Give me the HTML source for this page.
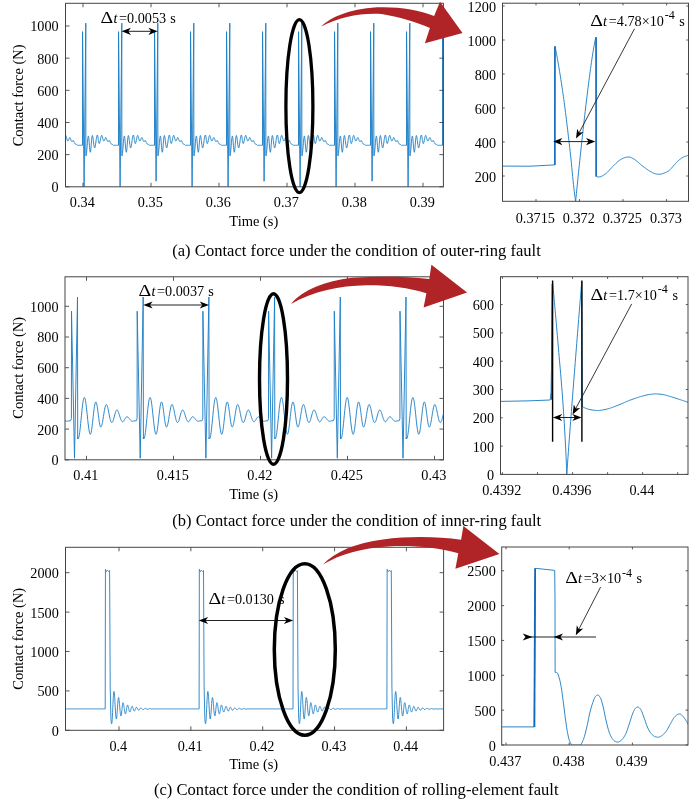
<!DOCTYPE html>
<html><head><meta charset="utf-8"><title>Contact force figures</title>
<style>html,body{margin:0;padding:0;background:#fff}svg{display:block}</style></head><body>
<svg width="700" height="800" viewBox="0 0 700 800" font-family="'Liberation Serif', serif" fill="#000">
<rect width="700" height="800" fill="#fff"/>
<defs>
<clipPath id="ca"><rect x="65.5" y="3.3" width="377.9" height="183.5"/></clipPath>
<clipPath id="ca2"><rect x="502.5" y="3.2" width="186" height="198.1"/></clipPath>
<clipPath id="cb"><rect x="65" y="276.8" width="378.5" height="183"/></clipPath>
<clipPath id="cb2"><rect x="500.5" y="276.7" width="187.5" height="197.7"/></clipPath>
<clipPath id="cc"><rect x="65.5" y="547.3" width="378.1" height="183"/></clipPath>
<clipPath id="cc2"><rect x="501.7" y="547" width="186.3" height="198"/></clipPath>
</defs>
<polyline clip-path="url(#ca)" points="46.5,145.31 46.55,31.63 48.1,181.17 49.8,23.11 49.85,155.44 50,155.86 50.15,155.45 50.3,154.69 50.45,153.62 50.6,152.27 50.75,150.69 50.9,148.95 51.05,147.1 51.2,145.21 51.35,143.35 51.5,141.58 51.65,139.97 51.8,138.58 51.95,137.45 52.1,136.62 52.25,136.13 52.4,136.01 52.55,136.4 52.7,137.25 52.85,138.5 53,140.08 53.15,141.88 53.3,143.82 53.45,145.76 53.6,147.6 53.75,149.25 53.9,150.59 54.05,151.57 54.2,152.12 54.35,152.23 54.5,151.85 54.65,151.05 54.8,149.86 54.95,148.35 55.1,146.6 55.25,144.72 55.4,142.79 55.55,140.94 55.7,139.24 55.85,137.79 56,136.66 56.15,135.89 56.3,135.53 56.45,135.56 56.6,135.87 56.75,136.43 56.9,137.22 57.05,138.2 57.2,139.32 57.35,140.54 57.5,141.81 57.65,143.06 57.8,144.26 57.95,145.34 58.1,146.28 58.25,147.03 58.4,147.57 58.55,147.87 58.7,147.92 58.85,147.75 59,147.37 59.15,146.81 59.3,146.07 59.45,145.2 59.6,144.21 59.75,143.15 59.9,142.03 60.05,140.9 60.2,139.8 60.35,138.75 60.5,137.79 60.65,136.94 60.8,136.23 60.95,135.68 61.1,135.29 61.25,135.07 61.4,135.04 61.55,135.29 61.7,135.79 61.85,136.51 62,137.4 62.15,138.4 62.3,139.44 62.45,140.48 62.6,141.43 62.75,142.26 62.9,142.91 63.05,143.35 63.2,143.57 63.35,143.54 63.5,143.38 63.65,143.07 63.8,142.61 63.95,142.04 64.1,141.37 64.25,140.63 64.4,139.85 64.55,139.06 64.7,138.29 64.85,137.57 65,136.92 65.15,136.36 65.3,135.91 65.45,135.59 65.6,135.4 65.75,135.34 65.9,135.5 66.05,135.8 66.2,136.22 66.35,136.74 66.5,137.32 66.65,137.94 66.8,138.56 66.95,139.15 67.1,139.7 67.25,140.17 67.4,140.54 67.55,140.81 67.7,140.96 67.85,141 68,140.97 68.15,140.9 68.3,140.71 68.45,140.43 68.6,140.07 68.75,139.67 68.9,139.24 69.05,138.82 69.2,138.42 69.35,138.08 69.5,137.82 69.65,137.64 69.8,137.57 69.95,137.6 70.1,137.77 70.25,138.04 70.4,138.38 70.55,138.78 70.7,139.22 70.85,139.66 71,140.09 71.15,140.5 71.3,140.85 71.45,141.14 71.6,141.37 71.75,141.52 71.9,141.6 72.05,141.66 72.2,141.62 72.35,141.48 72.5,141.27 72.65,141.01 72.8,140.76 72.95,140.56 73.1,140.44 73.25,140.43 73.4,140.56 73.55,140.8 73.7,141.08 73.85,141.41 74,141.76 74.15,142.11 74.3,142.47 74.45,142.8 74.6,143.1 74.75,143.36 74.9,143.59 75.05,143.77 75.2,143.92 75.35,144.03 75.5,144.11 75.65,144.18 75.8,144.23 75.95,144.27 76.1,144.32 76.25,144.38 76.4,144.46 76.55,144.55 76.7,144.66 76.85,144.79 77,144.93 77.15,145.09 77.3,145.26 77.45,145.31 77.6,145.31 77.75,145.31 77.9,145.31 78.05,145.31 78.2,145.31 78.35,145.31 78.5,145.31 78.65,145.31 78.8,145.31 78.95,145.31 79.1,145.31 79.25,145.31 79.4,145.31 79.55,145.31 79.7,145.31 79.85,145.31 80,145.31 80.15,145.31 80.3,145.31 80.45,145.31 80.6,145.31 80.75,145.31 80.9,145.31 81.05,145.31 81.2,145.31 81.35,145.31 81.5,145.31 81.65,145.31 81.8,145.31 81.95,145.31 82.1,145.31 82.25,145.31 82.4,145.31 82.5,145.31 82.55,31.63 84.1,186.8 85.8,23.11 85.85,155.44 86,155.86 86.15,155.45 86.3,154.69 86.45,153.62 86.6,152.27 86.75,150.69 86.9,148.95 87.05,147.1 87.2,145.21 87.35,143.35 87.5,141.58 87.65,139.97 87.8,138.58 87.95,137.45 88.1,136.62 88.25,136.13 88.4,136.01 88.55,136.4 88.7,137.25 88.85,138.5 89,140.08 89.15,141.88 89.3,143.82 89.45,145.76 89.6,147.6 89.75,149.25 89.9,150.59 90.05,151.57 90.2,152.12 90.35,152.23 90.5,151.85 90.65,151.05 90.8,149.86 90.95,148.35 91.1,146.6 91.25,144.72 91.4,142.79 91.55,140.94 91.7,139.24 91.85,137.79 92,136.66 92.15,135.89 92.3,135.53 92.45,135.56 92.6,135.87 92.75,136.43 92.9,137.22 93.05,138.2 93.2,139.32 93.35,140.54 93.5,141.81 93.65,143.06 93.8,144.26 93.95,145.34 94.1,146.28 94.25,147.03 94.4,147.57 94.55,147.87 94.7,147.92 94.85,147.75 95,147.37 95.15,146.81 95.3,146.07 95.45,145.2 95.6,144.21 95.75,143.15 95.9,142.03 96.05,140.9 96.2,139.8 96.35,138.75 96.5,137.79 96.65,136.94 96.8,136.23 96.95,135.68 97.1,135.29 97.25,135.07 97.4,135.04 97.55,135.29 97.7,135.79 97.85,136.51 98,137.4 98.15,138.4 98.3,139.44 98.45,140.48 98.6,141.43 98.75,142.26 98.9,142.91 99.05,143.35 99.2,143.57 99.35,143.54 99.5,143.38 99.65,143.07 99.8,142.61 99.95,142.04 100.1,141.37 100.25,140.63 100.4,139.85 100.55,139.06 100.7,138.29 100.85,137.57 101,136.92 101.15,136.36 101.3,135.91 101.45,135.59 101.6,135.4 101.75,135.34 101.9,135.5 102.05,135.8 102.2,136.22 102.35,136.74 102.5,137.32 102.65,137.94 102.8,138.56 102.95,139.15 103.1,139.7 103.25,140.17 103.4,140.54 103.55,140.81 103.7,140.96 103.85,141 104,140.97 104.15,140.9 104.3,140.71 104.45,140.43 104.6,140.07 104.75,139.67 104.9,139.24 105.05,138.82 105.2,138.42 105.35,138.08 105.5,137.82 105.65,137.64 105.8,137.57 105.95,137.6 106.1,137.77 106.25,138.04 106.4,138.38 106.55,138.78 106.7,139.22 106.85,139.66 107,140.09 107.15,140.5 107.3,140.85 107.45,141.14 107.6,141.37 107.75,141.52 107.9,141.6 108.05,141.66 108.2,141.62 108.35,141.48 108.5,141.27 108.65,141.01 108.8,140.76 108.95,140.56 109.1,140.44 109.25,140.43 109.4,140.56 109.55,140.8 109.7,141.08 109.85,141.41 110,141.76 110.15,142.11 110.3,142.47 110.45,142.8 110.6,143.1 110.75,143.36 110.9,143.59 111.05,143.77 111.2,143.92 111.35,144.03 111.5,144.11 111.65,144.18 111.8,144.23 111.95,144.27 112.1,144.32 112.25,144.38 112.4,144.46 112.55,144.55 112.7,144.66 112.85,144.79 113,144.93 113.15,145.09 113.3,145.26 113.45,145.31 113.6,145.31 113.75,145.31 113.9,145.31 114.05,145.31 114.2,145.31 114.35,145.31 114.5,145.31 114.65,145.31 114.8,145.31 114.95,145.31 115.1,145.31 115.25,145.31 115.4,145.31 115.55,145.31 115.7,145.31 115.85,145.31 116,145.31 116.15,145.31 116.3,145.31 116.45,145.31 116.6,145.31 116.75,145.31 116.9,145.31 117.05,145.31 117.2,145.31 117.35,145.31 117.5,145.31 117.65,145.31 117.8,145.31 117.95,145.31 118.1,145.31 118.25,145.31 118.4,145.31 118.5,145.31 118.55,31.63 120.1,186.8 121.8,23.11 121.85,155.44 122,155.86 122.15,155.45 122.3,154.69 122.45,153.62 122.6,152.27 122.75,150.69 122.9,148.95 123.05,147.1 123.2,145.21 123.35,143.35 123.5,141.58 123.65,139.97 123.8,138.58 123.95,137.45 124.1,136.62 124.25,136.13 124.4,136.01 124.55,136.4 124.7,137.25 124.85,138.5 125,140.08 125.15,141.88 125.3,143.82 125.45,145.76 125.6,147.6 125.75,149.25 125.9,150.59 126.05,151.57 126.2,152.12 126.35,152.23 126.5,151.85 126.65,151.05 126.8,149.86 126.95,148.35 127.1,146.6 127.25,144.72 127.4,142.79 127.55,140.94 127.7,139.24 127.85,137.79 128,136.66 128.15,135.89 128.3,135.53 128.45,135.56 128.6,135.87 128.75,136.43 128.9,137.22 129.05,138.2 129.2,139.32 129.35,140.54 129.5,141.81 129.65,143.06 129.8,144.26 129.95,145.34 130.1,146.28 130.25,147.03 130.4,147.57 130.55,147.87 130.7,147.92 130.85,147.75 131,147.37 131.15,146.81 131.3,146.07 131.45,145.2 131.6,144.21 131.75,143.15 131.9,142.03 132.05,140.9 132.2,139.8 132.35,138.75 132.5,137.79 132.65,136.94 132.8,136.23 132.95,135.68 133.1,135.29 133.25,135.07 133.4,135.04 133.55,135.29 133.7,135.79 133.85,136.51 134,137.4 134.15,138.4 134.3,139.44 134.45,140.48 134.6,141.43 134.75,142.26 134.9,142.91 135.05,143.35 135.2,143.57 135.35,143.54 135.5,143.38 135.65,143.07 135.8,142.61 135.95,142.04 136.1,141.37 136.25,140.63 136.4,139.85 136.55,139.06 136.7,138.29 136.85,137.57 137,136.92 137.15,136.36 137.3,135.91 137.45,135.59 137.6,135.4 137.75,135.34 137.9,135.5 138.05,135.8 138.2,136.22 138.35,136.74 138.5,137.32 138.65,137.94 138.8,138.56 138.95,139.15 139.1,139.7 139.25,140.17 139.4,140.54 139.55,140.81 139.7,140.96 139.85,141 140,140.97 140.15,140.9 140.3,140.71 140.45,140.43 140.6,140.07 140.75,139.67 140.9,139.24 141.05,138.82 141.2,138.42 141.35,138.08 141.5,137.82 141.65,137.64 141.8,137.57 141.95,137.6 142.1,137.77 142.25,138.04 142.4,138.38 142.55,138.78 142.7,139.22 142.85,139.66 143,140.09 143.15,140.5 143.3,140.85 143.45,141.14 143.6,141.37 143.75,141.52 143.9,141.6 144.05,141.66 144.2,141.62 144.35,141.48 144.5,141.27 144.65,141.01 144.8,140.76 144.95,140.56 145.1,140.44 145.25,140.43 145.4,140.56 145.55,140.8 145.7,141.08 145.85,141.41 146,141.76 146.15,142.11 146.3,142.47 146.45,142.8 146.6,143.1 146.75,143.36 146.9,143.59 147.05,143.77 147.2,143.92 147.35,144.03 147.5,144.11 147.65,144.18 147.8,144.23 147.95,144.27 148.1,144.32 148.25,144.38 148.4,144.46 148.55,144.55 148.7,144.66 148.85,144.79 149,144.93 149.15,145.09 149.3,145.26 149.45,145.31 149.6,145.31 149.75,145.31 149.9,145.31 150.05,145.31 150.2,145.31 150.35,145.31 150.5,145.31 150.65,145.31 150.8,145.31 150.95,145.31 151.1,145.31 151.25,145.31 151.4,145.31 151.55,145.31 151.7,145.31 151.85,145.31 152,145.31 152.15,145.31 152.3,145.31 152.45,145.31 152.6,145.31 152.75,145.31 152.9,145.31 153.05,145.31 153.2,145.31 153.35,145.31 153.5,145.31 153.65,145.31 153.8,145.31 153.95,145.31 154.1,145.31 154.25,145.31 154.4,145.31 154.5,145.31 154.55,31.63 156.1,181.17 157.8,23.11 157.85,155.44 158,155.86 158.15,155.45 158.3,154.69 158.45,153.62 158.6,152.27 158.75,150.69 158.9,148.95 159.05,147.1 159.2,145.21 159.35,143.35 159.5,141.58 159.65,139.97 159.8,138.58 159.95,137.45 160.1,136.62 160.25,136.13 160.4,136.01 160.55,136.4 160.7,137.25 160.85,138.5 161,140.08 161.15,141.88 161.3,143.82 161.45,145.76 161.6,147.6 161.75,149.25 161.9,150.59 162.05,151.57 162.2,152.12 162.35,152.23 162.5,151.85 162.65,151.05 162.8,149.86 162.95,148.35 163.1,146.6 163.25,144.72 163.4,142.79 163.55,140.94 163.7,139.24 163.85,137.79 164,136.66 164.15,135.89 164.3,135.53 164.45,135.56 164.6,135.87 164.75,136.43 164.9,137.22 165.05,138.2 165.2,139.32 165.35,140.54 165.5,141.81 165.65,143.06 165.8,144.26 165.95,145.34 166.1,146.28 166.25,147.03 166.4,147.57 166.55,147.87 166.7,147.92 166.85,147.75 167,147.37 167.15,146.81 167.3,146.07 167.45,145.2 167.6,144.21 167.75,143.15 167.9,142.03 168.05,140.9 168.2,139.8 168.35,138.75 168.5,137.79 168.65,136.94 168.8,136.23 168.95,135.68 169.1,135.29 169.25,135.07 169.4,135.04 169.55,135.29 169.7,135.79 169.85,136.51 170,137.4 170.15,138.4 170.3,139.44 170.45,140.48 170.6,141.43 170.75,142.26 170.9,142.91 171.05,143.35 171.2,143.57 171.35,143.54 171.5,143.38 171.65,143.07 171.8,142.61 171.95,142.04 172.1,141.37 172.25,140.63 172.4,139.85 172.55,139.06 172.7,138.29 172.85,137.57 173,136.92 173.15,136.36 173.3,135.91 173.45,135.59 173.6,135.4 173.75,135.34 173.9,135.5 174.05,135.8 174.2,136.22 174.35,136.74 174.5,137.32 174.65,137.94 174.8,138.56 174.95,139.15 175.1,139.7 175.25,140.17 175.4,140.54 175.55,140.81 175.7,140.96 175.85,141 176,140.97 176.15,140.9 176.3,140.71 176.45,140.43 176.6,140.07 176.75,139.67 176.9,139.24 177.05,138.82 177.2,138.42 177.35,138.08 177.5,137.82 177.65,137.64 177.8,137.57 177.95,137.6 178.1,137.77 178.25,138.04 178.4,138.38 178.55,138.78 178.7,139.22 178.85,139.66 179,140.09 179.15,140.5 179.3,140.85 179.45,141.14 179.6,141.37 179.75,141.52 179.9,141.6 180.05,141.66 180.2,141.62 180.35,141.48 180.5,141.27 180.65,141.01 180.8,140.76 180.95,140.56 181.1,140.44 181.25,140.43 181.4,140.56 181.55,140.8 181.7,141.08 181.85,141.41 182,141.76 182.15,142.11 182.3,142.47 182.45,142.8 182.6,143.1 182.75,143.36 182.9,143.59 183.05,143.77 183.2,143.92 183.35,144.03 183.5,144.11 183.65,144.18 183.8,144.23 183.95,144.27 184.1,144.32 184.25,144.38 184.4,144.46 184.55,144.55 184.7,144.66 184.85,144.79 185,144.93 185.15,145.09 185.3,145.26 185.45,145.31 185.6,145.31 185.75,145.31 185.9,145.31 186.05,145.31 186.2,145.31 186.35,145.31 186.5,145.31 186.65,145.31 186.8,145.31 186.95,145.31 187.1,145.31 187.25,145.31 187.4,145.31 187.55,145.31 187.7,145.31 187.85,145.31 188,145.31 188.15,145.31 188.3,145.31 188.45,145.31 188.6,145.31 188.75,145.31 188.9,145.31 189.05,145.31 189.2,145.31 189.35,145.31 189.5,145.31 189.65,145.31 189.8,145.31 189.95,145.31 190.1,145.31 190.25,145.31 190.4,145.31 190.5,145.31 190.55,31.63 192.1,186.8 193.8,23.11 193.85,155.44 194,155.86 194.15,155.45 194.3,154.69 194.45,153.62 194.6,152.27 194.75,150.69 194.9,148.95 195.05,147.1 195.2,145.21 195.35,143.35 195.5,141.58 195.65,139.97 195.8,138.58 195.95,137.45 196.1,136.62 196.25,136.13 196.4,136.01 196.55,136.4 196.7,137.25 196.85,138.5 197,140.08 197.15,141.88 197.3,143.82 197.45,145.76 197.6,147.6 197.75,149.25 197.9,150.59 198.05,151.57 198.2,152.12 198.35,152.23 198.5,151.85 198.65,151.05 198.8,149.86 198.95,148.35 199.1,146.6 199.25,144.72 199.4,142.79 199.55,140.94 199.7,139.24 199.85,137.79 200,136.66 200.15,135.89 200.3,135.53 200.45,135.56 200.6,135.87 200.75,136.43 200.9,137.22 201.05,138.2 201.2,139.32 201.35,140.54 201.5,141.81 201.65,143.06 201.8,144.26 201.95,145.34 202.1,146.28 202.25,147.03 202.4,147.57 202.55,147.87 202.7,147.92 202.85,147.75 203,147.37 203.15,146.81 203.3,146.07 203.45,145.2 203.6,144.21 203.75,143.15 203.9,142.03 204.05,140.9 204.2,139.8 204.35,138.75 204.5,137.79 204.65,136.94 204.8,136.23 204.95,135.68 205.1,135.29 205.25,135.07 205.4,135.04 205.55,135.29 205.7,135.79 205.85,136.51 206,137.4 206.15,138.4 206.3,139.44 206.45,140.48 206.6,141.43 206.75,142.26 206.9,142.91 207.05,143.35 207.2,143.57 207.35,143.54 207.5,143.38 207.65,143.07 207.8,142.61 207.95,142.04 208.1,141.37 208.25,140.63 208.4,139.85 208.55,139.06 208.7,138.29 208.85,137.57 209,136.92 209.15,136.36 209.3,135.91 209.45,135.59 209.6,135.4 209.75,135.34 209.9,135.5 210.05,135.8 210.2,136.22 210.35,136.74 210.5,137.32 210.65,137.94 210.8,138.56 210.95,139.15 211.1,139.7 211.25,140.17 211.4,140.54 211.55,140.81 211.7,140.96 211.85,141 212,140.97 212.15,140.9 212.3,140.71 212.45,140.43 212.6,140.07 212.75,139.67 212.9,139.24 213.05,138.82 213.2,138.42 213.35,138.08 213.5,137.82 213.65,137.64 213.8,137.57 213.95,137.6 214.1,137.77 214.25,138.04 214.4,138.38 214.55,138.78 214.7,139.22 214.85,139.66 215,140.09 215.15,140.5 215.3,140.85 215.45,141.14 215.6,141.37 215.75,141.52 215.9,141.6 216.05,141.66 216.2,141.62 216.35,141.48 216.5,141.27 216.65,141.01 216.8,140.76 216.95,140.56 217.1,140.44 217.25,140.43 217.4,140.56 217.55,140.8 217.7,141.08 217.85,141.41 218,141.76 218.15,142.11 218.3,142.47 218.45,142.8 218.6,143.1 218.75,143.36 218.9,143.59 219.05,143.77 219.2,143.92 219.35,144.03 219.5,144.11 219.65,144.18 219.8,144.23 219.95,144.27 220.1,144.32 220.25,144.38 220.4,144.46 220.55,144.55 220.7,144.66 220.85,144.79 221,144.93 221.15,145.09 221.3,145.26 221.45,145.31 221.6,145.31 221.75,145.31 221.9,145.31 222.05,145.31 222.2,145.31 222.35,145.31 222.5,145.31 222.65,145.31 222.8,145.31 222.95,145.31 223.1,145.31 223.25,145.31 223.4,145.31 223.55,145.31 223.7,145.31 223.85,145.31 224,145.31 224.15,145.31 224.3,145.31 224.45,145.31 224.6,145.31 224.75,145.31 224.9,145.31 225.05,145.31 225.2,145.31 225.35,145.31 225.5,145.31 225.65,145.31 225.8,145.31 225.95,145.31 226.1,145.31 226.25,145.31 226.4,145.31 226.5,145.31 226.55,31.63 228.1,186.8 229.8,23.11 229.85,155.44 230,155.86 230.15,155.45 230.3,154.69 230.45,153.62 230.6,152.27 230.75,150.69 230.9,148.95 231.05,147.1 231.2,145.21 231.35,143.35 231.5,141.58 231.65,139.97 231.8,138.58 231.95,137.45 232.1,136.62 232.25,136.13 232.4,136.01 232.55,136.4 232.7,137.25 232.85,138.5 233,140.08 233.15,141.88 233.3,143.82 233.45,145.76 233.6,147.6 233.75,149.25 233.9,150.59 234.05,151.57 234.2,152.12 234.35,152.23 234.5,151.85 234.65,151.05 234.8,149.86 234.95,148.35 235.1,146.6 235.25,144.72 235.4,142.79 235.55,140.94 235.7,139.24 235.85,137.79 236,136.66 236.15,135.89 236.3,135.53 236.45,135.56 236.6,135.87 236.75,136.43 236.9,137.22 237.05,138.2 237.2,139.32 237.35,140.54 237.5,141.81 237.65,143.06 237.8,144.26 237.95,145.34 238.1,146.28 238.25,147.03 238.4,147.57 238.55,147.87 238.7,147.92 238.85,147.75 239,147.37 239.15,146.81 239.3,146.07 239.45,145.2 239.6,144.21 239.75,143.15 239.9,142.03 240.05,140.9 240.2,139.8 240.35,138.75 240.5,137.79 240.65,136.94 240.8,136.23 240.95,135.68 241.1,135.29 241.25,135.07 241.4,135.04 241.55,135.29 241.7,135.79 241.85,136.51 242,137.4 242.15,138.4 242.3,139.44 242.45,140.48 242.6,141.43 242.75,142.26 242.9,142.91 243.05,143.35 243.2,143.57 243.35,143.54 243.5,143.38 243.65,143.07 243.8,142.61 243.95,142.04 244.1,141.37 244.25,140.63 244.4,139.85 244.55,139.06 244.7,138.29 244.85,137.57 245,136.92 245.15,136.36 245.3,135.91 245.45,135.59 245.6,135.4 245.75,135.34 245.9,135.5 246.05,135.8 246.2,136.22 246.35,136.74 246.5,137.32 246.65,137.94 246.8,138.56 246.95,139.15 247.1,139.7 247.25,140.17 247.4,140.54 247.55,140.81 247.7,140.96 247.85,141 248,140.97 248.15,140.9 248.3,140.71 248.45,140.43 248.6,140.07 248.75,139.67 248.9,139.24 249.05,138.82 249.2,138.42 249.35,138.08 249.5,137.82 249.65,137.64 249.8,137.57 249.95,137.6 250.1,137.77 250.25,138.04 250.4,138.38 250.55,138.78 250.7,139.22 250.85,139.66 251,140.09 251.15,140.5 251.3,140.85 251.45,141.14 251.6,141.37 251.75,141.52 251.9,141.6 252.05,141.66 252.2,141.62 252.35,141.48 252.5,141.27 252.65,141.01 252.8,140.76 252.95,140.56 253.1,140.44 253.25,140.43 253.4,140.56 253.55,140.8 253.7,141.08 253.85,141.41 254,141.76 254.15,142.11 254.3,142.47 254.45,142.8 254.6,143.1 254.75,143.36 254.9,143.59 255.05,143.77 255.2,143.92 255.35,144.03 255.5,144.11 255.65,144.18 255.8,144.23 255.95,144.27 256.1,144.32 256.25,144.38 256.4,144.46 256.55,144.55 256.7,144.66 256.85,144.79 257,144.93 257.15,145.09 257.3,145.26 257.45,145.31 257.6,145.31 257.75,145.31 257.9,145.31 258.05,145.31 258.2,145.31 258.35,145.31 258.5,145.31 258.65,145.31 258.8,145.31 258.95,145.31 259.1,145.31 259.25,145.31 259.4,145.31 259.55,145.31 259.7,145.31 259.85,145.31 260,145.31 260.15,145.31 260.3,145.31 260.45,145.31 260.6,145.31 260.75,145.31 260.9,145.31 261.05,145.31 261.2,145.31 261.35,145.31 261.5,145.31 261.65,145.31 261.8,145.31 261.95,145.31 262.1,145.31 262.25,145.31 262.4,145.31 262.5,145.31 262.55,31.63 264.1,181.17 265.8,23.11 265.85,155.44 266,155.86 266.15,155.45 266.3,154.69 266.45,153.62 266.6,152.27 266.75,150.69 266.9,148.95 267.05,147.1 267.2,145.21 267.35,143.35 267.5,141.58 267.65,139.97 267.8,138.58 267.95,137.45 268.1,136.62 268.25,136.13 268.4,136.01 268.55,136.4 268.7,137.25 268.85,138.5 269,140.08 269.15,141.88 269.3,143.82 269.45,145.76 269.6,147.6 269.75,149.25 269.9,150.59 270.05,151.57 270.2,152.12 270.35,152.23 270.5,151.85 270.65,151.05 270.8,149.86 270.95,148.35 271.1,146.6 271.25,144.72 271.4,142.79 271.55,140.94 271.7,139.24 271.85,137.79 272,136.66 272.15,135.89 272.3,135.53 272.45,135.56 272.6,135.87 272.75,136.43 272.9,137.22 273.05,138.2 273.2,139.32 273.35,140.54 273.5,141.81 273.65,143.06 273.8,144.26 273.95,145.34 274.1,146.28 274.25,147.03 274.4,147.57 274.55,147.87 274.7,147.92 274.85,147.75 275,147.37 275.15,146.81 275.3,146.07 275.45,145.2 275.6,144.21 275.75,143.15 275.9,142.03 276.05,140.9 276.2,139.8 276.35,138.75 276.5,137.79 276.65,136.94 276.8,136.23 276.95,135.68 277.1,135.29 277.25,135.07 277.4,135.04 277.55,135.29 277.7,135.79 277.85,136.51 278,137.4 278.15,138.4 278.3,139.44 278.45,140.48 278.6,141.43 278.75,142.26 278.9,142.91 279.05,143.35 279.2,143.57 279.35,143.54 279.5,143.38 279.65,143.07 279.8,142.61 279.95,142.04 280.1,141.37 280.25,140.63 280.4,139.85 280.55,139.06 280.7,138.29 280.85,137.57 281,136.92 281.15,136.36 281.3,135.91 281.45,135.59 281.6,135.4 281.75,135.34 281.9,135.5 282.05,135.8 282.2,136.22 282.35,136.74 282.5,137.32 282.65,137.94 282.8,138.56 282.95,139.15 283.1,139.7 283.25,140.17 283.4,140.54 283.55,140.81 283.7,140.96 283.85,141 284,140.97 284.15,140.9 284.3,140.71 284.45,140.43 284.6,140.07 284.75,139.67 284.9,139.24 285.05,138.82 285.2,138.42 285.35,138.08 285.5,137.82 285.65,137.64 285.8,137.57 285.95,137.6 286.1,137.77 286.25,138.04 286.4,138.38 286.55,138.78 286.7,139.22 286.85,139.66 287,140.09 287.15,140.5 287.3,140.85 287.45,141.14 287.6,141.37 287.75,141.52 287.9,141.6 288.05,141.66 288.2,141.62 288.35,141.48 288.5,141.27 288.65,141.01 288.8,140.76 288.95,140.56 289.1,140.44 289.25,140.43 289.4,140.56 289.55,140.8 289.7,141.08 289.85,141.41 290,141.76 290.15,142.11 290.3,142.47 290.45,142.8 290.6,143.1 290.75,143.36 290.9,143.59 291.05,143.77 291.2,143.92 291.35,144.03 291.5,144.11 291.65,144.18 291.8,144.23 291.95,144.27 292.1,144.32 292.25,144.38 292.4,144.46 292.55,144.55 292.7,144.66 292.85,144.79 293,144.93 293.15,145.09 293.3,145.26 293.45,145.31 293.6,145.31 293.75,145.31 293.9,145.31 294.05,145.31 294.2,145.31 294.35,145.31 294.5,145.31 294.65,145.31 294.8,145.31 294.95,145.31 295.1,145.31 295.25,145.31 295.4,145.31 295.55,145.31 295.7,145.31 295.85,145.31 296,145.31 296.15,145.31 296.3,145.31 296.45,145.31 296.6,145.31 296.75,145.31 296.9,145.31 297.05,145.31 297.2,145.31 297.35,145.31 297.5,145.31 297.65,145.31 297.8,145.31 297.95,145.31 298.1,145.31 298.25,145.31 298.4,145.31 298.5,145.31 298.55,31.63 300.1,186.8 301.8,23.11 301.85,155.44 302,155.86 302.15,155.45 302.3,154.69 302.45,153.62 302.6,152.27 302.75,150.69 302.9,148.95 303.05,147.1 303.2,145.21 303.35,143.35 303.5,141.58 303.65,139.97 303.8,138.58 303.95,137.45 304.1,136.62 304.25,136.13 304.4,136.01 304.55,136.4 304.7,137.25 304.85,138.5 305,140.08 305.15,141.88 305.3,143.82 305.45,145.76 305.6,147.6 305.75,149.25 305.9,150.59 306.05,151.57 306.2,152.12 306.35,152.23 306.5,151.85 306.65,151.05 306.8,149.86 306.95,148.35 307.1,146.6 307.25,144.72 307.4,142.79 307.55,140.94 307.7,139.24 307.85,137.79 308,136.66 308.15,135.89 308.3,135.53 308.45,135.56 308.6,135.87 308.75,136.43 308.9,137.22 309.05,138.2 309.2,139.32 309.35,140.54 309.5,141.81 309.65,143.06 309.8,144.26 309.95,145.34 310.1,146.28 310.25,147.03 310.4,147.57 310.55,147.87 310.7,147.92 310.85,147.75 311,147.37 311.15,146.81 311.3,146.07 311.45,145.2 311.6,144.21 311.75,143.15 311.9,142.03 312.05,140.9 312.2,139.8 312.35,138.75 312.5,137.79 312.65,136.94 312.8,136.23 312.95,135.68 313.1,135.29 313.25,135.07 313.4,135.04 313.55,135.29 313.7,135.79 313.85,136.51 314,137.4 314.15,138.4 314.3,139.44 314.45,140.48 314.6,141.43 314.75,142.26 314.9,142.91 315.05,143.35 315.2,143.57 315.35,143.54 315.5,143.38 315.65,143.07 315.8,142.61 315.95,142.04 316.1,141.37 316.25,140.63 316.4,139.85 316.55,139.06 316.7,138.29 316.85,137.57 317,136.92 317.15,136.36 317.3,135.91 317.45,135.59 317.6,135.4 317.75,135.34 317.9,135.5 318.05,135.8 318.2,136.22 318.35,136.74 318.5,137.32 318.65,137.94 318.8,138.56 318.95,139.15 319.1,139.7 319.25,140.17 319.4,140.54 319.55,140.81 319.7,140.96 319.85,141 320,140.97 320.15,140.9 320.3,140.71 320.45,140.43 320.6,140.07 320.75,139.67 320.9,139.24 321.05,138.82 321.2,138.42 321.35,138.08 321.5,137.82 321.65,137.64 321.8,137.57 321.95,137.6 322.1,137.77 322.25,138.04 322.4,138.38 322.55,138.78 322.7,139.22 322.85,139.66 323,140.09 323.15,140.5 323.3,140.85 323.45,141.14 323.6,141.37 323.75,141.52 323.9,141.6 324.05,141.66 324.2,141.62 324.35,141.48 324.5,141.27 324.65,141.01 324.8,140.76 324.95,140.56 325.1,140.44 325.25,140.43 325.4,140.56 325.55,140.8 325.7,141.08 325.85,141.41 326,141.76 326.15,142.11 326.3,142.47 326.45,142.8 326.6,143.1 326.75,143.36 326.9,143.59 327.05,143.77 327.2,143.92 327.35,144.03 327.5,144.11 327.65,144.18 327.8,144.23 327.95,144.27 328.1,144.32 328.25,144.38 328.4,144.46 328.55,144.55 328.7,144.66 328.85,144.79 329,144.93 329.15,145.09 329.3,145.26 329.45,145.31 329.6,145.31 329.75,145.31 329.9,145.31 330.05,145.31 330.2,145.31 330.35,145.31 330.5,145.31 330.65,145.31 330.8,145.31 330.95,145.31 331.1,145.31 331.25,145.31 331.4,145.31 331.55,145.31 331.7,145.31 331.85,145.31 332,145.31 332.15,145.31 332.3,145.31 332.45,145.31 332.6,145.31 332.75,145.31 332.9,145.31 333.05,145.31 333.2,145.31 333.35,145.31 333.5,145.31 333.65,145.31 333.8,145.31 333.95,145.31 334.1,145.31 334.25,145.31 334.4,145.31 334.5,145.31 334.55,31.63 336.1,186.8 337.8,23.11 337.85,155.44 338,155.86 338.15,155.45 338.3,154.69 338.45,153.62 338.6,152.27 338.75,150.69 338.9,148.95 339.05,147.1 339.2,145.21 339.35,143.35 339.5,141.58 339.65,139.97 339.8,138.58 339.95,137.45 340.1,136.62 340.25,136.13 340.4,136.01 340.55,136.4 340.7,137.25 340.85,138.5 341,140.08 341.15,141.88 341.3,143.82 341.45,145.76 341.6,147.6 341.75,149.25 341.9,150.59 342.05,151.57 342.2,152.12 342.35,152.23 342.5,151.85 342.65,151.05 342.8,149.86 342.95,148.35 343.1,146.6 343.25,144.72 343.4,142.79 343.55,140.94 343.7,139.24 343.85,137.79 344,136.66 344.15,135.89 344.3,135.53 344.45,135.56 344.6,135.87 344.75,136.43 344.9,137.22 345.05,138.2 345.2,139.32 345.35,140.54 345.5,141.81 345.65,143.06 345.8,144.26 345.95,145.34 346.1,146.28 346.25,147.03 346.4,147.57 346.55,147.87 346.7,147.92 346.85,147.75 347,147.37 347.15,146.81 347.3,146.07 347.45,145.2 347.6,144.21 347.75,143.15 347.9,142.03 348.05,140.9 348.2,139.8 348.35,138.75 348.5,137.79 348.65,136.94 348.8,136.23 348.95,135.68 349.1,135.29 349.25,135.07 349.4,135.04 349.55,135.29 349.7,135.79 349.85,136.51 350,137.4 350.15,138.4 350.3,139.44 350.45,140.48 350.6,141.43 350.75,142.26 350.9,142.91 351.05,143.35 351.2,143.57 351.35,143.54 351.5,143.38 351.65,143.07 351.8,142.61 351.95,142.04 352.1,141.37 352.25,140.63 352.4,139.85 352.55,139.06 352.7,138.29 352.85,137.57 353,136.92 353.15,136.36 353.3,135.91 353.45,135.59 353.6,135.4 353.75,135.34 353.9,135.5 354.05,135.8 354.2,136.22 354.35,136.74 354.5,137.32 354.65,137.94 354.8,138.56 354.95,139.15 355.1,139.7 355.25,140.17 355.4,140.54 355.55,140.81 355.7,140.96 355.85,141 356,140.97 356.15,140.9 356.3,140.71 356.45,140.43 356.6,140.07 356.75,139.67 356.9,139.24 357.05,138.82 357.2,138.42 357.35,138.08 357.5,137.82 357.65,137.64 357.8,137.57 357.95,137.6 358.1,137.77 358.25,138.04 358.4,138.38 358.55,138.78 358.7,139.22 358.85,139.66 359,140.09 359.15,140.5 359.3,140.85 359.45,141.14 359.6,141.37 359.75,141.52 359.9,141.6 360.05,141.66 360.2,141.62 360.35,141.48 360.5,141.27 360.65,141.01 360.8,140.76 360.95,140.56 361.1,140.44 361.25,140.43 361.4,140.56 361.55,140.8 361.7,141.08 361.85,141.41 362,141.76 362.15,142.11 362.3,142.47 362.45,142.8 362.6,143.1 362.75,143.36 362.9,143.59 363.05,143.77 363.2,143.92 363.35,144.03 363.5,144.11 363.65,144.18 363.8,144.23 363.95,144.27 364.1,144.32 364.25,144.38 364.4,144.46 364.55,144.55 364.7,144.66 364.85,144.79 365,144.93 365.15,145.09 365.3,145.26 365.45,145.31 365.6,145.31 365.75,145.31 365.9,145.31 366.05,145.31 366.2,145.31 366.35,145.31 366.5,145.31 366.65,145.31 366.8,145.31 366.95,145.31 367.1,145.31 367.25,145.31 367.4,145.31 367.55,145.31 367.7,145.31 367.85,145.31 368,145.31 368.15,145.31 368.3,145.31 368.45,145.31 368.6,145.31 368.75,145.31 368.9,145.31 369.05,145.31 369.2,145.31 369.35,145.31 369.5,145.31 369.65,145.31 369.8,145.31 369.95,145.31 370.1,145.31 370.25,145.31 370.4,145.31 370.5,145.31 370.55,31.63 372.1,181.17 373.8,23.11 373.85,155.44 374,155.86 374.15,155.45 374.3,154.69 374.45,153.62 374.6,152.27 374.75,150.69 374.9,148.95 375.05,147.1 375.2,145.21 375.35,143.35 375.5,141.58 375.65,139.97 375.8,138.58 375.95,137.45 376.1,136.62 376.25,136.13 376.4,136.01 376.55,136.4 376.7,137.25 376.85,138.5 377,140.08 377.15,141.88 377.3,143.82 377.45,145.76 377.6,147.6 377.75,149.25 377.9,150.59 378.05,151.57 378.2,152.12 378.35,152.23 378.5,151.85 378.65,151.05 378.8,149.86 378.95,148.35 379.1,146.6 379.25,144.72 379.4,142.79 379.55,140.94 379.7,139.24 379.85,137.79 380,136.66 380.15,135.89 380.3,135.53 380.45,135.56 380.6,135.87 380.75,136.43 380.9,137.22 381.05,138.2 381.2,139.32 381.35,140.54 381.5,141.81 381.65,143.06 381.8,144.26 381.95,145.34 382.1,146.28 382.25,147.03 382.4,147.57 382.55,147.87 382.7,147.92 382.85,147.75 383,147.37 383.15,146.81 383.3,146.07 383.45,145.2 383.6,144.21 383.75,143.15 383.9,142.03 384.05,140.9 384.2,139.8 384.35,138.75 384.5,137.79 384.65,136.94 384.8,136.23 384.95,135.68 385.1,135.29 385.25,135.07 385.4,135.04 385.55,135.29 385.7,135.79 385.85,136.51 386,137.4 386.15,138.4 386.3,139.44 386.45,140.48 386.6,141.43 386.75,142.26 386.9,142.91 387.05,143.35 387.2,143.57 387.35,143.54 387.5,143.38 387.65,143.07 387.8,142.61 387.95,142.04 388.1,141.37 388.25,140.63 388.4,139.85 388.55,139.06 388.7,138.29 388.85,137.57 389,136.92 389.15,136.36 389.3,135.91 389.45,135.59 389.6,135.4 389.75,135.34 389.9,135.5 390.05,135.8 390.2,136.22 390.35,136.74 390.5,137.32 390.65,137.94 390.8,138.56 390.95,139.15 391.1,139.7 391.25,140.17 391.4,140.54 391.55,140.81 391.7,140.96 391.85,141 392,140.97 392.15,140.9 392.3,140.71 392.45,140.43 392.6,140.07 392.75,139.67 392.9,139.24 393.05,138.82 393.2,138.42 393.35,138.08 393.5,137.82 393.65,137.64 393.8,137.57 393.95,137.6 394.1,137.77 394.25,138.04 394.4,138.38 394.55,138.78 394.7,139.22 394.85,139.66 395,140.09 395.15,140.5 395.3,140.85 395.45,141.14 395.6,141.37 395.75,141.52 395.9,141.6 396.05,141.66 396.2,141.62 396.35,141.48 396.5,141.27 396.65,141.01 396.8,140.76 396.95,140.56 397.1,140.44 397.25,140.43 397.4,140.56 397.55,140.8 397.7,141.08 397.85,141.41 398,141.76 398.15,142.11 398.3,142.47 398.45,142.8 398.6,143.1 398.75,143.36 398.9,143.59 399.05,143.77 399.2,143.92 399.35,144.03 399.5,144.11 399.65,144.18 399.8,144.23 399.95,144.27 400.1,144.32 400.25,144.38 400.4,144.46 400.55,144.55 400.7,144.66 400.85,144.79 401,144.93 401.15,145.09 401.3,145.26 401.45,145.31 401.6,145.31 401.75,145.31 401.9,145.31 402.05,145.31 402.2,145.31 402.35,145.31 402.5,145.31 402.65,145.31 402.8,145.31 402.95,145.31 403.1,145.31 403.25,145.31 403.4,145.31 403.55,145.31 403.7,145.31 403.85,145.31 404,145.31 404.15,145.31 404.3,145.31 404.45,145.31 404.6,145.31 404.75,145.31 404.9,145.31 405.05,145.31 405.2,145.31 405.35,145.31 405.5,145.31 405.65,145.31 405.8,145.31 405.95,145.31 406.1,145.31 406.25,145.31 406.4,145.31 406.5,145.31 406.55,31.63 408.1,186.8 409.8,23.11 409.85,155.44 410,155.86 410.15,155.45 410.3,154.69 410.45,153.62 410.6,152.27 410.75,150.69 410.9,148.95 411.05,147.1 411.2,145.21 411.35,143.35 411.5,141.58 411.65,139.97 411.8,138.58 411.95,137.45 412.1,136.62 412.25,136.13 412.4,136.01 412.55,136.4 412.7,137.25 412.85,138.5 413,140.08 413.15,141.88 413.3,143.82 413.45,145.76 413.6,147.6 413.75,149.25 413.9,150.59 414.05,151.57 414.2,152.12 414.35,152.23 414.5,151.85 414.65,151.05 414.8,149.86 414.95,148.35 415.1,146.6 415.25,144.72 415.4,142.79 415.55,140.94 415.7,139.24 415.85,137.79 416,136.66 416.15,135.89 416.3,135.53 416.45,135.56 416.6,135.87 416.75,136.43 416.9,137.22 417.05,138.2 417.2,139.32 417.35,140.54 417.5,141.81 417.65,143.06 417.8,144.26 417.95,145.34 418.1,146.28 418.25,147.03 418.4,147.57 418.55,147.87 418.7,147.92 418.85,147.75 419,147.37 419.15,146.81 419.3,146.07 419.45,145.2 419.6,144.21 419.75,143.15 419.9,142.03 420.05,140.9 420.2,139.8 420.35,138.75 420.5,137.79 420.65,136.94 420.8,136.23 420.95,135.68 421.1,135.29 421.25,135.07 421.4,135.04 421.55,135.29 421.7,135.79 421.85,136.51 422,137.4 422.15,138.4 422.3,139.44 422.45,140.48 422.6,141.43 422.75,142.26 422.9,142.91 423.05,143.35 423.2,143.57 423.35,143.54 423.5,143.38 423.65,143.07 423.8,142.61 423.95,142.04 424.1,141.37 424.25,140.63 424.4,139.85 424.55,139.06 424.7,138.29 424.85,137.57 425,136.92 425.15,136.36 425.3,135.91 425.45,135.59 425.6,135.4 425.75,135.34 425.9,135.5 426.05,135.8 426.2,136.22 426.35,136.74 426.5,137.32 426.65,137.94 426.8,138.56 426.95,139.15 427.1,139.7 427.25,140.17 427.4,140.54 427.55,140.81 427.7,140.96 427.85,141 428,140.97 428.15,140.9 428.3,140.71 428.45,140.43 428.6,140.07 428.75,139.67 428.9,139.24 429.05,138.82 429.2,138.42 429.35,138.08 429.5,137.82 429.65,137.64 429.8,137.57 429.95,137.6 430.1,137.77 430.25,138.04 430.4,138.38 430.55,138.78 430.7,139.22 430.85,139.66 431,140.09 431.15,140.5 431.3,140.85 431.45,141.14 431.6,141.37 431.75,141.52 431.9,141.6 432.05,141.66 432.2,141.62 432.35,141.48 432.5,141.27 432.65,141.01 432.8,140.76 432.95,140.56 433.1,140.44 433.25,140.43 433.4,140.56 433.55,140.8 433.7,141.08 433.85,141.41 434,141.76 434.15,142.11 434.3,142.47 434.45,142.8 434.6,143.1 434.75,143.36 434.9,143.59 435.05,143.77 435.2,143.92 435.35,144.03 435.5,144.11 435.65,144.18 435.8,144.23 435.95,144.27 436.1,144.32 436.25,144.38 436.4,144.46 436.55,144.55 436.7,144.66 436.85,144.79 437,144.93 437.15,145.09 437.3,145.26 437.45,145.31 437.6,145.31 437.75,145.31 437.9,145.31 438.05,145.31 438.2,145.31 438.35,145.31 438.5,145.31 438.65,145.31 438.8,145.31 438.95,145.31 439.1,145.31 439.25,145.31 439.4,145.31 439.55,145.31 439.7,145.31 439.85,145.31 440,145.31 440.15,145.31 440.3,145.31 440.45,145.31 440.6,145.31 440.75,145.31 440.9,145.31 441.05,145.31 441.2,145.31 441.35,145.31 441.5,145.31 441.65,145.31 441.8,145.31 441.95,145.31 442.1,145.31 442.25,145.31 442.4,145.31 442.5,145.31 442.55,31.63 444.1,186.8 445.8,23.11 445.85,155.44 446,155.86 446.15,155.45 446.3,154.69 446.45,153.62 446.6,152.27 446.75,150.69 446.9,148.95 447.05,147.1 447.2,145.21 447.35,143.35 447.5,141.58 447.65,139.97 447.8,138.58 447.95,137.45 448.1,136.62 448.25,136.13 448.4,136.01 448.55,136.4 448.7,137.25 448.85,138.5 449,140.08 449.15,141.88 449.3,143.82 449.45,145.76 449.6,147.6 449.75,149.25 449.9,150.59 450.05,151.57 450.2,152.12 450.35,152.23 450.5,151.85 450.65,151.05 450.8,149.86 450.95,148.35 451.1,146.6 451.25,144.72 451.4,142.79 451.55,140.94 451.7,139.24 451.85,137.79 452,136.66 452.15,135.89 452.3,135.53 452.45,135.56 452.6,135.87 452.75,136.43 452.9,137.22 453.05,138.2 453.2,139.32 453.35,140.54 453.5,141.81 453.65,143.06 453.8,144.26 453.95,145.34 454.1,146.28 454.25,147.03 454.4,147.57 454.55,147.87 454.7,147.92 454.85,147.75 455,147.37 455.15,146.81 455.3,146.07 455.45,145.2 455.6,144.21 455.75,143.15 455.9,142.03 456.05,140.9 456.2,139.8 456.35,138.75 456.5,137.79 456.65,136.94 456.8,136.23 456.95,135.68 457.1,135.29 457.25,135.07 457.4,135.04 457.55,135.29 457.7,135.79 457.85,136.51 458,137.4 458.15,138.4 458.3,139.44 458.45,140.48 458.6,141.43 458.75,142.26 458.9,142.91 459.05,143.35 459.2,143.57 459.35,143.54 459.5,143.38 459.65,143.07 459.8,142.61 459.95,142.04 460.1,141.37 460.25,140.63 460.4,139.85 460.55,139.06 460.7,138.29 460.85,137.57 461,136.92 461.15,136.36 461.3,135.91 461.45,135.59 461.6,135.4 461.75,135.34 461.9,135.5 462.05,135.8 462.2,136.22 462.35,136.74 462.5,137.32 462.65,137.94 462.8,138.56 462.95,139.15 463.1,139.7 463.25,140.17 463.4,140.54 463.55,140.81 463.7,140.96 463.85,141 464,140.97 464.15,140.9 464.3,140.71 464.45,140.43 464.6,140.07 464.75,139.67 464.9,139.24 465.05,138.82 465.2,138.42 465.35,138.08 465.5,137.82 465.65,137.64 465.8,137.57 465.95,137.6 466.1,137.77 466.25,138.04 466.4,138.38 466.55,138.78 466.7,139.22 466.85,139.66 467,140.09 467.15,140.5 467.3,140.85 467.45,141.14 467.6,141.37 467.75,141.52 467.9,141.6 468.05,141.66 468.2,141.62 468.35,141.48 468.5,141.27 468.65,141.01 468.8,140.76 468.95,140.56 469.1,140.44 469.25,140.43 469.4,140.56 469.55,140.8 469.7,141.08 469.85,141.41 470,141.76 470.15,142.11 470.3,142.47 470.45,142.8 470.6,143.1 470.75,143.36 470.9,143.59 471.05,143.77 471.2,143.92 471.35,144.03 471.5,144.11 471.65,144.18 471.8,144.23 471.95,144.27 472.1,144.32 472.25,144.38 472.4,144.46 472.55,144.55 472.7,144.66 472.85,144.79 473,144.93 473.15,145.09 473.3,145.26 473.45,145.31 473.6,145.31 473.75,145.31 473.9,145.31 474.05,145.31 474.2,145.31 474.35,145.31 474.5,145.31 474.65,145.31 474.8,145.31 474.95,145.31 475.1,145.31 475.25,145.31 475.4,145.31 475.55,145.31 475.7,145.31 475.85,145.31 476,145.31 476.15,145.31 476.3,145.31 476.45,145.31 476.6,145.31 476.75,145.31 476.9,145.31 477.05,145.31 477.2,145.31 477.35,145.31 477.5,145.31 477.65,145.31 477.8,145.31 477.95,145.31 478.1,145.31 478.25,145.31 478.4,145.31" fill="none" stroke="#1f7fc6" stroke-width="0.95" stroke-linejoin="round"/>
<rect x="65.5" y="3.3" width="377.9" height="183.5" fill="none" stroke="#454545" stroke-width="1"/>
<path d="M83,186.8v-4M83,3.3v4M151,186.8v-4M151,3.3v4M219,186.8v-4M219,3.3v4M287,186.8v-4M287,3.3v4M355,186.8v-4M355,3.3v4M423,186.8v-4M423,3.3v4M65.5,186.8h4M443.4,186.8h-4M65.5,154.64h4M443.4,154.64h-4M65.5,122.48h4M443.4,122.48h-4M65.5,90.32h4M443.4,90.32h-4M65.5,58.16h4M443.4,58.16h-4M65.5,26h4M443.4,26h-4" stroke="#454545" stroke-width="0.9" fill="none"/>
<text transform="translate(82.3,207.2) scale(0.93,1)" text-anchor="middle" font-size="15.3">0.34</text>
<text transform="translate(150.3,207.2) scale(0.93,1)" text-anchor="middle" font-size="15.3">0.35</text>
<text transform="translate(218.3,207.2) scale(0.93,1)" text-anchor="middle" font-size="15.3">0.36</text>
<text transform="translate(286.3,207.2) scale(0.93,1)" text-anchor="middle" font-size="15.3">0.37</text>
<text transform="translate(354.3,207.2) scale(0.93,1)" text-anchor="middle" font-size="15.3">0.38</text>
<text transform="translate(422.3,207.2) scale(0.93,1)" text-anchor="middle" font-size="15.3">0.39</text>
<text transform="translate(58.6,192.2) scale(0.93,1)" text-anchor="end" font-size="15.3">0</text>
<text transform="translate(58.6,160.04) scale(0.93,1)" text-anchor="end" font-size="15.3">200</text>
<text transform="translate(58.6,127.88) scale(0.93,1)" text-anchor="end" font-size="15.3">400</text>
<text transform="translate(58.6,95.72) scale(0.93,1)" text-anchor="end" font-size="15.3">600</text>
<text transform="translate(58.6,63.56) scale(0.93,1)" text-anchor="end" font-size="15.3">800</text>
<text transform="translate(58.6,31.4) scale(0.93,1)" text-anchor="end" font-size="15.3">1000</text>
<text x="253.8" y="225.8" text-anchor="middle" font-size="14.5">Time (s)</text>
<text transform="translate(22.7,95.4) rotate(-90)" text-anchor="middle" font-size="14.45">Contact force (N)</text>
<line x1="127.18" y1="31.3" x2="152.12" y2="31.3" stroke="#222" stroke-width="1.0"/>
<polygon points="121.6,31.3 130.9,34.9 128.3,31.3 130.9,27.7" fill="#000"/>
<polygon points="157.7,31.3 148.4,27.7 151,31.3 148.4,34.9" fill="#000"/>
<text x="100.6" y="23" font-size="15.9" textLength="12.7" lengthAdjust="spacingAndGlyphs">Δ</text>
<text x="113.4" y="23" font-size="14.2" font-style="italic">t</text>
<text x="119.1" y="23" font-size="14.2">=0.0053</text>
<text x="170.21" y="23" font-size="14.2">s</text>
<ellipse cx="299.4" cy="106.2" rx="13.5" ry="86.5" fill="none" stroke="#000" stroke-width="3.3"/>
<polyline clip-path="url(#ca2)" points="502.5,166.1 530,166.2 554.7,164.9 554.9,60 555,46.2 555.42,48.28 555.84,50.41 556.26,52.58 556.68,54.8 557.1,57.07 557.52,59.38 557.94,61.74 558.36,64.14 558.78,66.58 559.2,69.07 559.62,71.6 560.04,74.18 560.47,76.81 560.89,79.49 561.31,82.22 561.73,84.99 562.15,87.81 562.57,90.68 562.99,93.59 563.41,96.56 563.83,99.57 564.25,102.65 564.67,105.82 565.09,109.07 565.51,112.38 565.93,115.75 566.35,119.16 566.77,122.61 567.19,126.08 567.61,129.57 568.03,133.08 568.45,136.63 568.87,140.22 569.29,143.87 569.71,147.58 570.13,151.35 570.56,155.21 570.98,159.17 571.4,163.39 571.82,167.8 572.24,172.26 572.66,176.62 573.08,180.75 573.5,184.57 573.92,188.25 574.34,191.81 574.76,195.22 575.18,198.49 575.6,201.6 576.02,197.41 576.43,193.25 576.85,189.11 577.27,184.99 577.68,180.89 578.1,176.82 578.51,172.77 578.93,168.74 579.35,164.74 579.76,160.77 580.18,156.82 580.6,152.89 581.01,148.99 581.43,145.12 581.84,141.28 582.26,137.46 582.68,133.67 583.09,129.92 583.51,126.19 583.93,122.49 584.34,118.83 584.76,115.2 585.18,111.6 585.59,108.03 586.01,104.5 586.42,101.01 586.84,97.56 587.26,94.14 587.67,90.77 588.09,87.43 588.51,84.14 588.92,80.9 589.34,77.7 589.76,74.56 590.17,71.46 590.59,68.42 591,65.44 591.42,62.52 591.84,59.66 592.25,56.88 592.67,54.17 593.09,51.55 593.5,49.02 593.92,46.59 594.33,44.28 594.75,42.11 595.17,40.12 595.58,38.37 596,37.1 596.3,176.5 596.3,176.5 597.08,176.73 597.86,176.88 598.64,176.94 599.42,176.93 600.19,176.79 600.97,176.53 601.75,176.18 602.53,175.77 603.31,175.31 604.09,174.82 604.87,174.33 605.65,173.81 606.43,173.17 607.21,172.45 607.98,171.65 608.76,170.8 609.54,169.92 610.32,169.04 611.1,168.18 611.88,167.36 612.66,166.6 613.44,165.84 614.22,165.06 615,164.28 615.77,163.51 616.55,162.75 617.33,162.03 618.11,161.36 618.89,160.74 619.67,160.2 620.45,159.73 621.23,159.28 622.01,158.84 622.79,158.43 623.56,158.06 624.34,157.74 625.12,157.49 625.9,157.32 626.68,157.2 627.46,157.1 628.24,157.03 629.02,157 629.8,157.09 630.58,157.32 631.35,157.66 632.13,158.06 632.91,158.49 633.69,158.9 634.47,159.36 635.25,159.89 636.03,160.48 636.81,161.11 637.59,161.78 638.37,162.47 639.14,163.16 639.92,163.86 640.7,164.54 641.48,165.2 642.26,165.82 643.04,166.4 643.82,166.99 644.6,167.58 645.38,168.17 646.16,168.75 646.93,169.31 647.71,169.84 648.49,170.36 649.27,170.84 650.05,171.28 650.83,171.71 651.61,172.16 652.39,172.59 653.17,172.99 653.95,173.35 654.72,173.65 655.5,173.86 656.28,173.99 657.06,174.08 657.84,174.16 658.62,174.22 659.4,174.25 660.18,174.23 660.96,174.13 661.74,173.94 662.51,173.7 663.29,173.41 664.07,173.11 664.85,172.81 665.63,172.5 666.41,172.15 667.19,171.75 667.97,171.31 668.75,170.8 669.53,170.19 670.3,169.43 671.08,168.59 671.86,167.68 672.64,166.76 673.42,165.87 674.2,165.04 674.98,164.22 675.76,163.37 676.54,162.53 677.32,161.7 678.09,160.91 678.87,160.18 679.65,159.52 680.43,158.93 681.21,158.38 681.99,157.86 682.77,157.39 683.55,156.97 684.33,156.62 685.11,156.32 685.88,156.05 686.66,155.8 687.44,155.59 688.22,155.42 689,155.3" fill="none" stroke="#1f7fc6" stroke-width="0.95" stroke-linejoin="round"/>
<path d="M554.9,165V46.5M596.1,37.4V176.4" stroke="#1068ba" stroke-width="1.5" fill="none"/>
<rect x="502.5" y="3.2" width="186" height="198.1" fill="none" stroke="#454545" stroke-width="1"/>
<path d="M536,201.3v-2.2M536,3.2v2.2M579.5,201.3v-2.2M579.5,3.2v2.2M623,201.3v-2.2M623,3.2v2.2M666.6,201.3v-2.2M666.6,3.2v2.2M502.5,176h2.2M688.5,176h-2.2M502.5,142h2.2M688.5,142h-2.2M502.5,108h2.2M688.5,108h-2.2M502.5,74h2.2M688.5,74h-2.2M502.5,40h2.2M688.5,40h-2.2M502.5,6h2.2M688.5,6h-2.2" stroke="#454545" stroke-width="0.9" fill="none"/>
<text transform="translate(535.3,222.5) scale(0.93,1)" text-anchor="middle" font-size="15.3">0.3715</text>
<text transform="translate(578.8,222.5) scale(0.93,1)" text-anchor="middle" font-size="15.3">0.372</text>
<text transform="translate(622.3,222.5) scale(0.93,1)" text-anchor="middle" font-size="15.3">0.3725</text>
<text transform="translate(665.9,222.5) scale(0.93,1)" text-anchor="middle" font-size="15.3">0.373</text>
<text transform="translate(496,181.8) scale(0.93,1)" text-anchor="end" font-size="15.3">200</text>
<text transform="translate(496,147.8) scale(0.93,1)" text-anchor="end" font-size="15.3">400</text>
<text transform="translate(496,113.8) scale(0.93,1)" text-anchor="end" font-size="15.3">600</text>
<text transform="translate(496,79.8) scale(0.93,1)" text-anchor="end" font-size="15.3">800</text>
<text transform="translate(496,45.8) scale(0.93,1)" text-anchor="end" font-size="15.3">1000</text>
<text transform="translate(496,11.8) scale(0.93,1)" text-anchor="end" font-size="15.3">1200</text>
<line x1="558.68" y1="141.6" x2="589.72" y2="141.6" stroke="#222" stroke-width="1.0"/>
<polygon points="553.1,141.6 562.4,145.2 559.8,141.6 562.4,138" fill="#000"/>
<polygon points="595.3,141.6 586,138 588.6,141.6 586,145.2" fill="#000"/>
<line x1="634.5" y1="28.7" x2="578.62" y2="133.67" stroke="#222" stroke-width="0.9"/>
<polygon points="576,138.6 583.55,132.08 579.15,132.69 577.19,128.7" fill="#000"/>
<text x="590.3" y="26" font-size="15.9" textLength="12.7" lengthAdjust="spacingAndGlyphs">Δ</text>
<text x="603.1" y="26" font-size="14.2" font-style="italic">t</text>
<text x="608.8" y="26" font-size="14.2">=4.78×10</text>
<text x="664.67" y="19.1" font-size="12">-4</text>
<text x="679.31" y="26" font-size="14.2">s</text>
<polyline clip-path="url(#cb)" points="4.3,421.2 5.2,420.2 5.7,418.5 5.8,311.2 8.8,458.2 11.8,297 12,438.75 12,437.68 12.25,438.48 12.5,438.75 12.75,438.49 13,437.89 13.25,436.96 13.5,435.73 13.75,434.22 14,432.45 14.25,430.44 14.5,428.25 14.75,425.89 15,423.42 15.25,420.86 15.5,418.27 15.75,415.68 16,413.13 16.25,410.67 16.5,408.33 16.75,406.14 17,404.15 17.25,402.37 17.5,400.84 17.75,399.58 18,398.61 18.25,397.93 18.5,397.56 18.75,397.5 19,397.76 19.25,398.35 19.5,399.25 19.75,400.45 20,401.92 20.25,403.62 20.5,405.55 20.75,407.64 21,409.88 21.25,412.21 21.5,414.6 21.75,417.01 22,419.4 22.25,421.72 22.5,423.93 22.75,426 23,427.9 23.25,429.6 23.5,431.06 23.75,432.26 24,433.19 24.25,433.84 24.5,434.19 24.75,434.25 25,433.9 25.25,433.22 25.5,432.21 25.75,430.91 26,429.35 26.25,427.56 26.5,425.57 26.75,423.45 27,421.22 27.25,418.93 27.5,416.64 27.75,414.38 28,412.21 28.25,410.17 28.5,408.28 28.75,406.6 29,405.15 29.25,403.95 29.5,403.03 29.75,402.39 30,402.05 30.25,402 30.5,402.23 30.75,402.8 31,403.69 31.25,404.87 31.5,406.29 31.75,407.93 32,409.74 32.25,411.66 32.5,413.66 32.75,415.66 33,417.63 33.25,419.51 33.5,421.26 33.75,422.84 34,424.21 34.25,425.33 34.5,426.18 34.75,426.75 35,427.02 35.25,427 35.5,426.78 35.75,426.32 36,425.64 36.25,424.75 36.5,423.68 36.75,422.45 37,421.08 37.25,419.6 37.5,418.05 37.75,416.46 38,414.86 38.25,413.28 38.5,411.76 38.75,410.32 39,408.99 39.25,407.8 39.5,406.77 39.75,405.92 40,405.26 40.25,404.8 40.5,404.54 40.75,404.5 41,404.73 41.25,405.16 41.5,405.77 41.75,406.55 42,407.47 42.25,408.52 42.5,409.68 42.75,410.9 43,412.18 43.25,413.48 43.5,414.77 43.75,416.02 44,417.22 44.25,418.34 44.5,419.36 44.75,420.25 45,421.02 45.25,421.63 45.5,422.09 45.75,422.39 46,422.52 46.25,422.5 46.5,422.4 46.75,422.13 47,421.72 47.25,421.16 47.5,420.48 47.75,419.7 48,418.84 48.25,417.91 48.5,416.95 48.75,415.97 49,415.01 49.25,414.07 49.5,413.2 49.75,412.39 50,411.68 50.25,411.08 50.5,410.59 50.75,410.24 51,410.02 51.25,409.94 51.5,410 51.75,410.23 52,410.57 52.25,411.02 52.5,411.57 52.75,412.2 53,412.9 53.25,413.66 53.5,414.45 53.75,415.26 54,416.08 54.25,416.89 54.5,417.67 54.75,418.41 55,419.1 55.25,419.72 55.5,420.27 55.75,420.74 56,421.12 56.25,421.41 56.5,421.61 56.75,421.73 57,421.75 57.25,421.69 57.5,421.54 57.75,421.3 58,421 58.25,420.63 58.5,420.23 58.75,419.8 59,419.35 59.25,418.91 59.5,418.48 59.75,418.08 60,417.72 60.25,417.4 60.5,417.15 60.75,416.96 61,416.83 61.25,416.77 61.5,416.79 61.75,416.86 62,417 62.25,417.15 62.5,417.35 62.75,417.6 63,417.88 63.25,418.18 63.5,418.51 63.75,418.84 64,419.17 64.25,419.5 64.5,419.81 64.75,420.1 65,420.37 65.25,420.6 65.5,420.79 65.75,420.96 66,421.08 66.25,421.17 66.5,421.23 66.75,421.25 67,421.25 67.25,421.22 67.5,421.16 67.75,421.1 68,421.04 68.25,420.97 68.5,420.89 68.75,420.82 69,420.75 69.25,420.69 69.5,420.64 69.75,420.6 70,421.2 70.9,420.2 71.4,418.5 71.5,311.2 74.5,458.2 77.5,297 77.7,438.75 77.7,437.68 77.95,438.48 78.2,438.75 78.45,438.49 78.7,437.89 78.95,436.96 79.2,435.73 79.45,434.22 79.7,432.45 79.95,430.44 80.2,428.25 80.45,425.89 80.7,423.42 80.95,420.86 81.2,418.27 81.45,415.68 81.7,413.13 81.95,410.67 82.2,408.33 82.45,406.14 82.7,404.15 82.95,402.37 83.2,400.84 83.45,399.58 83.7,398.61 83.95,397.93 84.2,397.56 84.45,397.5 84.7,397.76 84.95,398.35 85.2,399.25 85.45,400.45 85.7,401.92 85.95,403.62 86.2,405.55 86.45,407.64 86.7,409.88 86.95,412.21 87.2,414.6 87.45,417.01 87.7,419.4 87.95,421.72 88.2,423.93 88.45,426 88.7,427.9 88.95,429.6 89.2,431.06 89.45,432.26 89.7,433.19 89.95,433.84 90.2,434.19 90.45,434.25 90.7,433.9 90.95,433.22 91.2,432.21 91.45,430.91 91.7,429.35 91.95,427.56 92.2,425.57 92.45,423.45 92.7,421.22 92.95,418.93 93.2,416.64 93.45,414.38 93.7,412.21 93.95,410.17 94.2,408.28 94.45,406.6 94.7,405.15 94.95,403.95 95.2,403.03 95.45,402.39 95.7,402.05 95.95,402 96.2,402.23 96.45,402.8 96.7,403.69 96.95,404.87 97.2,406.29 97.45,407.93 97.7,409.74 97.95,411.66 98.2,413.66 98.45,415.66 98.7,417.63 98.95,419.51 99.2,421.26 99.45,422.84 99.7,424.21 99.95,425.33 100.2,426.18 100.45,426.75 100.7,427.02 100.95,427 101.2,426.78 101.45,426.32 101.7,425.64 101.95,424.75 102.2,423.68 102.45,422.45 102.7,421.08 102.95,419.6 103.2,418.05 103.45,416.46 103.7,414.86 103.95,413.28 104.2,411.76 104.45,410.32 104.7,408.99 104.95,407.8 105.2,406.77 105.45,405.92 105.7,405.26 105.95,404.8 106.2,404.54 106.45,404.5 106.7,404.73 106.95,405.16 107.2,405.77 107.45,406.55 107.7,407.47 107.95,408.52 108.2,409.68 108.45,410.9 108.7,412.18 108.95,413.48 109.2,414.77 109.45,416.02 109.7,417.22 109.95,418.34 110.2,419.36 110.45,420.25 110.7,421.02 110.95,421.63 111.2,422.09 111.45,422.39 111.7,422.52 111.95,422.5 112.2,422.4 112.45,422.13 112.7,421.72 112.95,421.16 113.2,420.48 113.45,419.7 113.7,418.84 113.95,417.91 114.2,416.95 114.45,415.97 114.7,415.01 114.95,414.07 115.2,413.2 115.45,412.39 115.7,411.68 115.95,411.08 116.2,410.59 116.45,410.24 116.7,410.02 116.95,409.94 117.2,410 117.45,410.23 117.7,410.57 117.95,411.02 118.2,411.57 118.45,412.2 118.7,412.9 118.95,413.66 119.2,414.45 119.45,415.26 119.7,416.08 119.95,416.89 120.2,417.67 120.45,418.41 120.7,419.1 120.95,419.72 121.2,420.27 121.45,420.74 121.7,421.12 121.95,421.41 122.2,421.61 122.45,421.73 122.7,421.75 122.95,421.69 123.2,421.54 123.45,421.3 123.7,421 123.95,420.63 124.2,420.23 124.45,419.8 124.7,419.35 124.95,418.91 125.2,418.48 125.45,418.08 125.7,417.72 125.95,417.4 126.2,417.15 126.45,416.96 126.7,416.83 126.95,416.77 127.2,416.79 127.45,416.86 127.7,417 127.95,417.15 128.2,417.35 128.45,417.6 128.7,417.88 128.95,418.18 129.2,418.51 129.45,418.84 129.7,419.17 129.95,419.5 130.2,419.81 130.45,420.1 130.7,420.37 130.95,420.6 131.2,420.79 131.45,420.96 131.7,421.08 131.95,421.17 132.2,421.23 132.45,421.25 132.7,421.25 132.95,421.22 133.2,421.16 133.45,421.1 133.7,421.04 133.95,420.97 134.2,420.89 134.45,420.82 134.7,420.75 134.95,420.69 135.2,420.64 135.45,420.6 135.7,421.2 136.6,420.2 137.1,418.5 137.2,311.2 140.2,458.2 143.2,297 143.4,438.75 143.4,437.68 143.65,438.48 143.9,438.75 144.15,438.49 144.4,437.89 144.65,436.96 144.9,435.73 145.15,434.22 145.4,432.45 145.65,430.44 145.9,428.25 146.15,425.89 146.4,423.42 146.65,420.86 146.9,418.27 147.15,415.68 147.4,413.13 147.65,410.67 147.9,408.33 148.15,406.14 148.4,404.15 148.65,402.37 148.9,400.84 149.15,399.58 149.4,398.61 149.65,397.93 149.9,397.56 150.15,397.5 150.4,397.76 150.65,398.35 150.9,399.25 151.15,400.45 151.4,401.92 151.65,403.62 151.9,405.55 152.15,407.64 152.4,409.88 152.65,412.21 152.9,414.6 153.15,417.01 153.4,419.4 153.65,421.72 153.9,423.93 154.15,426 154.4,427.9 154.65,429.6 154.9,431.06 155.15,432.26 155.4,433.19 155.65,433.84 155.9,434.19 156.15,434.25 156.4,433.9 156.65,433.22 156.9,432.21 157.15,430.91 157.4,429.35 157.65,427.56 157.9,425.57 158.15,423.45 158.4,421.22 158.65,418.93 158.9,416.64 159.15,414.38 159.4,412.21 159.65,410.17 159.9,408.28 160.15,406.6 160.4,405.15 160.65,403.95 160.9,403.03 161.15,402.39 161.4,402.05 161.65,402 161.9,402.23 162.15,402.8 162.4,403.69 162.65,404.87 162.9,406.29 163.15,407.93 163.4,409.74 163.65,411.66 163.9,413.66 164.15,415.66 164.4,417.63 164.65,419.51 164.9,421.26 165.15,422.84 165.4,424.21 165.65,425.33 165.9,426.18 166.15,426.75 166.4,427.02 166.65,427 166.9,426.78 167.15,426.32 167.4,425.64 167.65,424.75 167.9,423.68 168.15,422.45 168.4,421.08 168.65,419.6 168.9,418.05 169.15,416.46 169.4,414.86 169.65,413.28 169.9,411.76 170.15,410.32 170.4,408.99 170.65,407.8 170.9,406.77 171.15,405.92 171.4,405.26 171.65,404.8 171.9,404.54 172.15,404.5 172.4,404.73 172.65,405.16 172.9,405.77 173.15,406.55 173.4,407.47 173.65,408.52 173.9,409.68 174.15,410.9 174.4,412.18 174.65,413.48 174.9,414.77 175.15,416.02 175.4,417.22 175.65,418.34 175.9,419.36 176.15,420.25 176.4,421.02 176.65,421.63 176.9,422.09 177.15,422.39 177.4,422.52 177.65,422.5 177.9,422.4 178.15,422.13 178.4,421.72 178.65,421.16 178.9,420.48 179.15,419.7 179.4,418.84 179.65,417.91 179.9,416.95 180.15,415.97 180.4,415.01 180.65,414.07 180.9,413.2 181.15,412.39 181.4,411.68 181.65,411.08 181.9,410.59 182.15,410.24 182.4,410.02 182.65,409.94 182.9,410 183.15,410.23 183.4,410.57 183.65,411.02 183.9,411.57 184.15,412.2 184.4,412.9 184.65,413.66 184.9,414.45 185.15,415.26 185.4,416.08 185.65,416.89 185.9,417.67 186.15,418.41 186.4,419.1 186.65,419.72 186.9,420.27 187.15,420.74 187.4,421.12 187.65,421.41 187.9,421.61 188.15,421.73 188.4,421.75 188.65,421.69 188.9,421.54 189.15,421.3 189.4,421 189.65,420.63 189.9,420.23 190.15,419.8 190.4,419.35 190.65,418.91 190.9,418.48 191.15,418.08 191.4,417.72 191.65,417.4 191.9,417.15 192.15,416.96 192.4,416.83 192.65,416.77 192.9,416.79 193.15,416.86 193.4,417 193.65,417.15 193.9,417.35 194.15,417.6 194.4,417.88 194.65,418.18 194.9,418.51 195.15,418.84 195.4,419.17 195.65,419.5 195.9,419.81 196.15,420.1 196.4,420.37 196.65,420.6 196.9,420.79 197.15,420.96 197.4,421.08 197.65,421.17 197.9,421.23 198.15,421.25 198.4,421.25 198.65,421.22 198.9,421.16 199.15,421.1 199.4,421.04 199.65,420.97 199.9,420.89 200.15,420.82 200.4,420.75 200.65,420.69 200.9,420.64 201.15,420.6 201.4,421.2 202.3,420.2 202.8,418.5 202.9,311.2 205.9,458.2 208.9,297 209.1,438.75 209.1,437.68 209.35,438.48 209.6,438.75 209.85,438.49 210.1,437.89 210.35,436.96 210.6,435.73 210.85,434.22 211.1,432.45 211.35,430.44 211.6,428.25 211.85,425.89 212.1,423.42 212.35,420.86 212.6,418.27 212.85,415.68 213.1,413.13 213.35,410.67 213.6,408.33 213.85,406.14 214.1,404.15 214.35,402.37 214.6,400.84 214.85,399.58 215.1,398.61 215.35,397.93 215.6,397.56 215.85,397.5 216.1,397.76 216.35,398.35 216.6,399.25 216.85,400.45 217.1,401.92 217.35,403.62 217.6,405.55 217.85,407.64 218.1,409.88 218.35,412.21 218.6,414.6 218.85,417.01 219.1,419.4 219.35,421.72 219.6,423.93 219.85,426 220.1,427.9 220.35,429.6 220.6,431.06 220.85,432.26 221.1,433.19 221.35,433.84 221.6,434.19 221.85,434.25 222.1,433.9 222.35,433.22 222.6,432.21 222.85,430.91 223.1,429.35 223.35,427.56 223.6,425.57 223.85,423.45 224.1,421.22 224.35,418.93 224.6,416.64 224.85,414.38 225.1,412.21 225.35,410.17 225.6,408.28 225.85,406.6 226.1,405.15 226.35,403.95 226.6,403.03 226.85,402.39 227.1,402.05 227.35,402 227.6,402.23 227.85,402.8 228.1,403.69 228.35,404.87 228.6,406.29 228.85,407.93 229.1,409.74 229.35,411.66 229.6,413.66 229.85,415.66 230.1,417.63 230.35,419.51 230.6,421.26 230.85,422.84 231.1,424.21 231.35,425.33 231.6,426.18 231.85,426.75 232.1,427.02 232.35,427 232.6,426.78 232.85,426.32 233.1,425.64 233.35,424.75 233.6,423.68 233.85,422.45 234.1,421.08 234.35,419.6 234.6,418.05 234.85,416.46 235.1,414.86 235.35,413.28 235.6,411.76 235.85,410.32 236.1,408.99 236.35,407.8 236.6,406.77 236.85,405.92 237.1,405.26 237.35,404.8 237.6,404.54 237.85,404.5 238.1,404.73 238.35,405.16 238.6,405.77 238.85,406.55 239.1,407.47 239.35,408.52 239.6,409.68 239.85,410.9 240.1,412.18 240.35,413.48 240.6,414.77 240.85,416.02 241.1,417.22 241.35,418.34 241.6,419.36 241.85,420.25 242.1,421.02 242.35,421.63 242.6,422.09 242.85,422.39 243.1,422.52 243.35,422.5 243.6,422.4 243.85,422.13 244.1,421.72 244.35,421.16 244.6,420.48 244.85,419.7 245.1,418.84 245.35,417.91 245.6,416.95 245.85,415.97 246.1,415.01 246.35,414.07 246.6,413.2 246.85,412.39 247.1,411.68 247.35,411.08 247.6,410.59 247.85,410.24 248.1,410.02 248.35,409.94 248.6,410 248.85,410.23 249.1,410.57 249.35,411.02 249.6,411.57 249.85,412.2 250.1,412.9 250.35,413.66 250.6,414.45 250.85,415.26 251.1,416.08 251.35,416.89 251.6,417.67 251.85,418.41 252.1,419.1 252.35,419.72 252.6,420.27 252.85,420.74 253.1,421.12 253.35,421.41 253.6,421.61 253.85,421.73 254.1,421.75 254.35,421.69 254.6,421.54 254.85,421.3 255.1,421 255.35,420.63 255.6,420.23 255.85,419.8 256.1,419.35 256.35,418.91 256.6,418.48 256.85,418.08 257.1,417.72 257.35,417.4 257.6,417.15 257.85,416.96 258.1,416.83 258.35,416.77 258.6,416.79 258.85,416.86 259.1,417 259.35,417.15 259.6,417.35 259.85,417.6 260.1,417.88 260.35,418.18 260.6,418.51 260.85,418.84 261.1,419.17 261.35,419.5 261.6,419.81 261.85,420.1 262.1,420.37 262.35,420.6 262.6,420.79 262.85,420.96 263.1,421.08 263.35,421.17 263.6,421.23 263.85,421.25 264.1,421.25 264.35,421.22 264.6,421.16 264.85,421.1 265.1,421.04 265.35,420.97 265.6,420.89 265.85,420.82 266.1,420.75 266.35,420.69 266.6,420.64 266.85,420.6 267.1,421.2 268,420.2 268.5,418.5 268.6,311.2 271.6,458.2 274.6,297 274.8,438.75 274.8,437.68 275.05,438.48 275.3,438.75 275.55,438.49 275.8,437.89 276.05,436.96 276.3,435.73 276.55,434.22 276.8,432.45 277.05,430.44 277.3,428.25 277.55,425.89 277.8,423.42 278.05,420.86 278.3,418.27 278.55,415.68 278.8,413.13 279.05,410.67 279.3,408.33 279.55,406.14 279.8,404.15 280.05,402.37 280.3,400.84 280.55,399.58 280.8,398.61 281.05,397.93 281.3,397.56 281.55,397.5 281.8,397.76 282.05,398.35 282.3,399.25 282.55,400.45 282.8,401.92 283.05,403.62 283.3,405.55 283.55,407.64 283.8,409.88 284.05,412.21 284.3,414.6 284.55,417.01 284.8,419.4 285.05,421.72 285.3,423.93 285.55,426 285.8,427.9 286.05,429.6 286.3,431.06 286.55,432.26 286.8,433.19 287.05,433.84 287.3,434.19 287.55,434.25 287.8,433.9 288.05,433.22 288.3,432.21 288.55,430.91 288.8,429.35 289.05,427.56 289.3,425.57 289.55,423.45 289.8,421.22 290.05,418.93 290.3,416.64 290.55,414.38 290.8,412.21 291.05,410.17 291.3,408.28 291.55,406.6 291.8,405.15 292.05,403.95 292.3,403.03 292.55,402.39 292.8,402.05 293.05,402 293.3,402.23 293.55,402.8 293.8,403.69 294.05,404.87 294.3,406.29 294.55,407.93 294.8,409.74 295.05,411.66 295.3,413.66 295.55,415.66 295.8,417.63 296.05,419.51 296.3,421.26 296.55,422.84 296.8,424.21 297.05,425.33 297.3,426.18 297.55,426.75 297.8,427.02 298.05,427 298.3,426.78 298.55,426.32 298.8,425.64 299.05,424.75 299.3,423.68 299.55,422.45 299.8,421.08 300.05,419.6 300.3,418.05 300.55,416.46 300.8,414.86 301.05,413.28 301.3,411.76 301.55,410.32 301.8,408.99 302.05,407.8 302.3,406.77 302.55,405.92 302.8,405.26 303.05,404.8 303.3,404.54 303.55,404.5 303.8,404.73 304.05,405.16 304.3,405.77 304.55,406.55 304.8,407.47 305.05,408.52 305.3,409.68 305.55,410.9 305.8,412.18 306.05,413.48 306.3,414.77 306.55,416.02 306.8,417.22 307.05,418.34 307.3,419.36 307.55,420.25 307.8,421.02 308.05,421.63 308.3,422.09 308.55,422.39 308.8,422.52 309.05,422.5 309.3,422.4 309.55,422.13 309.8,421.72 310.05,421.16 310.3,420.48 310.55,419.7 310.8,418.84 311.05,417.91 311.3,416.95 311.55,415.97 311.8,415.01 312.05,414.07 312.3,413.2 312.55,412.39 312.8,411.68 313.05,411.08 313.3,410.59 313.55,410.24 313.8,410.02 314.05,409.94 314.3,410 314.55,410.23 314.8,410.57 315.05,411.02 315.3,411.57 315.55,412.2 315.8,412.9 316.05,413.66 316.3,414.45 316.55,415.26 316.8,416.08 317.05,416.89 317.3,417.67 317.55,418.41 317.8,419.1 318.05,419.72 318.3,420.27 318.55,420.74 318.8,421.12 319.05,421.41 319.3,421.61 319.55,421.73 319.8,421.75 320.05,421.69 320.3,421.54 320.55,421.3 320.8,421 321.05,420.63 321.3,420.23 321.55,419.8 321.8,419.35 322.05,418.91 322.3,418.48 322.55,418.08 322.8,417.72 323.05,417.4 323.3,417.15 323.55,416.96 323.8,416.83 324.05,416.77 324.3,416.79 324.55,416.86 324.8,417 325.05,417.15 325.3,417.35 325.55,417.6 325.8,417.88 326.05,418.18 326.3,418.51 326.55,418.84 326.8,419.17 327.05,419.5 327.3,419.81 327.55,420.1 327.8,420.37 328.05,420.6 328.3,420.79 328.55,420.96 328.8,421.08 329.05,421.17 329.3,421.23 329.55,421.25 329.8,421.25 330.05,421.22 330.3,421.16 330.55,421.1 330.8,421.04 331.05,420.97 331.3,420.89 331.55,420.82 331.8,420.75 332.05,420.69 332.3,420.64 332.55,420.6 332.8,421.2 333.7,420.2 334.2,418.5 334.3,311.2 337.3,458.2 340.3,297 340.5,438.75 340.5,437.68 340.75,438.48 341,438.75 341.25,438.49 341.5,437.89 341.75,436.96 342,435.73 342.25,434.22 342.5,432.45 342.75,430.44 343,428.25 343.25,425.89 343.5,423.42 343.75,420.86 344,418.27 344.25,415.68 344.5,413.13 344.75,410.67 345,408.33 345.25,406.14 345.5,404.15 345.75,402.37 346,400.84 346.25,399.58 346.5,398.61 346.75,397.93 347,397.56 347.25,397.5 347.5,397.76 347.75,398.35 348,399.25 348.25,400.45 348.5,401.92 348.75,403.62 349,405.55 349.25,407.64 349.5,409.88 349.75,412.21 350,414.6 350.25,417.01 350.5,419.4 350.75,421.72 351,423.93 351.25,426 351.5,427.9 351.75,429.6 352,431.06 352.25,432.26 352.5,433.19 352.75,433.84 353,434.19 353.25,434.25 353.5,433.9 353.75,433.22 354,432.21 354.25,430.91 354.5,429.35 354.75,427.56 355,425.57 355.25,423.45 355.5,421.22 355.75,418.93 356,416.64 356.25,414.38 356.5,412.21 356.75,410.17 357,408.28 357.25,406.6 357.5,405.15 357.75,403.95 358,403.03 358.25,402.39 358.5,402.05 358.75,402 359,402.23 359.25,402.8 359.5,403.69 359.75,404.87 360,406.29 360.25,407.93 360.5,409.74 360.75,411.66 361,413.66 361.25,415.66 361.5,417.63 361.75,419.51 362,421.26 362.25,422.84 362.5,424.21 362.75,425.33 363,426.18 363.25,426.75 363.5,427.02 363.75,427 364,426.78 364.25,426.32 364.5,425.64 364.75,424.75 365,423.68 365.25,422.45 365.5,421.08 365.75,419.6 366,418.05 366.25,416.46 366.5,414.86 366.75,413.28 367,411.76 367.25,410.32 367.5,408.99 367.75,407.8 368,406.77 368.25,405.92 368.5,405.26 368.75,404.8 369,404.54 369.25,404.5 369.5,404.73 369.75,405.16 370,405.77 370.25,406.55 370.5,407.47 370.75,408.52 371,409.68 371.25,410.9 371.5,412.18 371.75,413.48 372,414.77 372.25,416.02 372.5,417.22 372.75,418.34 373,419.36 373.25,420.25 373.5,421.02 373.75,421.63 374,422.09 374.25,422.39 374.5,422.52 374.75,422.5 375,422.4 375.25,422.13 375.5,421.72 375.75,421.16 376,420.48 376.25,419.7 376.5,418.84 376.75,417.91 377,416.95 377.25,415.97 377.5,415.01 377.75,414.07 378,413.2 378.25,412.39 378.5,411.68 378.75,411.08 379,410.59 379.25,410.24 379.5,410.02 379.75,409.94 380,410 380.25,410.23 380.5,410.57 380.75,411.02 381,411.57 381.25,412.2 381.5,412.9 381.75,413.66 382,414.45 382.25,415.26 382.5,416.08 382.75,416.89 383,417.67 383.25,418.41 383.5,419.1 383.75,419.72 384,420.27 384.25,420.74 384.5,421.12 384.75,421.41 385,421.61 385.25,421.73 385.5,421.75 385.75,421.69 386,421.54 386.25,421.3 386.5,421 386.75,420.63 387,420.23 387.25,419.8 387.5,419.35 387.75,418.91 388,418.48 388.25,418.08 388.5,417.72 388.75,417.4 389,417.15 389.25,416.96 389.5,416.83 389.75,416.77 390,416.79 390.25,416.86 390.5,417 390.75,417.15 391,417.35 391.25,417.6 391.5,417.88 391.75,418.18 392,418.51 392.25,418.84 392.5,419.17 392.75,419.5 393,419.81 393.25,420.1 393.5,420.37 393.75,420.6 394,420.79 394.25,420.96 394.5,421.08 394.75,421.17 395,421.23 395.25,421.25 395.5,421.25 395.75,421.22 396,421.16 396.25,421.1 396.5,421.04 396.75,420.97 397,420.89 397.25,420.82 397.5,420.75 397.75,420.69 398,420.64 398.25,420.6 398.5,421.2 399.4,420.2 399.9,418.5 400,311.2 403,458.2 406,297 406.2,438.75 406.2,437.68 406.45,438.48 406.7,438.75 406.95,438.49 407.2,437.89 407.45,436.96 407.7,435.73 407.95,434.22 408.2,432.45 408.45,430.44 408.7,428.25 408.95,425.89 409.2,423.42 409.45,420.86 409.7,418.27 409.95,415.68 410.2,413.13 410.45,410.67 410.7,408.33 410.95,406.14 411.2,404.15 411.45,402.37 411.7,400.84 411.95,399.58 412.2,398.61 412.45,397.93 412.7,397.56 412.95,397.5 413.2,397.76 413.45,398.35 413.7,399.25 413.95,400.45 414.2,401.92 414.45,403.62 414.7,405.55 414.95,407.64 415.2,409.88 415.45,412.21 415.7,414.6 415.95,417.01 416.2,419.4 416.45,421.72 416.7,423.93 416.95,426 417.2,427.9 417.45,429.6 417.7,431.06 417.95,432.26 418.2,433.19 418.45,433.84 418.7,434.19 418.95,434.25 419.2,433.9 419.45,433.22 419.7,432.21 419.95,430.91 420.2,429.35 420.45,427.56 420.7,425.57 420.95,423.45 421.2,421.22 421.45,418.93 421.7,416.64 421.95,414.38 422.2,412.21 422.45,410.17 422.7,408.28 422.95,406.6 423.2,405.15 423.45,403.95 423.7,403.03 423.95,402.39 424.2,402.05 424.45,402 424.7,402.23 424.95,402.8 425.2,403.69 425.45,404.87 425.7,406.29 425.95,407.93 426.2,409.74 426.45,411.66 426.7,413.66 426.95,415.66 427.2,417.63 427.45,419.51 427.7,421.26 427.95,422.84 428.2,424.21 428.45,425.33 428.7,426.18 428.95,426.75 429.2,427.02 429.45,427 429.7,426.78 429.95,426.32 430.2,425.64 430.45,424.75 430.7,423.68 430.95,422.45 431.2,421.08 431.45,419.6 431.7,418.05 431.95,416.46 432.2,414.86 432.45,413.28 432.7,411.76 432.95,410.32 433.2,408.99 433.45,407.8 433.7,406.77 433.95,405.92 434.2,405.26 434.45,404.8 434.7,404.54 434.95,404.5 435.2,404.73 435.45,405.16 435.7,405.77 435.95,406.55 436.2,407.47 436.45,408.52 436.7,409.68 436.95,410.9 437.2,412.18 437.45,413.48 437.7,414.77 437.95,416.02 438.2,417.22 438.45,418.34 438.7,419.36 438.95,420.25 439.2,421.02 439.45,421.63 439.7,422.09 439.95,422.39 440.2,422.52 440.45,422.5 440.7,422.4 440.95,422.13 441.2,421.72 441.45,421.16 441.7,420.48 441.95,419.7 442.2,418.84 442.45,417.91 442.7,416.95 442.95,415.97 443.2,415.01 443.45,414.07 443.7,413.2 443.95,412.39 444.2,411.68 444.45,411.08 444.7,410.59 444.95,410.24 445.2,410.02 445.45,409.94 445.7,410 445.95,410.23 446.2,410.57 446.45,411.02 446.7,411.57 446.95,412.2 447.2,412.9 447.45,413.66 447.7,414.45 447.95,415.26 448.2,416.08 448.45,416.89 448.7,417.67 448.95,418.41 449.2,419.1 449.45,419.72 449.7,420.27 449.95,420.74 450.2,421.12 450.45,421.41 450.7,421.61 450.95,421.73 451.2,421.75 451.45,421.69 451.7,421.54 451.95,421.3 452.2,421 452.45,420.63 452.7,420.23 452.95,419.8 453.2,419.35 453.45,418.91 453.7,418.48 453.95,418.08 454.2,417.72 454.45,417.4 454.7,417.15 454.95,416.96 455.2,416.83 455.45,416.77 455.7,416.79 455.95,416.86 456.2,417 456.45,417.15 456.7,417.35 456.95,417.6 457.2,417.88 457.45,418.18 457.7,418.51 457.95,418.84 458.2,419.17 458.45,419.5 458.7,419.81 458.95,420.1 459.2,420.37 459.45,420.6 459.7,420.79 459.95,420.96 460.2,421.08 460.45,421.17 460.7,421.23 460.95,421.25 461.2,421.25 461.45,421.22 461.7,421.16 461.95,421.1 462.2,421.04 462.45,420.97 462.7,420.89 462.95,420.82 463.2,420.75 463.45,420.69 463.7,420.64 463.95,420.6 464.2,421.2 465.1,420.2 465.6,418.5 465.7,311.2 468.7,458.2 471.7,297 471.9,438.75 471.9,437.68 472.15,438.48 472.4,438.75 472.65,438.49 472.9,437.89 473.15,436.96 473.4,435.73 473.65,434.22 473.9,432.45 474.15,430.44 474.4,428.25 474.65,425.89 474.9,423.42 475.15,420.86 475.4,418.27 475.65,415.68 475.9,413.13 476.15,410.67 476.4,408.33 476.65,406.14 476.9,404.15 477.15,402.37 477.4,400.84 477.65,399.58 477.9,398.61 478.15,397.93 478.4,397.56 478.65,397.5 478.9,397.76 479.15,398.35 479.4,399.25 479.65,400.45 479.9,401.92 480.15,403.62 480.4,405.55 480.65,407.64 480.9,409.88 481.15,412.21 481.4,414.6 481.65,417.01 481.9,419.4 482.15,421.72 482.4,423.93 482.65,426 482.9,427.9 483.15,429.6 483.4,431.06 483.65,432.26 483.9,433.19 484.15,433.84 484.4,434.19 484.65,434.25 484.9,433.9 485.15,433.22 485.4,432.21 485.65,430.91 485.9,429.35 486.15,427.56 486.4,425.57 486.65,423.45 486.9,421.22 487.15,418.93 487.4,416.64 487.65,414.38 487.9,412.21 488.15,410.17 488.4,408.28 488.65,406.6 488.9,405.15 489.15,403.95 489.4,403.03 489.65,402.39 489.9,402.05 490.15,402 490.4,402.23 490.65,402.8 490.9,403.69 491.15,404.87 491.4,406.29 491.65,407.93 491.9,409.74 492.15,411.66 492.4,413.66 492.65,415.66 492.9,417.63 493.15,419.51 493.4,421.26 493.65,422.84 493.9,424.21 494.15,425.33 494.4,426.18 494.65,426.75 494.9,427.02 495.15,427 495.4,426.78 495.65,426.32 495.9,425.64 496.15,424.75 496.4,423.68 496.65,422.45 496.9,421.08 497.15,419.6 497.4,418.05 497.65,416.46 497.9,414.86 498.15,413.28 498.4,411.76 498.65,410.32 498.9,408.99 499.15,407.8 499.4,406.77 499.65,405.92 499.9,405.26 500.15,404.8 500.4,404.54 500.65,404.5 500.9,404.73 501.15,405.16 501.4,405.77 501.65,406.55 501.9,407.47 502.15,408.52 502.4,409.68 502.65,410.9 502.9,412.18 503.15,413.48 503.4,414.77 503.65,416.02 503.9,417.22 504.15,418.34 504.4,419.36 504.65,420.25 504.9,421.02 505.15,421.63 505.4,422.09 505.65,422.39 505.9,422.52 506.15,422.5 506.4,422.4 506.65,422.13 506.9,421.72 507.15,421.16 507.4,420.48 507.65,419.7 507.9,418.84 508.15,417.91 508.4,416.95 508.65,415.97 508.9,415.01 509.15,414.07 509.4,413.2 509.65,412.39 509.9,411.68 510.15,411.08 510.4,410.59 510.65,410.24 510.9,410.02 511.15,409.94 511.4,410 511.65,410.23 511.9,410.57 512.15,411.02 512.4,411.57 512.65,412.2 512.9,412.9 513.15,413.66 513.4,414.45 513.65,415.26 513.9,416.08 514.15,416.89 514.4,417.67 514.65,418.41 514.9,419.1 515.15,419.72 515.4,420.27 515.65,420.74 515.9,421.12 516.15,421.41 516.4,421.61 516.65,421.73 516.9,421.75 517.15,421.69 517.4,421.54 517.65,421.3 517.9,421 518.15,420.63 518.4,420.23 518.65,419.8 518.9,419.35 519.15,418.91 519.4,418.48 519.65,418.08 519.9,417.72 520.15,417.4 520.4,417.15 520.65,416.96 520.9,416.83 521.15,416.77 521.4,416.79 521.65,416.86 521.9,417 522.15,417.15 522.4,417.35 522.65,417.6 522.9,417.88 523.15,418.18 523.4,418.51 523.65,418.84 523.9,419.17 524.15,419.5 524.4,419.81 524.65,420.1 524.9,420.37 525.15,420.6 525.4,420.79 525.65,420.96 525.9,421.08 526.15,421.17 526.4,421.23 526.65,421.25 526.9,421.25 527.15,421.22 527.4,421.16 527.65,421.1 527.9,421.04 528.15,420.97 528.4,420.89 528.65,420.82 528.9,420.75 529.15,420.69 529.4,420.64 529.65,420.6" fill="none" stroke="#1f7fc6" stroke-width="0.95" stroke-linejoin="round"/>
<rect x="65" y="276.8" width="378.5" height="183" fill="none" stroke="#454545" stroke-width="1"/>
<path d="M86.5,459.8v-4M86.5,276.8v4M173.5,459.8v-4M173.5,276.8v4M260.5,459.8v-4M260.5,276.8v4M347.5,459.8v-4M347.5,276.8v4M434.5,459.8v-4M434.5,276.8v4M65,459.8h4M443.5,459.8h-4M65,429.1h4M443.5,429.1h-4M65,398.4h4M443.5,398.4h-4M65,367.7h4M443.5,367.7h-4M65,337h4M443.5,337h-4M65,306.3h4M443.5,306.3h-4" stroke="#454545" stroke-width="0.9" fill="none"/>
<text transform="translate(85.8,480) scale(0.93,1)" text-anchor="middle" font-size="15.3">0.41</text>
<text transform="translate(172.8,480) scale(0.93,1)" text-anchor="middle" font-size="15.3">0.415</text>
<text transform="translate(259.8,480) scale(0.93,1)" text-anchor="middle" font-size="15.3">0.42</text>
<text transform="translate(346.8,480) scale(0.93,1)" text-anchor="middle" font-size="15.3">0.425</text>
<text transform="translate(433.8,480) scale(0.93,1)" text-anchor="middle" font-size="15.3">0.43</text>
<text transform="translate(58.5,465.2) scale(0.93,1)" text-anchor="end" font-size="15.3">0</text>
<text transform="translate(58.5,434.5) scale(0.93,1)" text-anchor="end" font-size="15.3">200</text>
<text transform="translate(58.5,403.8) scale(0.93,1)" text-anchor="end" font-size="15.3">400</text>
<text transform="translate(58.5,373.1) scale(0.93,1)" text-anchor="end" font-size="15.3">600</text>
<text transform="translate(58.5,342.4) scale(0.93,1)" text-anchor="end" font-size="15.3">800</text>
<text transform="translate(58.5,311.7) scale(0.93,1)" text-anchor="end" font-size="15.3">1000</text>
<text x="253.7" y="498.7" text-anchor="middle" font-size="14.5">Time (s)</text>
<text transform="translate(22.5,367.8) rotate(-90)" text-anchor="middle" font-size="14.45">Contact force (N)</text>
<line x1="148.88" y1="305" x2="203.42" y2="305" stroke="#222" stroke-width="1.0"/>
<polygon points="143.3,305 152.6,308.6 150,305 152.6,301.4" fill="#000"/>
<polygon points="209,305 199.7,301.4 202.3,305 199.7,308.6" fill="#000"/>
<text x="138.6" y="295.7" font-size="15.9" textLength="12.7" lengthAdjust="spacingAndGlyphs">Δ</text>
<text x="151.4" y="295.7" font-size="14.2" font-style="italic">t</text>
<text x="157.1" y="295.7" font-size="14.2">=0.0037</text>
<text x="208.21" y="295.7" font-size="14.2">s</text>
<ellipse cx="273.5" cy="379" rx="14" ry="85.3" fill="none" stroke="#000" stroke-width="3.4"/>
<polyline clip-path="url(#cb2)" points="500.5,401.4 530,400.8 550.2,400 551.2,392 552.4,300 552.6,283 552.96,286.76 553.33,290.55 553.69,294.41 554.06,298.35 554.42,302.34 554.78,306.37 555.15,310.43 555.51,314.52 555.88,318.65 556.24,322.81 556.61,326.99 556.97,331.19 557.33,335.42 557.7,339.66 558.06,343.92 558.43,348.19 558.79,352.45 559.15,356.65 559.52,360.81 559.88,364.96 560.25,369.13 560.61,373.33 560.97,377.6 561.34,381.97 561.7,386.46 562.07,391.09 562.43,395.91 562.79,400.93 563.16,406.15 563.52,411.54 563.89,417.12 564.25,422.93 564.62,429 564.98,435.36 565.34,442.05 565.71,449.1 566.07,456.56 566.44,465.18 566.8,474.6 567.18,468.66 567.56,463.13 567.95,457.74 568.33,452.44 568.71,447.21 569.09,442.03 569.47,436.89 569.86,431.79 570.24,426.72 570.62,421.68 571,416.67 571.38,411.68 571.77,406.7 572.15,401.75 572.53,396.82 572.91,391.9 573.29,387 573.68,382.11 574.06,377.23 574.44,372.37 574.82,367.52 575.21,362.68 575.59,357.86 575.97,353.04 576.35,348.23 576.73,343.43 577.12,338.65 577.5,333.87 577.88,329.1 578.26,324.33 578.64,319.58 579.03,314.83 579.41,310.09 579.79,305.36 580.17,300.64 580.55,295.92 580.94,291.21 581.32,286.5 581.7,281.8 582.4,406.6 582.4,406.6 583.48,407.22 584.55,407.78 585.63,408.26 586.71,408.65 587.78,409.01 588.86,409.33 589.94,409.6 591.01,409.8 592.09,409.97 593.17,410.12 594.24,410.26 595.32,410.37 596.4,410.45 597.47,410.5 598.55,410.49 599.63,410.42 600.71,410.3 601.78,410.13 602.86,409.94 603.94,409.73 605.01,409.5 606.09,409.28 607.17,409.04 608.24,408.75 609.32,408.43 610.4,408.08 611.47,407.7 612.55,407.31 613.63,406.9 614.7,406.48 615.78,406.06 616.86,405.64 617.93,405.23 619.01,404.81 620.09,404.38 621.16,403.92 622.24,403.46 623.32,402.99 624.39,402.52 625.47,402.05 626.55,401.59 627.62,401.13 628.7,400.7 629.78,400.28 630.85,399.88 631.93,399.49 633.01,399.1 634.08,398.71 635.16,398.33 636.24,397.96 637.32,397.6 638.39,397.25 639.47,396.92 640.55,396.6 641.62,396.3 642.7,396.01 643.78,395.73 644.85,395.45 645.93,395.18 647.01,394.93 648.08,394.71 649.16,394.52 650.24,394.37 651.31,394.23 652.39,394.1 653.47,393.99 654.54,393.92 655.62,393.9 656.7,393.92 657.77,393.98 658.85,394.06 659.93,394.17 661,394.29 662.08,394.41 663.16,394.57 664.23,394.79 665.31,395.05 666.39,395.34 667.46,395.66 668.54,395.98 669.62,396.29 670.69,396.6 671.77,396.92 672.85,397.25 673.93,397.59 675,397.94 676.08,398.3 677.16,398.66 678.23,399.02 679.31,399.37 680.39,399.73 681.46,400.08 682.54,400.43 683.62,400.79 684.69,401.15 685.77,401.51 686.85,401.87 687.92,402.24 689,402.6" fill="none" stroke="#1f7fc6" stroke-width="0.95" stroke-linejoin="round"/>
<rect x="500.5" y="276.7" width="187.5" height="197.7" fill="none" stroke="#454545" stroke-width="1"/>
<path d="M502.4,474.4v-2.2M502.4,276.7v2.2M572.6,474.4v-2.2M572.6,276.7v2.2M642.6,474.4v-2.2M642.6,276.7v2.2M537.5,474.4v-2.2M537.5,276.7v2.2M607.6,474.4v-2.2M607.6,276.7v2.2M677.7,474.4v-2.2M677.7,276.7v2.2M500.5,474.4h2.2M688,474.4h-2.2M500.5,446.1h2.2M688,446.1h-2.2M500.5,417.8h2.2M688,417.8h-2.2M500.5,389.5h2.2M688,389.5h-2.2M500.5,361.2h2.2M688,361.2h-2.2M500.5,332.9h2.2M688,332.9h-2.2M500.5,304.6h2.2M688,304.6h-2.2" stroke="#454545" stroke-width="0.9" fill="none"/>
<text transform="translate(501.7,494.5) scale(0.93,1)" text-anchor="middle" font-size="15.3">0.4392</text>
<text transform="translate(571.9,494.5) scale(0.93,1)" text-anchor="middle" font-size="15.3">0.4396</text>
<text transform="translate(641.9,494.5) scale(0.93,1)" text-anchor="middle" font-size="15.3">0.44</text>
<text transform="translate(494,479.8) scale(0.93,1)" text-anchor="end" font-size="15.3">0</text>
<text transform="translate(494,451.5) scale(0.93,1)" text-anchor="end" font-size="15.3">100</text>
<text transform="translate(494,423.2) scale(0.93,1)" text-anchor="end" font-size="15.3">200</text>
<text transform="translate(494,394.9) scale(0.93,1)" text-anchor="end" font-size="15.3">300</text>
<text transform="translate(494,366.6) scale(0.93,1)" text-anchor="end" font-size="15.3">400</text>
<text transform="translate(494,338.3) scale(0.93,1)" text-anchor="end" font-size="15.3">500</text>
<text transform="translate(494,310) scale(0.93,1)" text-anchor="end" font-size="15.3">600</text>
<path d="M551.5,399.8L552.2,284" stroke="#1068ba" stroke-width="1.4" fill="none"/>
<path d="M552.6,280.5V441.7M581.9,280.5V441.7" stroke="#000" stroke-width="1.4" fill="none"/>
<line x1="558.48" y1="417.5" x2="576.02" y2="417.5" stroke="#222" stroke-width="1.0"/>
<polygon points="552.9,417.5 562.2,421.1 559.6,417.5 562.2,413.9" fill="#000"/>
<polygon points="581.6,417.5 572.3,413.9 574.9,417.5 572.3,421.1" fill="#000"/>
<line x1="631.7" y1="303.9" x2="575.23" y2="409.48" stroke="#222" stroke-width="0.9"/>
<polygon points="572.6,414.4 580.16,407.9 575.76,408.5 573.81,404.5" fill="#000"/>
<text x="590.5" y="300.1" font-size="15.9" textLength="12.7" lengthAdjust="spacingAndGlyphs">Δ</text>
<text x="603.3" y="300.1" font-size="14.2" font-style="italic">t</text>
<text x="609" y="300.1" font-size="14.2">=1.7×10</text>
<text x="657.77" y="293.2" font-size="12">-4</text>
<text x="672.41" y="300.1" font-size="14.2">s</text>
<polyline clip-path="url(#cc)" points="11.3,708.9 11.55,569.3 12.6,571.6 13.6,570.4 14.8,571.4 15.7,570.6 15.85,600 16.3,686 17,718.18 17.12,719.78 17.24,721.14 17.36,722.24 17.48,723.04 17.6,723.56 17.72,723.77 17.84,723.68 17.96,723.19 18.08,722.25 18.2,720.91 18.32,719.21 18.44,717.19 18.56,714.91 18.68,712.44 18.8,709.85 18.92,707.2 19.04,704.57 19.16,702.03 19.28,699.64 19.4,697.47 19.52,695.57 19.64,693.98 19.76,692.75 19.88,691.91 20,691.46 20.12,691.43 20.24,691.83 20.36,692.59 20.48,693.67 20.6,695.04 20.72,696.68 20.84,698.52 20.96,700.52 21.08,702.63 21.2,704.79 21.32,706.96 21.44,709.07 21.56,711.08 21.68,712.94 21.8,714.61 21.92,716.05 22.04,717.22 22.16,718.12 22.28,718.71 22.4,719 22.52,718.98 22.64,718.67 22.76,718.02 22.88,717.05 23,715.81 23.12,714.34 23.24,712.68 23.36,710.9 23.48,709.04 23.6,707.16 23.72,705.33 23.84,703.59 23.96,701.99 24.08,700.58 24.2,699.41 24.32,698.49 24.44,697.86 24.56,697.52 24.68,697.48 24.8,697.7 24.92,698.16 25.04,698.84 25.16,699.72 25.28,700.78 25.4,701.99 25.52,703.31 25.64,704.7 25.76,706.15 25.88,707.59 26,709.02 26.12,710.37 26.24,711.64 26.36,712.78 26.48,713.78 26.6,714.61 26.72,715.25 26.84,715.71 26.96,715.96 27.08,716.01 27.2,715.87 27.32,715.48 27.44,714.88 27.56,714.08 27.68,713.12 27.8,712.03 27.92,710.85 28.04,709.62 28.16,708.4 28.28,707.21 28.4,706.1 28.52,705.1 28.64,704.24 28.76,703.55 28.88,703.05 29,702.75 29.12,702.65 29.24,702.73 29.36,702.91 29.48,703.24 29.6,703.7 29.72,704.28 29.84,704.96 29.96,705.72 30.08,706.55 30.2,707.41 30.32,708.3 30.44,709.18 30.56,710.03 30.68,710.84 30.8,711.58 30.92,712.25 31.04,712.81 31.16,713.27 31.28,713.6 31.4,713.82 31.52,713.91 31.64,713.87 31.76,713.69 31.88,713.36 32,712.89 32.12,712.31 32.24,711.64 32.36,710.89 32.48,710.1 32.6,709.29 32.72,708.49 32.84,707.73 32.96,707.02 33.08,706.4 33.2,705.87 33.32,705.46 33.44,705.17 33.56,705.02 33.68,704.99 33.8,705.07 33.92,705.24 34.04,705.51 34.16,705.87 34.28,706.3 34.4,706.8 34.52,707.33 34.64,707.9 34.76,708.49 34.88,709.07 35,709.63 35.12,710.16 35.24,710.64 35.36,711.06 35.48,711.42 35.6,711.69 35.72,711.89 35.84,711.99 35.96,712.01 36.08,711.97 36.2,711.85 36.32,711.65 36.44,711.38 36.56,711.05 36.68,710.67 36.8,710.25 36.92,709.8 37.04,709.34 37.16,708.87 37.28,708.42 37.4,707.99 37.52,707.59 37.64,707.24 37.76,706.94 37.88,706.7 38,706.53 38.12,706.42 38.24,706.39 38.36,706.42 38.48,706.52 38.6,706.69 38.72,706.92 38.84,707.21 38.96,707.54 39.08,707.91 39.2,708.3 39.32,708.71 39.44,709.11 39.56,709.5 39.68,709.87 39.8,710.2 39.92,710.49 40.04,710.73 40.16,710.91 40.28,711.04 40.4,711.1 40.52,711.09 40.64,711.03 40.76,710.89 40.88,710.7 41,710.46 41.12,710.18 41.24,709.86 41.36,709.53 41.48,709.18 41.6,708.84 41.72,708.51 41.84,708.21 41.96,707.94 42.08,707.71 42.2,707.52 42.32,707.39 42.44,707.32 42.56,707.29 42.68,707.32 42.8,707.39 42.92,707.5 43.04,707.65 43.16,707.83 43.28,708.03 43.4,708.26 43.52,708.5 43.64,708.74 43.76,708.98 43.88,709.21 44,709.43 44.12,709.63 44.24,709.81 44.36,709.96 44.48,710.07 44.6,710.15 44.72,710.2 44.84,710.21 44.96,710.19 45.08,710.13 45.2,710.04 45.32,709.91 45.44,709.76 45.56,709.58 45.68,709.39 45.8,709.2 45.92,708.99 46.04,708.8 46.16,708.61 46.28,708.44 46.4,708.3 46.52,708.18 46.64,708.09 46.76,708.03 46.88,708 47,708 47.12,708.02 47.24,708.07 47.36,708.14 47.48,708.23 47.6,708.33 47.72,708.45 47.84,708.58 47.96,708.71 48.08,708.84 48.2,708.98 48.32,709.11 48.44,709.22 48.56,709.33 48.68,709.42 48.8,709.5 48.92,709.55 49.04,709.59 49.16,709.61 49.28,709.6 49.4,709.59 49.52,709.55 49.64,709.5 49.76,709.43 49.88,709.34 50,709.25 50.12,709.15 50.24,709.04 50.36,708.93 50.48,708.82 50.6,708.72 50.72,708.63 50.84,708.55 50.96,708.48 51.08,708.42 51.2,708.38 51.32,708.35 51.44,708.35 51.56,708.36 51.68,708.38 51.8,708.41 51.92,708.46 52.04,708.51 52.16,708.58 52.28,708.65 52.4,708.73 52.52,708.81 52.64,708.89 52.76,708.97 52.88,709.04 53,709.1 53.12,709.16 53.24,709.21 53.36,709.25 53.48,709.28 53.6,709.3 53.72,709.3 53.84,709.3 53.96,709.28 54.08,709.26 54.2,709.22 54.32,709.18 54.44,709.12 54.56,709.07 54.68,709.01 54.8,708.95 54.92,708.88 55.04,708.83 55.16,708.77 55.28,708.72 55.4,708.68 55.52,708.65 55.64,708.62 55.76,708.6 55.88,708.6 56,708.6 56.12,708.61 56.24,708.62 56.36,708.65 56.48,708.67 56.6,708.71 56.72,708.75 56.84,708.79 56.96,708.83 57.08,708.87 57.2,708.91 57.32,708.95 57.44,708.99 57.56,709.02 57.68,709.05 57.8,709.07 57.92,709.09 58.04,709.1 58.16,709.1 58.28,709.1 58.4,709.1 58.52,709.08 58.64,709.07 58.76,709.05 58.88,709.02 59,708.99 59.12,708.96 59.24,708.93 59.36,708.9 59.48,708.87 59.6,708.84 59.72,708.82 59.84,708.8 59.96,708.78 60.08,708.76 60.2,708.75 60.32,708.75 60.44,708.75 60.56,708.75 60.68,708.76 60.8,708.77 60.92,708.78 61.04,708.8 61.16,708.82 61.28,708.84 61.4,708.86 61.52,708.88 61.64,708.9 61.76,708.92 61.88,708.94 62,708.95 62.12,708.96 62.24,708.97 62.36,708.98 62.48,708.98 62.6,708.98 62.72,708.98 62.84,708.98 62.96,708.97 63.08,708.96 63.2,708.95 63.32,708.94 63.44,708.93 63.56,708.92 63.68,708.91 63.8,708.9 63.92,708.89 64.04,708.88 64.16,708.88 64.28,708.87 64.4,708.87 64.52,708.87 64.64,708.87 64.76,708.87 64.88,708.87 65,708.88 65.12,708.88 65.24,708.89 65.36,708.89 65.48,708.89 65.6,708.9 65.72,708.9 65.84,708.9 65.96,708.9 66.08,708.9 66.2,708.9 66.32,708.9 66.44,708.9 66.56,708.9 66.68,708.9 66.8,708.9 66.92,708.9 67.04,708.9 67.16,708.9 67.28,708.9 67.4,708.9 67.52,708.9 67.64,708.9 67.76,708.9 67.88,708.9 68,708.9 68.12,708.9 68.24,708.9 68.36,708.9 68.48,708.9 68.6,708.9 68.72,708.9 68.84,708.9 68.96,708.9 69.08,708.9 69.2,708.9 69.32,708.9 69.44,708.9 69.56,708.9 69.68,708.9 69.8,708.9 69.92,708.9 70.04,708.9 70.16,708.9 70.28,708.9 70.4,708.9 70.52,708.9 70.64,708.9 70.76,708.9 70.88,708.9 71,708.9 71.12,708.9 71.24,708.9 71.36,708.9 71.48,708.9 71.6,708.9 71.72,708.9 71.84,708.9 71.96,708.9 72.08,708.9 72.2,708.9 72.32,708.9 72.44,708.9 72.56,708.9 72.68,708.9 72.8,708.9 72.92,708.9 73.04,708.9 73.16,708.9 73.28,708.9 73.4,708.9 73.52,708.9 73.64,708.9 73.76,708.9 73.88,708.9 74,708.9 74.12,708.9 74.24,708.9 74.36,708.9 74.48,708.9 74.6,708.9 74.72,708.9 74.84,708.9 74.96,708.9 75.08,708.9 75.2,708.9 75.32,708.9 75.44,708.9 75.56,708.9 75.68,708.9 75.8,708.9 75.92,708.9 76.04,708.9 76.16,708.9 76.28,708.9 76.4,708.9 76.52,708.9 76.64,708.9 76.76,708.9 76.88,708.9 77,708.9 77.12,708.9 77.24,708.9 77.36,708.9 77.48,708.9 77.6,708.9 77.72,708.9 77.84,708.9 77.96,708.9 78.08,708.9 78.2,708.9 78.32,708.9 78.44,708.9 78.56,708.9 78.68,708.9 78.8,708.9 78.92,708.9 79.04,708.9 79.16,708.9 79.28,708.9 79.4,708.9 79.52,708.9 79.64,708.9 79.76,708.9 79.88,708.9 80,708.9 80.12,708.9 80.24,708.9 80.36,708.9 80.48,708.9 80.6,708.9 80.72,708.9 80.84,708.9 80.96,708.9 81.08,708.9 81.2,708.9 81.32,708.9 81.44,708.9 81.56,708.9 81.68,708.9 81.8,708.9 81.92,708.9 82.04,708.9 82.16,708.9 82.28,708.9 82.4,708.9 82.52,708.9 82.64,708.9 82.76,708.9 82.88,708.9 83,708.9 83.12,708.9 83.24,708.9 83.36,708.9 83.48,708.9 83.6,708.9 83.72,708.9 83.84,708.9 83.96,708.9 84.08,708.9 84.2,708.9 84.32,708.9 84.44,708.9 84.56,708.9 84.68,708.9 84.8,708.9 84.92,708.9 85.04,708.9 85.16,708.9 85.28,708.9 85.4,708.9 85.52,708.9 85.64,708.9 85.76,708.9 85.88,708.9 86,708.9 86.12,708.9 86.24,708.9 86.36,708.9 86.48,708.9 86.6,708.9 86.72,708.9 86.84,708.9 86.96,708.9 87.08,708.9 87.2,708.9 87.32,708.9 87.44,708.9 87.56,708.9 87.68,708.9 87.8,708.9 87.92,708.9 88.04,708.9 88.16,708.9 88.28,708.9 88.4,708.9 88.52,708.9 88.64,708.9 88.76,708.9 88.88,708.9 89,708.9 89.12,708.9 89.24,708.9 89.36,708.9 89.48,708.9 89.6,708.9 89.72,708.9 89.84,708.9 89.96,708.9 90.08,708.9 90.2,708.9 90.32,708.9 90.44,708.9 90.56,708.9 90.68,708.9 90.8,708.9 90.92,708.9 91.04,708.9 91.16,708.9 91.28,708.9 91.4,708.9 91.52,708.9 91.64,708.9 91.76,708.9 91.88,708.9 92,708.9 92.12,708.9 92.24,708.9 92.36,708.9 92.48,708.9 92.6,708.9 92.72,708.9 92.84,708.9 92.96,708.9 93.08,708.9 93.2,708.9 93.32,708.9 93.44,708.9 93.56,708.9 93.68,708.9 93.8,708.9 93.92,708.9 94.04,708.9 94.16,708.9 94.28,708.9 94.4,708.9 94.52,708.9 94.64,708.9 94.76,708.9 94.88,708.9 95,708.9 95.12,708.9 95.24,708.9 95.36,708.9 95.48,708.9 95.6,708.9 95.72,708.9 95.84,708.9 95.96,708.9 96.08,708.9 96.2,708.9 96.32,708.9 96.44,708.9 96.56,708.9 96.68,708.9 96.8,708.9 96.92,708.9 97.04,708.9 97.16,708.9 97.28,708.9 97.4,708.9 97.52,708.9 97.64,708.9 97.76,708.9 97.88,708.9 98,708.9 98.12,708.9 98.24,708.9 98.36,708.9 98.48,708.9 98.6,708.9 98.72,708.9 98.84,708.9 98.96,708.9 99.08,708.9 99.2,708.9 99.32,708.9 99.44,708.9 99.56,708.9 99.68,708.9 99.8,708.9 99.92,708.9 100.04,708.9 100.16,708.9 100.28,708.9 100.4,708.9 100.52,708.9 100.64,708.9 100.76,708.9 100.88,708.9 101,708.9 101.12,708.9 101.24,708.9 101.36,708.9 101.48,708.9 101.6,708.9 101.72,708.9 101.84,708.9 101.96,708.9 102.08,708.9 102.2,708.9 102.32,708.9 102.44,708.9 102.56,708.9 102.68,708.9 102.8,708.9 102.92,708.9 103.04,708.9 103.16,708.9 103.28,708.9 103.4,708.9 103.52,708.9 103.64,708.9 103.76,708.9 103.88,708.9 104,708.9 104.12,708.9 104.24,708.9 104.36,708.9 104.48,708.9 104.6,708.9 104.72,708.9 104.84,708.9 104.96,708.9 105.08,708.9 105.2,708.9 105.45,569.3 106.5,571.6 107.5,570.4 108.7,571.4 109.6,570.6 109.75,600 110.2,686 110.9,718.18 111.02,719.78 111.14,721.14 111.26,722.24 111.38,723.04 111.5,723.56 111.62,723.77 111.74,723.68 111.86,723.19 111.98,722.25 112.1,720.91 112.22,719.21 112.34,717.19 112.46,714.91 112.58,712.44 112.7,709.85 112.82,707.2 112.94,704.57 113.06,702.03 113.18,699.64 113.3,697.47 113.42,695.57 113.54,693.98 113.66,692.75 113.78,691.91 113.9,691.46 114.02,691.43 114.14,691.83 114.26,692.59 114.38,693.67 114.5,695.04 114.62,696.68 114.74,698.52 114.86,700.52 114.98,702.63 115.1,704.79 115.22,706.96 115.34,709.07 115.46,711.08 115.58,712.94 115.7,714.61 115.82,716.05 115.94,717.22 116.06,718.12 116.18,718.71 116.3,719 116.42,718.98 116.54,718.67 116.66,718.02 116.78,717.05 116.9,715.81 117.02,714.34 117.14,712.68 117.26,710.9 117.38,709.04 117.5,707.16 117.62,705.33 117.74,703.59 117.86,701.99 117.98,700.58 118.1,699.41 118.22,698.49 118.34,697.86 118.46,697.52 118.58,697.48 118.7,697.7 118.82,698.16 118.94,698.84 119.06,699.72 119.18,700.78 119.3,701.99 119.42,703.31 119.54,704.7 119.66,706.15 119.78,707.59 119.9,709.02 120.02,710.37 120.14,711.64 120.26,712.78 120.38,713.78 120.5,714.61 120.62,715.25 120.74,715.71 120.86,715.96 120.98,716.01 121.1,715.87 121.22,715.48 121.34,714.88 121.46,714.08 121.58,713.12 121.7,712.03 121.82,710.85 121.94,709.62 122.06,708.4 122.18,707.21 122.3,706.1 122.42,705.1 122.54,704.24 122.66,703.55 122.78,703.05 122.9,702.75 123.02,702.65 123.14,702.73 123.26,702.91 123.38,703.24 123.5,703.7 123.62,704.28 123.74,704.96 123.86,705.72 123.98,706.55 124.1,707.41 124.22,708.3 124.34,709.18 124.46,710.03 124.58,710.84 124.7,711.58 124.82,712.25 124.94,712.81 125.06,713.27 125.18,713.6 125.3,713.82 125.42,713.91 125.54,713.87 125.66,713.69 125.78,713.36 125.9,712.89 126.02,712.31 126.14,711.64 126.26,710.89 126.38,710.1 126.5,709.29 126.62,708.49 126.74,707.73 126.86,707.02 126.98,706.4 127.1,705.87 127.22,705.46 127.34,705.17 127.46,705.02 127.58,704.99 127.7,705.07 127.82,705.24 127.94,705.51 128.06,705.87 128.18,706.3 128.3,706.8 128.42,707.33 128.54,707.9 128.66,708.49 128.78,709.07 128.9,709.63 129.02,710.16 129.14,710.64 129.26,711.06 129.38,711.42 129.5,711.69 129.62,711.89 129.74,711.99 129.86,712.01 129.98,711.97 130.1,711.85 130.22,711.65 130.34,711.38 130.46,711.05 130.58,710.67 130.7,710.25 130.82,709.8 130.94,709.34 131.06,708.87 131.18,708.42 131.3,707.99 131.42,707.59 131.54,707.24 131.66,706.94 131.78,706.7 131.9,706.53 132.02,706.42 132.14,706.39 132.26,706.42 132.38,706.52 132.5,706.69 132.62,706.92 132.74,707.21 132.86,707.54 132.98,707.91 133.1,708.3 133.22,708.71 133.34,709.11 133.46,709.5 133.58,709.87 133.7,710.2 133.82,710.49 133.94,710.73 134.06,710.91 134.18,711.04 134.3,711.1 134.42,711.09 134.54,711.03 134.66,710.89 134.78,710.7 134.9,710.46 135.02,710.18 135.14,709.86 135.26,709.53 135.38,709.18 135.5,708.84 135.62,708.51 135.74,708.21 135.86,707.94 135.98,707.71 136.1,707.52 136.22,707.39 136.34,707.32 136.46,707.29 136.58,707.32 136.7,707.39 136.82,707.5 136.94,707.65 137.06,707.83 137.18,708.03 137.3,708.26 137.42,708.5 137.54,708.74 137.66,708.98 137.78,709.21 137.9,709.43 138.02,709.63 138.14,709.81 138.26,709.96 138.38,710.07 138.5,710.15 138.62,710.2 138.74,710.21 138.86,710.19 138.98,710.13 139.1,710.04 139.22,709.91 139.34,709.76 139.46,709.58 139.58,709.39 139.7,709.2 139.82,708.99 139.94,708.8 140.06,708.61 140.18,708.44 140.3,708.3 140.42,708.18 140.54,708.09 140.66,708.03 140.78,708 140.9,708 141.02,708.02 141.14,708.07 141.26,708.14 141.38,708.23 141.5,708.33 141.62,708.45 141.74,708.58 141.86,708.71 141.98,708.84 142.1,708.98 142.22,709.11 142.34,709.22 142.46,709.33 142.58,709.42 142.7,709.5 142.82,709.55 142.94,709.59 143.06,709.61 143.18,709.6 143.3,709.59 143.42,709.55 143.54,709.5 143.66,709.43 143.78,709.34 143.9,709.25 144.02,709.15 144.14,709.04 144.26,708.93 144.38,708.82 144.5,708.72 144.62,708.63 144.74,708.55 144.86,708.48 144.98,708.42 145.1,708.38 145.22,708.35 145.34,708.35 145.46,708.36 145.58,708.38 145.7,708.41 145.82,708.46 145.94,708.51 146.06,708.58 146.18,708.65 146.3,708.73 146.42,708.81 146.54,708.89 146.66,708.97 146.78,709.04 146.9,709.1 147.02,709.16 147.14,709.21 147.26,709.25 147.38,709.28 147.5,709.3 147.62,709.3 147.74,709.3 147.86,709.28 147.98,709.26 148.1,709.22 148.22,709.18 148.34,709.12 148.46,709.07 148.58,709.01 148.7,708.95 148.82,708.88 148.94,708.83 149.06,708.77 149.18,708.72 149.3,708.68 149.42,708.65 149.54,708.62 149.66,708.6 149.78,708.6 149.9,708.6 150.02,708.61 150.14,708.62 150.26,708.65 150.38,708.67 150.5,708.71 150.62,708.75 150.74,708.79 150.86,708.83 150.98,708.87 151.1,708.91 151.22,708.95 151.34,708.99 151.46,709.02 151.58,709.05 151.7,709.07 151.82,709.09 151.94,709.1 152.06,709.1 152.18,709.1 152.3,709.1 152.42,709.08 152.54,709.07 152.66,709.05 152.78,709.02 152.9,708.99 153.02,708.96 153.14,708.93 153.26,708.9 153.38,708.87 153.5,708.84 153.62,708.82 153.74,708.8 153.86,708.78 153.98,708.76 154.1,708.75 154.22,708.75 154.34,708.75 154.46,708.75 154.58,708.76 154.7,708.77 154.82,708.78 154.94,708.8 155.06,708.82 155.18,708.84 155.3,708.86 155.42,708.88 155.54,708.9 155.66,708.92 155.78,708.94 155.9,708.95 156.02,708.96 156.14,708.97 156.26,708.98 156.38,708.98 156.5,708.98 156.62,708.98 156.74,708.98 156.86,708.97 156.98,708.96 157.1,708.95 157.22,708.94 157.34,708.93 157.46,708.92 157.58,708.91 157.7,708.9 157.82,708.89 157.94,708.88 158.06,708.88 158.18,708.87 158.3,708.87 158.42,708.87 158.54,708.87 158.66,708.87 158.78,708.87 158.9,708.88 159.02,708.88 159.14,708.89 159.26,708.89 159.38,708.89 159.5,708.9 159.62,708.9 159.74,708.9 159.86,708.9 159.98,708.9 160.1,708.9 160.22,708.9 160.34,708.9 160.46,708.9 160.58,708.9 160.7,708.9 160.82,708.9 160.94,708.9 161.06,708.9 161.18,708.9 161.3,708.9 161.42,708.9 161.54,708.9 161.66,708.9 161.78,708.9 161.9,708.9 162.02,708.9 162.14,708.9 162.26,708.9 162.38,708.9 162.5,708.9 162.62,708.9 162.74,708.9 162.86,708.9 162.98,708.9 163.1,708.9 163.22,708.9 163.34,708.9 163.46,708.9 163.58,708.9 163.7,708.9 163.82,708.9 163.94,708.9 164.06,708.9 164.18,708.9 164.3,708.9 164.42,708.9 164.54,708.9 164.66,708.9 164.78,708.9 164.9,708.9 165.02,708.9 165.14,708.9 165.26,708.9 165.38,708.9 165.5,708.9 165.62,708.9 165.74,708.9 165.86,708.9 165.98,708.9 166.1,708.9 166.22,708.9 166.34,708.9 166.46,708.9 166.58,708.9 166.7,708.9 166.82,708.9 166.94,708.9 167.06,708.9 167.18,708.9 167.3,708.9 167.42,708.9 167.54,708.9 167.66,708.9 167.78,708.9 167.9,708.9 168.02,708.9 168.14,708.9 168.26,708.9 168.38,708.9 168.5,708.9 168.62,708.9 168.74,708.9 168.86,708.9 168.98,708.9 169.1,708.9 169.22,708.9 169.34,708.9 169.46,708.9 169.58,708.9 169.7,708.9 169.82,708.9 169.94,708.9 170.06,708.9 170.18,708.9 170.3,708.9 170.42,708.9 170.54,708.9 170.66,708.9 170.78,708.9 170.9,708.9 171.02,708.9 171.14,708.9 171.26,708.9 171.38,708.9 171.5,708.9 171.62,708.9 171.74,708.9 171.86,708.9 171.98,708.9 172.1,708.9 172.22,708.9 172.34,708.9 172.46,708.9 172.58,708.9 172.7,708.9 172.82,708.9 172.94,708.9 173.06,708.9 173.18,708.9 173.3,708.9 173.42,708.9 173.54,708.9 173.66,708.9 173.78,708.9 173.9,708.9 174.02,708.9 174.14,708.9 174.26,708.9 174.38,708.9 174.5,708.9 174.62,708.9 174.74,708.9 174.86,708.9 174.98,708.9 175.1,708.9 175.22,708.9 175.34,708.9 175.46,708.9 175.58,708.9 175.7,708.9 175.82,708.9 175.94,708.9 176.06,708.9 176.18,708.9 176.3,708.9 176.42,708.9 176.54,708.9 176.66,708.9 176.78,708.9 176.9,708.9 177.02,708.9 177.14,708.9 177.26,708.9 177.38,708.9 177.5,708.9 177.62,708.9 177.74,708.9 177.86,708.9 177.98,708.9 178.1,708.9 178.22,708.9 178.34,708.9 178.46,708.9 178.58,708.9 178.7,708.9 178.82,708.9 178.94,708.9 179.06,708.9 179.18,708.9 179.3,708.9 179.42,708.9 179.54,708.9 179.66,708.9 179.78,708.9 179.9,708.9 180.02,708.9 180.14,708.9 180.26,708.9 180.38,708.9 180.5,708.9 180.62,708.9 180.74,708.9 180.86,708.9 180.98,708.9 181.1,708.9 181.22,708.9 181.34,708.9 181.46,708.9 181.58,708.9 181.7,708.9 181.82,708.9 181.94,708.9 182.06,708.9 182.18,708.9 182.3,708.9 182.42,708.9 182.54,708.9 182.66,708.9 182.78,708.9 182.9,708.9 183.02,708.9 183.14,708.9 183.26,708.9 183.38,708.9 183.5,708.9 183.62,708.9 183.74,708.9 183.86,708.9 183.98,708.9 184.1,708.9 184.22,708.9 184.34,708.9 184.46,708.9 184.58,708.9 184.7,708.9 184.82,708.9 184.94,708.9 185.06,708.9 185.18,708.9 185.3,708.9 185.42,708.9 185.54,708.9 185.66,708.9 185.78,708.9 185.9,708.9 186.02,708.9 186.14,708.9 186.26,708.9 186.38,708.9 186.5,708.9 186.62,708.9 186.74,708.9 186.86,708.9 186.98,708.9 187.1,708.9 187.22,708.9 187.34,708.9 187.46,708.9 187.58,708.9 187.7,708.9 187.82,708.9 187.94,708.9 188.06,708.9 188.18,708.9 188.3,708.9 188.42,708.9 188.54,708.9 188.66,708.9 188.78,708.9 188.9,708.9 189.02,708.9 189.14,708.9 189.26,708.9 189.38,708.9 189.5,708.9 189.62,708.9 189.74,708.9 189.86,708.9 189.98,708.9 190.1,708.9 190.22,708.9 190.34,708.9 190.46,708.9 190.58,708.9 190.7,708.9 190.82,708.9 190.94,708.9 191.06,708.9 191.18,708.9 191.3,708.9 191.42,708.9 191.54,708.9 191.66,708.9 191.78,708.9 191.9,708.9 192.02,708.9 192.14,708.9 192.26,708.9 192.38,708.9 192.5,708.9 192.62,708.9 192.74,708.9 192.86,708.9 192.98,708.9 193.1,708.9 193.22,708.9 193.34,708.9 193.46,708.9 193.58,708.9 193.7,708.9 193.82,708.9 193.94,708.9 194.06,708.9 194.18,708.9 194.3,708.9 194.42,708.9 194.54,708.9 194.66,708.9 194.78,708.9 194.9,708.9 195.02,708.9 195.14,708.9 195.26,708.9 195.38,708.9 195.5,708.9 195.62,708.9 195.74,708.9 195.86,708.9 195.98,708.9 196.1,708.9 196.22,708.9 196.34,708.9 196.46,708.9 196.58,708.9 196.7,708.9 196.82,708.9 196.94,708.9 197.06,708.9 197.18,708.9 197.3,708.9 197.42,708.9 197.54,708.9 197.66,708.9 197.78,708.9 197.9,708.9 198.02,708.9 198.14,708.9 198.26,708.9 198.38,708.9 198.5,708.9 198.62,708.9 198.74,708.9 198.86,708.9 198.98,708.9 199.1,708.9 199.35,569.3 200.4,571.6 201.4,570.4 202.6,571.4 203.5,570.6 203.65,600 204.1,686 204.8,718.18 204.92,719.78 205.04,721.14 205.16,722.24 205.28,723.04 205.4,723.56 205.52,723.77 205.64,723.68 205.76,723.19 205.88,722.25 206,720.91 206.12,719.21 206.24,717.19 206.36,714.91 206.48,712.44 206.6,709.85 206.72,707.2 206.84,704.57 206.96,702.03 207.08,699.64 207.2,697.47 207.32,695.57 207.44,693.98 207.56,692.75 207.68,691.91 207.8,691.46 207.92,691.43 208.04,691.83 208.16,692.59 208.28,693.67 208.4,695.04 208.52,696.68 208.64,698.52 208.76,700.52 208.88,702.63 209,704.79 209.12,706.96 209.24,709.07 209.36,711.08 209.48,712.94 209.6,714.61 209.72,716.05 209.84,717.22 209.96,718.12 210.08,718.71 210.2,719 210.32,718.98 210.44,718.67 210.56,718.02 210.68,717.05 210.8,715.81 210.92,714.34 211.04,712.68 211.16,710.9 211.28,709.04 211.4,707.16 211.52,705.33 211.64,703.59 211.76,701.99 211.88,700.58 212,699.41 212.12,698.49 212.24,697.86 212.36,697.52 212.48,697.48 212.6,697.7 212.72,698.16 212.84,698.84 212.96,699.72 213.08,700.78 213.2,701.99 213.32,703.31 213.44,704.7 213.56,706.15 213.68,707.59 213.8,709.02 213.92,710.37 214.04,711.64 214.16,712.78 214.28,713.78 214.4,714.61 214.52,715.25 214.64,715.71 214.76,715.96 214.88,716.01 215,715.87 215.12,715.48 215.24,714.88 215.36,714.08 215.48,713.12 215.6,712.03 215.72,710.85 215.84,709.62 215.96,708.4 216.08,707.21 216.2,706.1 216.32,705.1 216.44,704.24 216.56,703.55 216.68,703.05 216.8,702.75 216.92,702.65 217.04,702.73 217.16,702.91 217.28,703.24 217.4,703.7 217.52,704.28 217.64,704.96 217.76,705.72 217.88,706.55 218,707.41 218.12,708.3 218.24,709.18 218.36,710.03 218.48,710.84 218.6,711.58 218.72,712.25 218.84,712.81 218.96,713.27 219.08,713.6 219.2,713.82 219.32,713.91 219.44,713.87 219.56,713.69 219.68,713.36 219.8,712.89 219.92,712.31 220.04,711.64 220.16,710.89 220.28,710.1 220.4,709.29 220.52,708.49 220.64,707.73 220.76,707.02 220.88,706.4 221,705.87 221.12,705.46 221.24,705.17 221.36,705.02 221.48,704.99 221.6,705.07 221.72,705.24 221.84,705.51 221.96,705.87 222.08,706.3 222.2,706.8 222.32,707.33 222.44,707.9 222.56,708.49 222.68,709.07 222.8,709.63 222.92,710.16 223.04,710.64 223.16,711.06 223.28,711.42 223.4,711.69 223.52,711.89 223.64,711.99 223.76,712.01 223.88,711.97 224,711.85 224.12,711.65 224.24,711.38 224.36,711.05 224.48,710.67 224.6,710.25 224.72,709.8 224.84,709.34 224.96,708.87 225.08,708.42 225.2,707.99 225.32,707.59 225.44,707.24 225.56,706.94 225.68,706.7 225.8,706.53 225.92,706.42 226.04,706.39 226.16,706.42 226.28,706.52 226.4,706.69 226.52,706.92 226.64,707.21 226.76,707.54 226.88,707.91 227,708.3 227.12,708.71 227.24,709.11 227.36,709.5 227.48,709.87 227.6,710.2 227.72,710.49 227.84,710.73 227.96,710.91 228.08,711.04 228.2,711.1 228.32,711.09 228.44,711.03 228.56,710.89 228.68,710.7 228.8,710.46 228.92,710.18 229.04,709.86 229.16,709.53 229.28,709.18 229.4,708.84 229.52,708.51 229.64,708.21 229.76,707.94 229.88,707.71 230,707.52 230.12,707.39 230.24,707.32 230.36,707.29 230.48,707.32 230.6,707.39 230.72,707.5 230.84,707.65 230.96,707.83 231.08,708.03 231.2,708.26 231.32,708.5 231.44,708.74 231.56,708.98 231.68,709.21 231.8,709.43 231.92,709.63 232.04,709.81 232.16,709.96 232.28,710.07 232.4,710.15 232.52,710.2 232.64,710.21 232.76,710.19 232.88,710.13 233,710.04 233.12,709.91 233.24,709.76 233.36,709.58 233.48,709.39 233.6,709.2 233.72,708.99 233.84,708.8 233.96,708.61 234.08,708.44 234.2,708.3 234.32,708.18 234.44,708.09 234.56,708.03 234.68,708 234.8,708 234.92,708.02 235.04,708.07 235.16,708.14 235.28,708.23 235.4,708.33 235.52,708.45 235.64,708.58 235.76,708.71 235.88,708.84 236,708.98 236.12,709.11 236.24,709.22 236.36,709.33 236.48,709.42 236.6,709.5 236.72,709.55 236.84,709.59 236.96,709.61 237.08,709.6 237.2,709.59 237.32,709.55 237.44,709.5 237.56,709.43 237.68,709.34 237.8,709.25 237.92,709.15 238.04,709.04 238.16,708.93 238.28,708.82 238.4,708.72 238.52,708.63 238.64,708.55 238.76,708.48 238.88,708.42 239,708.38 239.12,708.35 239.24,708.35 239.36,708.36 239.48,708.38 239.6,708.41 239.72,708.46 239.84,708.51 239.96,708.58 240.08,708.65 240.2,708.73 240.32,708.81 240.44,708.89 240.56,708.97 240.68,709.04 240.8,709.1 240.92,709.16 241.04,709.21 241.16,709.25 241.28,709.28 241.4,709.3 241.52,709.3 241.64,709.3 241.76,709.28 241.88,709.26 242,709.22 242.12,709.18 242.24,709.12 242.36,709.07 242.48,709.01 242.6,708.95 242.72,708.88 242.84,708.83 242.96,708.77 243.08,708.72 243.2,708.68 243.32,708.65 243.44,708.62 243.56,708.6 243.68,708.6 243.8,708.6 243.92,708.61 244.04,708.62 244.16,708.65 244.28,708.67 244.4,708.71 244.52,708.75 244.64,708.79 244.76,708.83 244.88,708.87 245,708.91 245.12,708.95 245.24,708.99 245.36,709.02 245.48,709.05 245.6,709.07 245.72,709.09 245.84,709.1 245.96,709.1 246.08,709.1 246.2,709.1 246.32,709.08 246.44,709.07 246.56,709.05 246.68,709.02 246.8,708.99 246.92,708.96 247.04,708.93 247.16,708.9 247.28,708.87 247.4,708.84 247.52,708.82 247.64,708.8 247.76,708.78 247.88,708.76 248,708.75 248.12,708.75 248.24,708.75 248.36,708.75 248.48,708.76 248.6,708.77 248.72,708.78 248.84,708.8 248.96,708.82 249.08,708.84 249.2,708.86 249.32,708.88 249.44,708.9 249.56,708.92 249.68,708.94 249.8,708.95 249.92,708.96 250.04,708.97 250.16,708.98 250.28,708.98 250.4,708.98 250.52,708.98 250.64,708.98 250.76,708.97 250.88,708.96 251,708.95 251.12,708.94 251.24,708.93 251.36,708.92 251.48,708.91 251.6,708.9 251.72,708.89 251.84,708.88 251.96,708.88 252.08,708.87 252.2,708.87 252.32,708.87 252.44,708.87 252.56,708.87 252.68,708.87 252.8,708.88 252.92,708.88 253.04,708.89 253.16,708.89 253.28,708.89 253.4,708.9 253.52,708.9 253.64,708.9 253.76,708.9 253.88,708.9 254,708.9 254.12,708.9 254.24,708.9 254.36,708.9 254.48,708.9 254.6,708.9 254.72,708.9 254.84,708.9 254.96,708.9 255.08,708.9 255.2,708.9 255.32,708.9 255.44,708.9 255.56,708.9 255.68,708.9 255.8,708.9 255.92,708.9 256.04,708.9 256.16,708.9 256.28,708.9 256.4,708.9 256.52,708.9 256.64,708.9 256.76,708.9 256.88,708.9 257,708.9 257.12,708.9 257.24,708.9 257.36,708.9 257.48,708.9 257.6,708.9 257.72,708.9 257.84,708.9 257.96,708.9 258.08,708.9 258.2,708.9 258.32,708.9 258.44,708.9 258.56,708.9 258.68,708.9 258.8,708.9 258.92,708.9 259.04,708.9 259.16,708.9 259.28,708.9 259.4,708.9 259.52,708.9 259.64,708.9 259.76,708.9 259.88,708.9 260,708.9 260.12,708.9 260.24,708.9 260.36,708.9 260.48,708.9 260.6,708.9 260.72,708.9 260.84,708.9 260.96,708.9 261.08,708.9 261.2,708.9 261.32,708.9 261.44,708.9 261.56,708.9 261.68,708.9 261.8,708.9 261.92,708.9 262.04,708.9 262.16,708.9 262.28,708.9 262.4,708.9 262.52,708.9 262.64,708.9 262.76,708.9 262.88,708.9 263,708.9 263.12,708.9 263.24,708.9 263.36,708.9 263.48,708.9 263.6,708.9 263.72,708.9 263.84,708.9 263.96,708.9 264.08,708.9 264.2,708.9 264.32,708.9 264.44,708.9 264.56,708.9 264.68,708.9 264.8,708.9 264.92,708.9 265.04,708.9 265.16,708.9 265.28,708.9 265.4,708.9 265.52,708.9 265.64,708.9 265.76,708.9 265.88,708.9 266,708.9 266.12,708.9 266.24,708.9 266.36,708.9 266.48,708.9 266.6,708.9 266.72,708.9 266.84,708.9 266.96,708.9 267.08,708.9 267.2,708.9 267.32,708.9 267.44,708.9 267.56,708.9 267.68,708.9 267.8,708.9 267.92,708.9 268.04,708.9 268.16,708.9 268.28,708.9 268.4,708.9 268.52,708.9 268.64,708.9 268.76,708.9 268.88,708.9 269,708.9 269.12,708.9 269.24,708.9 269.36,708.9 269.48,708.9 269.6,708.9 269.72,708.9 269.84,708.9 269.96,708.9 270.08,708.9 270.2,708.9 270.32,708.9 270.44,708.9 270.56,708.9 270.68,708.9 270.8,708.9 270.92,708.9 271.04,708.9 271.16,708.9 271.28,708.9 271.4,708.9 271.52,708.9 271.64,708.9 271.76,708.9 271.88,708.9 272,708.9 272.12,708.9 272.24,708.9 272.36,708.9 272.48,708.9 272.6,708.9 272.72,708.9 272.84,708.9 272.96,708.9 273.08,708.9 273.2,708.9 273.32,708.9 273.44,708.9 273.56,708.9 273.68,708.9 273.8,708.9 273.92,708.9 274.04,708.9 274.16,708.9 274.28,708.9 274.4,708.9 274.52,708.9 274.64,708.9 274.76,708.9 274.88,708.9 275,708.9 275.12,708.9 275.24,708.9 275.36,708.9 275.48,708.9 275.6,708.9 275.72,708.9 275.84,708.9 275.96,708.9 276.08,708.9 276.2,708.9 276.32,708.9 276.44,708.9 276.56,708.9 276.68,708.9 276.8,708.9 276.92,708.9 277.04,708.9 277.16,708.9 277.28,708.9 277.4,708.9 277.52,708.9 277.64,708.9 277.76,708.9 277.88,708.9 278,708.9 278.12,708.9 278.24,708.9 278.36,708.9 278.48,708.9 278.6,708.9 278.72,708.9 278.84,708.9 278.96,708.9 279.08,708.9 279.2,708.9 279.32,708.9 279.44,708.9 279.56,708.9 279.68,708.9 279.8,708.9 279.92,708.9 280.04,708.9 280.16,708.9 280.28,708.9 280.4,708.9 280.52,708.9 280.64,708.9 280.76,708.9 280.88,708.9 281,708.9 281.12,708.9 281.24,708.9 281.36,708.9 281.48,708.9 281.6,708.9 281.72,708.9 281.84,708.9 281.96,708.9 282.08,708.9 282.2,708.9 282.32,708.9 282.44,708.9 282.56,708.9 282.68,708.9 282.8,708.9 282.92,708.9 283.04,708.9 283.16,708.9 283.28,708.9 283.4,708.9 283.52,708.9 283.64,708.9 283.76,708.9 283.88,708.9 284,708.9 284.12,708.9 284.24,708.9 284.36,708.9 284.48,708.9 284.6,708.9 284.72,708.9 284.84,708.9 284.96,708.9 285.08,708.9 285.2,708.9 285.32,708.9 285.44,708.9 285.56,708.9 285.68,708.9 285.8,708.9 285.92,708.9 286.04,708.9 286.16,708.9 286.28,708.9 286.4,708.9 286.52,708.9 286.64,708.9 286.76,708.9 286.88,708.9 287,708.9 287.12,708.9 287.24,708.9 287.36,708.9 287.48,708.9 287.6,708.9 287.72,708.9 287.84,708.9 287.96,708.9 288.08,708.9 288.2,708.9 288.32,708.9 288.44,708.9 288.56,708.9 288.68,708.9 288.8,708.9 288.92,708.9 289.04,708.9 289.16,708.9 289.28,708.9 289.4,708.9 289.52,708.9 289.64,708.9 289.76,708.9 289.88,708.9 290,708.9 290.12,708.9 290.24,708.9 290.36,708.9 290.48,708.9 290.6,708.9 290.72,708.9 290.84,708.9 290.96,708.9 291.08,708.9 291.2,708.9 291.32,708.9 291.44,708.9 291.56,708.9 291.68,708.9 291.8,708.9 291.92,708.9 292.04,708.9 292.16,708.9 292.28,708.9 292.4,708.9 292.52,708.9 292.64,708.9 292.76,708.9 292.88,708.9 293,708.9 293.25,569.3 294.3,571.6 295.3,570.4 296.5,571.4 297.4,570.6 297.55,600 298,686 298.7,718.18 298.82,719.78 298.94,721.14 299.06,722.24 299.18,723.04 299.3,723.56 299.42,723.77 299.54,723.68 299.66,723.19 299.78,722.25 299.9,720.91 300.02,719.21 300.14,717.19 300.26,714.91 300.38,712.44 300.5,709.85 300.62,707.2 300.74,704.57 300.86,702.03 300.98,699.64 301.1,697.47 301.22,695.57 301.34,693.98 301.46,692.75 301.58,691.91 301.7,691.46 301.82,691.43 301.94,691.83 302.06,692.59 302.18,693.67 302.3,695.04 302.42,696.68 302.54,698.52 302.66,700.52 302.78,702.63 302.9,704.79 303.02,706.96 303.14,709.07 303.26,711.08 303.38,712.94 303.5,714.61 303.62,716.05 303.74,717.22 303.86,718.12 303.98,718.71 304.1,719 304.22,718.98 304.34,718.67 304.46,718.02 304.58,717.05 304.7,715.81 304.82,714.34 304.94,712.68 305.06,710.9 305.18,709.04 305.3,707.16 305.42,705.33 305.54,703.59 305.66,701.99 305.78,700.58 305.9,699.41 306.02,698.49 306.14,697.86 306.26,697.52 306.38,697.48 306.5,697.7 306.62,698.16 306.74,698.84 306.86,699.72 306.98,700.78 307.1,701.99 307.22,703.31 307.34,704.7 307.46,706.15 307.58,707.59 307.7,709.02 307.82,710.37 307.94,711.64 308.06,712.78 308.18,713.78 308.3,714.61 308.42,715.25 308.54,715.71 308.66,715.96 308.78,716.01 308.9,715.87 309.02,715.48 309.14,714.88 309.26,714.08 309.38,713.12 309.5,712.03 309.62,710.85 309.74,709.62 309.86,708.4 309.98,707.21 310.1,706.1 310.22,705.1 310.34,704.24 310.46,703.55 310.58,703.05 310.7,702.75 310.82,702.65 310.94,702.73 311.06,702.91 311.18,703.24 311.3,703.7 311.42,704.28 311.54,704.96 311.66,705.72 311.78,706.55 311.9,707.41 312.02,708.3 312.14,709.18 312.26,710.03 312.38,710.84 312.5,711.58 312.62,712.25 312.74,712.81 312.86,713.27 312.98,713.6 313.1,713.82 313.22,713.91 313.34,713.87 313.46,713.69 313.58,713.36 313.7,712.89 313.82,712.31 313.94,711.64 314.06,710.89 314.18,710.1 314.3,709.29 314.42,708.49 314.54,707.73 314.66,707.02 314.78,706.4 314.9,705.87 315.02,705.46 315.14,705.17 315.26,705.02 315.38,704.99 315.5,705.07 315.62,705.24 315.74,705.51 315.86,705.87 315.98,706.3 316.1,706.8 316.22,707.33 316.34,707.9 316.46,708.49 316.58,709.07 316.7,709.63 316.82,710.16 316.94,710.64 317.06,711.06 317.18,711.42 317.3,711.69 317.42,711.89 317.54,711.99 317.66,712.01 317.78,711.97 317.9,711.85 318.02,711.65 318.14,711.38 318.26,711.05 318.38,710.67 318.5,710.25 318.62,709.8 318.74,709.34 318.86,708.87 318.98,708.42 319.1,707.99 319.22,707.59 319.34,707.24 319.46,706.94 319.58,706.7 319.7,706.53 319.82,706.42 319.94,706.39 320.06,706.42 320.18,706.52 320.3,706.69 320.42,706.92 320.54,707.21 320.66,707.54 320.78,707.91 320.9,708.3 321.02,708.71 321.14,709.11 321.26,709.5 321.38,709.87 321.5,710.2 321.62,710.49 321.74,710.73 321.86,710.91 321.98,711.04 322.1,711.1 322.22,711.09 322.34,711.03 322.46,710.89 322.58,710.7 322.7,710.46 322.82,710.18 322.94,709.86 323.06,709.53 323.18,709.18 323.3,708.84 323.42,708.51 323.54,708.21 323.66,707.94 323.78,707.71 323.9,707.52 324.02,707.39 324.14,707.32 324.26,707.29 324.38,707.32 324.5,707.39 324.62,707.5 324.74,707.65 324.86,707.83 324.98,708.03 325.1,708.26 325.22,708.5 325.34,708.74 325.46,708.98 325.58,709.21 325.7,709.43 325.82,709.63 325.94,709.81 326.06,709.96 326.18,710.07 326.3,710.15 326.42,710.2 326.54,710.21 326.66,710.19 326.78,710.13 326.9,710.04 327.02,709.91 327.14,709.76 327.26,709.58 327.38,709.39 327.5,709.2 327.62,708.99 327.74,708.8 327.86,708.61 327.98,708.44 328.1,708.3 328.22,708.18 328.34,708.09 328.46,708.03 328.58,708 328.7,708 328.82,708.02 328.94,708.07 329.06,708.14 329.18,708.23 329.3,708.33 329.42,708.45 329.54,708.58 329.66,708.71 329.78,708.84 329.9,708.98 330.02,709.11 330.14,709.22 330.26,709.33 330.38,709.42 330.5,709.5 330.62,709.55 330.74,709.59 330.86,709.61 330.98,709.6 331.1,709.59 331.22,709.55 331.34,709.5 331.46,709.43 331.58,709.34 331.7,709.25 331.82,709.15 331.94,709.04 332.06,708.93 332.18,708.82 332.3,708.72 332.42,708.63 332.54,708.55 332.66,708.48 332.78,708.42 332.9,708.38 333.02,708.35 333.14,708.35 333.26,708.36 333.38,708.38 333.5,708.41 333.62,708.46 333.74,708.51 333.86,708.58 333.98,708.65 334.1,708.73 334.22,708.81 334.34,708.89 334.46,708.97 334.58,709.04 334.7,709.1 334.82,709.16 334.94,709.21 335.06,709.25 335.18,709.28 335.3,709.3 335.42,709.3 335.54,709.3 335.66,709.28 335.78,709.26 335.9,709.22 336.02,709.18 336.14,709.12 336.26,709.07 336.38,709.01 336.5,708.95 336.62,708.88 336.74,708.83 336.86,708.77 336.98,708.72 337.1,708.68 337.22,708.65 337.34,708.62 337.46,708.6 337.58,708.6 337.7,708.6 337.82,708.61 337.94,708.62 338.06,708.65 338.18,708.67 338.3,708.71 338.42,708.75 338.54,708.79 338.66,708.83 338.78,708.87 338.9,708.91 339.02,708.95 339.14,708.99 339.26,709.02 339.38,709.05 339.5,709.07 339.62,709.09 339.74,709.1 339.86,709.1 339.98,709.1 340.1,709.1 340.22,709.08 340.34,709.07 340.46,709.05 340.58,709.02 340.7,708.99 340.82,708.96 340.94,708.93 341.06,708.9 341.18,708.87 341.3,708.84 341.42,708.82 341.54,708.8 341.66,708.78 341.78,708.76 341.9,708.75 342.02,708.75 342.14,708.75 342.26,708.75 342.38,708.76 342.5,708.77 342.62,708.78 342.74,708.8 342.86,708.82 342.98,708.84 343.1,708.86 343.22,708.88 343.34,708.9 343.46,708.92 343.58,708.94 343.7,708.95 343.82,708.96 343.94,708.97 344.06,708.98 344.18,708.98 344.3,708.98 344.42,708.98 344.54,708.98 344.66,708.97 344.78,708.96 344.9,708.95 345.02,708.94 345.14,708.93 345.26,708.92 345.38,708.91 345.5,708.9 345.62,708.89 345.74,708.88 345.86,708.88 345.98,708.87 346.1,708.87 346.22,708.87 346.34,708.87 346.46,708.87 346.58,708.87 346.7,708.88 346.82,708.88 346.94,708.89 347.06,708.89 347.18,708.89 347.3,708.9 347.42,708.9 347.54,708.9 347.66,708.9 347.78,708.9 347.9,708.9 348.02,708.9 348.14,708.9 348.26,708.9 348.38,708.9 348.5,708.9 348.62,708.9 348.74,708.9 348.86,708.9 348.98,708.9 349.1,708.9 349.22,708.9 349.34,708.9 349.46,708.9 349.58,708.9 349.7,708.9 349.82,708.9 349.94,708.9 350.06,708.9 350.18,708.9 350.3,708.9 350.42,708.9 350.54,708.9 350.66,708.9 350.78,708.9 350.9,708.9 351.02,708.9 351.14,708.9 351.26,708.9 351.38,708.9 351.5,708.9 351.62,708.9 351.74,708.9 351.86,708.9 351.98,708.9 352.1,708.9 352.22,708.9 352.34,708.9 352.46,708.9 352.58,708.9 352.7,708.9 352.82,708.9 352.94,708.9 353.06,708.9 353.18,708.9 353.3,708.9 353.42,708.9 353.54,708.9 353.66,708.9 353.78,708.9 353.9,708.9 354.02,708.9 354.14,708.9 354.26,708.9 354.38,708.9 354.5,708.9 354.62,708.9 354.74,708.9 354.86,708.9 354.98,708.9 355.1,708.9 355.22,708.9 355.34,708.9 355.46,708.9 355.58,708.9 355.7,708.9 355.82,708.9 355.94,708.9 356.06,708.9 356.18,708.9 356.3,708.9 356.42,708.9 356.54,708.9 356.66,708.9 356.78,708.9 356.9,708.9 357.02,708.9 357.14,708.9 357.26,708.9 357.38,708.9 357.5,708.9 357.62,708.9 357.74,708.9 357.86,708.9 357.98,708.9 358.1,708.9 358.22,708.9 358.34,708.9 358.46,708.9 358.58,708.9 358.7,708.9 358.82,708.9 358.94,708.9 359.06,708.9 359.18,708.9 359.3,708.9 359.42,708.9 359.54,708.9 359.66,708.9 359.78,708.9 359.9,708.9 360.02,708.9 360.14,708.9 360.26,708.9 360.38,708.9 360.5,708.9 360.62,708.9 360.74,708.9 360.86,708.9 360.98,708.9 361.1,708.9 361.22,708.9 361.34,708.9 361.46,708.9 361.58,708.9 361.7,708.9 361.82,708.9 361.94,708.9 362.06,708.9 362.18,708.9 362.3,708.9 362.42,708.9 362.54,708.9 362.66,708.9 362.78,708.9 362.9,708.9 363.02,708.9 363.14,708.9 363.26,708.9 363.38,708.9 363.5,708.9 363.62,708.9 363.74,708.9 363.86,708.9 363.98,708.9 364.1,708.9 364.22,708.9 364.34,708.9 364.46,708.9 364.58,708.9 364.7,708.9 364.82,708.9 364.94,708.9 365.06,708.9 365.18,708.9 365.3,708.9 365.42,708.9 365.54,708.9 365.66,708.9 365.78,708.9 365.9,708.9 366.02,708.9 366.14,708.9 366.26,708.9 366.38,708.9 366.5,708.9 366.62,708.9 366.74,708.9 366.86,708.9 366.98,708.9 367.1,708.9 367.22,708.9 367.34,708.9 367.46,708.9 367.58,708.9 367.7,708.9 367.82,708.9 367.94,708.9 368.06,708.9 368.18,708.9 368.3,708.9 368.42,708.9 368.54,708.9 368.66,708.9 368.78,708.9 368.9,708.9 369.02,708.9 369.14,708.9 369.26,708.9 369.38,708.9 369.5,708.9 369.62,708.9 369.74,708.9 369.86,708.9 369.98,708.9 370.1,708.9 370.22,708.9 370.34,708.9 370.46,708.9 370.58,708.9 370.7,708.9 370.82,708.9 370.94,708.9 371.06,708.9 371.18,708.9 371.3,708.9 371.42,708.9 371.54,708.9 371.66,708.9 371.78,708.9 371.9,708.9 372.02,708.9 372.14,708.9 372.26,708.9 372.38,708.9 372.5,708.9 372.62,708.9 372.74,708.9 372.86,708.9 372.98,708.9 373.1,708.9 373.22,708.9 373.34,708.9 373.46,708.9 373.58,708.9 373.7,708.9 373.82,708.9 373.94,708.9 374.06,708.9 374.18,708.9 374.3,708.9 374.42,708.9 374.54,708.9 374.66,708.9 374.78,708.9 374.9,708.9 375.02,708.9 375.14,708.9 375.26,708.9 375.38,708.9 375.5,708.9 375.62,708.9 375.74,708.9 375.86,708.9 375.98,708.9 376.1,708.9 376.22,708.9 376.34,708.9 376.46,708.9 376.58,708.9 376.7,708.9 376.82,708.9 376.94,708.9 377.06,708.9 377.18,708.9 377.3,708.9 377.42,708.9 377.54,708.9 377.66,708.9 377.78,708.9 377.9,708.9 378.02,708.9 378.14,708.9 378.26,708.9 378.38,708.9 378.5,708.9 378.62,708.9 378.74,708.9 378.86,708.9 378.98,708.9 379.1,708.9 379.22,708.9 379.34,708.9 379.46,708.9 379.58,708.9 379.7,708.9 379.82,708.9 379.94,708.9 380.06,708.9 380.18,708.9 380.3,708.9 380.42,708.9 380.54,708.9 380.66,708.9 380.78,708.9 380.9,708.9 381.02,708.9 381.14,708.9 381.26,708.9 381.38,708.9 381.5,708.9 381.62,708.9 381.74,708.9 381.86,708.9 381.98,708.9 382.1,708.9 382.22,708.9 382.34,708.9 382.46,708.9 382.58,708.9 382.7,708.9 382.82,708.9 382.94,708.9 383.06,708.9 383.18,708.9 383.3,708.9 383.42,708.9 383.54,708.9 383.66,708.9 383.78,708.9 383.9,708.9 384.02,708.9 384.14,708.9 384.26,708.9 384.38,708.9 384.5,708.9 384.62,708.9 384.74,708.9 384.86,708.9 384.98,708.9 385.1,708.9 385.22,708.9 385.34,708.9 385.46,708.9 385.58,708.9 385.7,708.9 385.82,708.9 385.94,708.9 386.06,708.9 386.18,708.9 386.3,708.9 386.42,708.9 386.54,708.9 386.66,708.9 386.78,708.9 386.9,708.9 387.15,569.3 388.2,571.6 389.2,570.4 390.4,571.4 391.3,570.6 391.45,600 391.9,686 392.6,718.18 392.72,719.78 392.84,721.14 392.96,722.24 393.08,723.04 393.2,723.56 393.32,723.77 393.44,723.68 393.56,723.19 393.68,722.25 393.8,720.91 393.92,719.21 394.04,717.19 394.16,714.91 394.28,712.44 394.4,709.85 394.52,707.2 394.64,704.57 394.76,702.03 394.88,699.64 395,697.47 395.12,695.57 395.24,693.98 395.36,692.75 395.48,691.91 395.6,691.46 395.72,691.43 395.84,691.83 395.96,692.59 396.08,693.67 396.2,695.04 396.32,696.68 396.44,698.52 396.56,700.52 396.68,702.63 396.8,704.79 396.92,706.96 397.04,709.07 397.16,711.08 397.28,712.94 397.4,714.61 397.52,716.05 397.64,717.22 397.76,718.12 397.88,718.71 398,719 398.12,718.98 398.24,718.67 398.36,718.02 398.48,717.05 398.6,715.81 398.72,714.34 398.84,712.68 398.96,710.9 399.08,709.04 399.2,707.16 399.32,705.33 399.44,703.59 399.56,701.99 399.68,700.58 399.8,699.41 399.92,698.49 400.04,697.86 400.16,697.52 400.28,697.48 400.4,697.7 400.52,698.16 400.64,698.84 400.76,699.72 400.88,700.78 401,701.99 401.12,703.31 401.24,704.7 401.36,706.15 401.48,707.59 401.6,709.02 401.72,710.37 401.84,711.64 401.96,712.78 402.08,713.78 402.2,714.61 402.32,715.25 402.44,715.71 402.56,715.96 402.68,716.01 402.8,715.87 402.92,715.48 403.04,714.88 403.16,714.08 403.28,713.12 403.4,712.03 403.52,710.85 403.64,709.62 403.76,708.4 403.88,707.21 404,706.1 404.12,705.1 404.24,704.24 404.36,703.55 404.48,703.05 404.6,702.75 404.72,702.65 404.84,702.73 404.96,702.91 405.08,703.24 405.2,703.7 405.32,704.28 405.44,704.96 405.56,705.72 405.68,706.55 405.8,707.41 405.92,708.3 406.04,709.18 406.16,710.03 406.28,710.84 406.4,711.58 406.52,712.25 406.64,712.81 406.76,713.27 406.88,713.6 407,713.82 407.12,713.91 407.24,713.87 407.36,713.69 407.48,713.36 407.6,712.89 407.72,712.31 407.84,711.64 407.96,710.89 408.08,710.1 408.2,709.29 408.32,708.49 408.44,707.73 408.56,707.02 408.68,706.4 408.8,705.87 408.92,705.46 409.04,705.17 409.16,705.02 409.28,704.99 409.4,705.07 409.52,705.24 409.64,705.51 409.76,705.87 409.88,706.3 410,706.8 410.12,707.33 410.24,707.9 410.36,708.49 410.48,709.07 410.6,709.63 410.72,710.16 410.84,710.64 410.96,711.06 411.08,711.42 411.2,711.69 411.32,711.89 411.44,711.99 411.56,712.01 411.68,711.97 411.8,711.85 411.92,711.65 412.04,711.38 412.16,711.05 412.28,710.67 412.4,710.25 412.52,709.8 412.64,709.34 412.76,708.87 412.88,708.42 413,707.99 413.12,707.59 413.24,707.24 413.36,706.94 413.48,706.7 413.6,706.53 413.72,706.42 413.84,706.39 413.96,706.42 414.08,706.52 414.2,706.69 414.32,706.92 414.44,707.21 414.56,707.54 414.68,707.91 414.8,708.3 414.92,708.71 415.04,709.11 415.16,709.5 415.28,709.87 415.4,710.2 415.52,710.49 415.64,710.73 415.76,710.91 415.88,711.04 416,711.1 416.12,711.09 416.24,711.03 416.36,710.89 416.48,710.7 416.6,710.46 416.72,710.18 416.84,709.86 416.96,709.53 417.08,709.18 417.2,708.84 417.32,708.51 417.44,708.21 417.56,707.94 417.68,707.71 417.8,707.52 417.92,707.39 418.04,707.32 418.16,707.29 418.28,707.32 418.4,707.39 418.52,707.5 418.64,707.65 418.76,707.83 418.88,708.03 419,708.26 419.12,708.5 419.24,708.74 419.36,708.98 419.48,709.21 419.6,709.43 419.72,709.63 419.84,709.81 419.96,709.96 420.08,710.07 420.2,710.15 420.32,710.2 420.44,710.21 420.56,710.19 420.68,710.13 420.8,710.04 420.92,709.91 421.04,709.76 421.16,709.58 421.28,709.39 421.4,709.2 421.52,708.99 421.64,708.8 421.76,708.61 421.88,708.44 422,708.3 422.12,708.18 422.24,708.09 422.36,708.03 422.48,708 422.6,708 422.72,708.02 422.84,708.07 422.96,708.14 423.08,708.23 423.2,708.33 423.32,708.45 423.44,708.58 423.56,708.71 423.68,708.84 423.8,708.98 423.92,709.11 424.04,709.22 424.16,709.33 424.28,709.42 424.4,709.5 424.52,709.55 424.64,709.59 424.76,709.61 424.88,709.6 425,709.59 425.12,709.55 425.24,709.5 425.36,709.43 425.48,709.34 425.6,709.25 425.72,709.15 425.84,709.04 425.96,708.93 426.08,708.82 426.2,708.72 426.32,708.63 426.44,708.55 426.56,708.48 426.68,708.42 426.8,708.38 426.92,708.35 427.04,708.35 427.16,708.36 427.28,708.38 427.4,708.41 427.52,708.46 427.64,708.51 427.76,708.58 427.88,708.65 428,708.73 428.12,708.81 428.24,708.89 428.36,708.97 428.48,709.04 428.6,709.1 428.72,709.16 428.84,709.21 428.96,709.25 429.08,709.28 429.2,709.3 429.32,709.3 429.44,709.3 429.56,709.28 429.68,709.26 429.8,709.22 429.92,709.18 430.04,709.12 430.16,709.07 430.28,709.01 430.4,708.95 430.52,708.88 430.64,708.83 430.76,708.77 430.88,708.72 431,708.68 431.12,708.65 431.24,708.62 431.36,708.6 431.48,708.6 431.6,708.6 431.72,708.61 431.84,708.62 431.96,708.65 432.08,708.67 432.2,708.71 432.32,708.75 432.44,708.79 432.56,708.83 432.68,708.87 432.8,708.91 432.92,708.95 433.04,708.99 433.16,709.02 433.28,709.05 433.4,709.07 433.52,709.09 433.64,709.1 433.76,709.1 433.88,709.1 434,709.1 434.12,709.08 434.24,709.07 434.36,709.05 434.48,709.02 434.6,708.99 434.72,708.96 434.84,708.93 434.96,708.9 435.08,708.87 435.2,708.84 435.32,708.82 435.44,708.8 435.56,708.78 435.68,708.76 435.8,708.75 435.92,708.75 436.04,708.75 436.16,708.75 436.28,708.76 436.4,708.77 436.52,708.78 436.64,708.8 436.76,708.82 436.88,708.84 437,708.86 437.12,708.88 437.24,708.9 437.36,708.92 437.48,708.94 437.6,708.95 437.72,708.96 437.84,708.97 437.96,708.98 438.08,708.98 438.2,708.98 438.32,708.98 438.44,708.98 438.56,708.97 438.68,708.96 438.8,708.95 438.92,708.94 439.04,708.93 439.16,708.92 439.28,708.91 439.4,708.9 439.52,708.89 439.64,708.88 439.76,708.88 439.88,708.87 440,708.87 440.12,708.87 440.24,708.87 440.36,708.87 440.48,708.87 440.6,708.88 440.72,708.88 440.84,708.89 440.96,708.89 441.08,708.89 441.2,708.9 441.32,708.9 441.44,708.9 441.56,708.9 441.68,708.9 441.8,708.9 441.92,708.9 442.04,708.9 442.16,708.9 442.28,708.9 442.4,708.9 442.52,708.9 442.64,708.9 442.76,708.9 442.88,708.9 443,708.9 443.12,708.9 443.24,708.9 443.36,708.9 443.48,708.9 443.6,708.9 443.72,708.9 443.84,708.9 443.96,708.9 444.08,708.9 444.2,708.9 444.32,708.9 444.44,708.9 444.56,708.9 444.68,708.9 444.8,708.9 444.92,708.9 445.04,708.9 445.16,708.9 445.28,708.9 445.4,708.9 445.52,708.9 445.64,708.9 445.76,708.9 445.88,708.9 446,708.9 446.12,708.9 446.24,708.9 446.36,708.9 446.48,708.9 446.6,708.9 446.72,708.9 446.84,708.9 446.96,708.9 447.08,708.9 447.2,708.9 447.32,708.9 447.44,708.9 447.56,708.9 447.68,708.9 447.8,708.9 447.92,708.9 448.04,708.9 448.16,708.9 448.28,708.9 448.4,708.9 448.52,708.9 448.64,708.9 448.76,708.9 448.88,708.9 449,708.9 449.12,708.9 449.24,708.9 449.36,708.9 449.48,708.9 449.6,708.9 449.72,708.9 449.84,708.9 449.96,708.9 450.08,708.9 450.2,708.9 450.32,708.9 450.44,708.9 450.56,708.9 450.68,708.9 450.8,708.9 450.92,708.9 451.04,708.9 451.16,708.9 451.28,708.9 451.4,708.9 451.52,708.9 451.64,708.9 451.76,708.9 451.88,708.9 452,708.9 452.12,708.9 452.24,708.9 452.36,708.9 452.48,708.9 452.6,708.9 452.72,708.9 452.84,708.9 452.96,708.9 453.08,708.9 453.2,708.9 453.32,708.9 453.44,708.9 453.56,708.9 453.68,708.9 453.8,708.9 453.92,708.9 454.04,708.9 454.16,708.9 454.28,708.9 454.4,708.9 454.52,708.9 454.64,708.9 454.76,708.9 454.88,708.9 455,708.9 455.12,708.9 455.24,708.9 455.36,708.9 455.48,708.9 455.6,708.9 455.72,708.9 455.84,708.9 455.96,708.9 456.08,708.9 456.2,708.9 456.32,708.9 456.44,708.9 456.56,708.9 456.68,708.9 456.8,708.9 456.92,708.9 457.04,708.9 457.16,708.9 457.28,708.9 457.4,708.9 457.52,708.9 457.64,708.9 457.76,708.9 457.88,708.9 458,708.9 458.12,708.9 458.24,708.9 458.36,708.9 458.48,708.9 458.6,708.9 458.72,708.9 458.84,708.9 458.96,708.9 459.08,708.9 459.2,708.9 459.32,708.9 459.44,708.9 459.56,708.9 459.68,708.9 459.8,708.9 459.92,708.9 460.04,708.9 460.16,708.9 460.28,708.9 460.4,708.9 460.52,708.9 460.64,708.9 460.76,708.9 460.88,708.9 461,708.9 461.12,708.9 461.24,708.9 461.36,708.9 461.48,708.9 461.6,708.9 461.72,708.9 461.84,708.9 461.96,708.9 462.08,708.9 462.2,708.9 462.32,708.9 462.44,708.9 462.56,708.9 462.68,708.9 462.8,708.9 462.92,708.9 463.04,708.9 463.16,708.9 463.28,708.9 463.4,708.9 463.52,708.9 463.64,708.9 463.76,708.9 463.88,708.9 464,708.9 464.12,708.9 464.24,708.9 464.36,708.9 464.48,708.9 464.6,708.9 464.72,708.9 464.84,708.9 464.96,708.9 465.08,708.9 465.2,708.9 465.32,708.9 465.44,708.9 465.56,708.9 465.68,708.9 465.8,708.9 465.92,708.9 466.04,708.9 466.16,708.9 466.28,708.9 466.4,708.9 466.52,708.9 466.64,708.9 466.76,708.9 466.88,708.9 467,708.9 467.12,708.9 467.24,708.9 467.36,708.9 467.48,708.9 467.6,708.9 467.72,708.9 467.84,708.9 467.96,708.9 468.08,708.9 468.2,708.9 468.32,708.9 468.44,708.9 468.56,708.9 468.68,708.9 468.8,708.9 468.92,708.9 469.04,708.9 469.16,708.9 469.28,708.9 469.4,708.9 469.52,708.9 469.64,708.9 469.76,708.9 469.88,708.9 470,708.9 470.12,708.9 470.24,708.9 470.36,708.9 470.48,708.9 470.6,708.9 470.72,708.9 470.84,708.9 470.96,708.9 471.08,708.9 471.2,708.9 471.32,708.9 471.44,708.9 471.56,708.9 471.68,708.9 471.8,708.9 471.92,708.9 472.04,708.9 472.16,708.9 472.28,708.9 472.4,708.9 472.52,708.9 472.64,708.9 472.76,708.9 472.88,708.9 473,708.9 473.12,708.9 473.24,708.9 473.36,708.9 473.48,708.9 473.6,708.9 473.72,708.9 473.84,708.9 473.96,708.9 474.08,708.9 474.2,708.9 474.32,708.9 474.44,708.9 474.56,708.9 474.68,708.9 474.8,708.9 474.92,708.9 475.04,708.9 475.16,708.9 475.28,708.9 475.4,708.9 475.52,708.9 475.64,708.9 475.76,708.9 475.88,708.9 476,708.9 476.12,708.9 476.24,708.9 476.36,708.9 476.48,708.9 476.6,708.9 476.72,708.9 476.84,708.9 476.96,708.9 477.08,708.9 477.2,708.9 477.32,708.9 477.44,708.9 477.56,708.9 477.68,708.9 477.8,708.9 477.92,708.9 478.04,708.9 478.16,708.9 478.28,708.9 478.4,708.9 478.52,708.9 478.64,708.9 478.76,708.9 478.88,708.9 479,708.9 479.12,708.9 479.24,708.9 479.36,708.9 479.48,708.9 479.6,708.9 479.72,708.9 479.84,708.9 479.96,708.9 480.08,708.9 480.2,708.9 480.32,708.9 480.44,708.9 480.56,708.9 480.68,708.9 480.8,708.9 481.05,569.3 482.1,571.6 483.1,570.4 484.3,571.4 485.2,570.6 485.35,600 485.8,686 486.5,718.18 486.62,719.78 486.74,721.14 486.86,722.24 486.98,723.04 487.1,723.56 487.22,723.77 487.34,723.68 487.46,723.19 487.58,722.25 487.7,720.91 487.82,719.21 487.94,717.19 488.06,714.91 488.18,712.44 488.3,709.85 488.42,707.2 488.54,704.57 488.66,702.03 488.78,699.64 488.9,697.47 489.02,695.57 489.14,693.98 489.26,692.75 489.38,691.91 489.5,691.46 489.62,691.43 489.74,691.83 489.86,692.59 489.98,693.67 490.1,695.04 490.22,696.68 490.34,698.52 490.46,700.52 490.58,702.63 490.7,704.79 490.82,706.96 490.94,709.07 491.06,711.08 491.18,712.94 491.3,714.61 491.42,716.05 491.54,717.22 491.66,718.12 491.78,718.71 491.9,719 492.02,718.98 492.14,718.67 492.26,718.02 492.38,717.05 492.5,715.81 492.62,714.34 492.74,712.68 492.86,710.9 492.98,709.04 493.1,707.16 493.22,705.33 493.34,703.59 493.46,701.99 493.58,700.58 493.7,699.41 493.82,698.49 493.94,697.86 494.06,697.52 494.18,697.48 494.3,697.7 494.42,698.16 494.54,698.84 494.66,699.72 494.78,700.78 494.9,701.99 495.02,703.31 495.14,704.7 495.26,706.15 495.38,707.59 495.5,709.02 495.62,710.37 495.74,711.64 495.86,712.78 495.98,713.78 496.1,714.61 496.22,715.25 496.34,715.71 496.46,715.96 496.58,716.01 496.7,715.87 496.82,715.48 496.94,714.88 497.06,714.08 497.18,713.12 497.3,712.03 497.42,710.85 497.54,709.62 497.66,708.4 497.78,707.21 497.9,706.1 498.02,705.1 498.14,704.24 498.26,703.55 498.38,703.05 498.5,702.75 498.62,702.65 498.74,702.73 498.86,702.91 498.98,703.24 499.1,703.7 499.22,704.28 499.34,704.96 499.46,705.72 499.58,706.55 499.7,707.41 499.82,708.3 499.94,709.18 500.06,710.03 500.18,710.84 500.3,711.58 500.42,712.25 500.54,712.81 500.66,713.27 500.78,713.6 500.9,713.82 501.02,713.91 501.14,713.87 501.26,713.69 501.38,713.36 501.5,712.89 501.62,712.31 501.74,711.64 501.86,710.89 501.98,710.1 502.1,709.29 502.22,708.49 502.34,707.73 502.46,707.02 502.58,706.4 502.7,705.87 502.82,705.46 502.94,705.17 503.06,705.02 503.18,704.99 503.3,705.07 503.42,705.24 503.54,705.51 503.66,705.87 503.78,706.3 503.9,706.8 504.02,707.33 504.14,707.9 504.26,708.49 504.38,709.07 504.5,709.63 504.62,710.16 504.74,710.64 504.86,711.06 504.98,711.42 505.1,711.69 505.22,711.89 505.34,711.99 505.46,712.01 505.58,711.97 505.7,711.85 505.82,711.65 505.94,711.38 506.06,711.05 506.18,710.67 506.3,710.25 506.42,709.8 506.54,709.34 506.66,708.87 506.78,708.42 506.9,707.99 507.02,707.59 507.14,707.24 507.26,706.94 507.38,706.7 507.5,706.53 507.62,706.42 507.74,706.39 507.86,706.42 507.98,706.52 508.1,706.69 508.22,706.92 508.34,707.21 508.46,707.54 508.58,707.91 508.7,708.3 508.82,708.71 508.94,709.11 509.06,709.5 509.18,709.87 509.3,710.2 509.42,710.49 509.54,710.73 509.66,710.91 509.78,711.04 509.9,711.1 510.02,711.09 510.14,711.03 510.26,710.89 510.38,710.7 510.5,710.46 510.62,710.18 510.74,709.86 510.86,709.53 510.98,709.18 511.1,708.84 511.22,708.51 511.34,708.21 511.46,707.94 511.58,707.71 511.7,707.52 511.82,707.39 511.94,707.32 512.06,707.29 512.18,707.32 512.3,707.39 512.42,707.5 512.54,707.65 512.66,707.83 512.78,708.03 512.9,708.26 513.02,708.5 513.14,708.74 513.26,708.98 513.38,709.21 513.5,709.43 513.62,709.63 513.74,709.81 513.86,709.96 513.98,710.07 514.1,710.15 514.22,710.2 514.34,710.21 514.46,710.19 514.58,710.13 514.7,710.04 514.82,709.91 514.94,709.76 515.06,709.58 515.18,709.39 515.3,709.2 515.42,708.99 515.54,708.8 515.66,708.61 515.78,708.44 515.9,708.3 516.02,708.18 516.14,708.09 516.26,708.03 516.38,708 516.5,708 516.62,708.02 516.74,708.07 516.86,708.14 516.98,708.23 517.1,708.33 517.22,708.45 517.34,708.58 517.46,708.71 517.58,708.84 517.7,708.98 517.82,709.11 517.94,709.22 518.06,709.33 518.18,709.42 518.3,709.5 518.42,709.55 518.54,709.59 518.66,709.61 518.78,709.6 518.9,709.59 519.02,709.55 519.14,709.5 519.26,709.43 519.38,709.34 519.5,709.25 519.62,709.15 519.74,709.04 519.86,708.93 519.98,708.82 520.1,708.72 520.22,708.63 520.34,708.55 520.46,708.48 520.58,708.42 520.7,708.38 520.82,708.35 520.94,708.35 521.06,708.36 521.18,708.38 521.3,708.41 521.42,708.46 521.54,708.51 521.66,708.58 521.78,708.65 521.9,708.73 522.02,708.81 522.14,708.89 522.26,708.97 522.38,709.04 522.5,709.1 522.62,709.16 522.74,709.21 522.86,709.25 522.98,709.28 523.1,709.3 523.22,709.3 523.34,709.3 523.46,709.28 523.58,709.26 523.7,709.22 523.82,709.18 523.94,709.12 524.06,709.07 524.18,709.01 524.3,708.95 524.42,708.88 524.54,708.83 524.66,708.77 524.78,708.72 524.9,708.68 525.02,708.65 525.14,708.62 525.26,708.6 525.38,708.6 525.5,708.6 525.62,708.61 525.74,708.62 525.86,708.65 525.98,708.67 526.1,708.71 526.22,708.75 526.34,708.79 526.46,708.83 526.58,708.87 526.7,708.91 526.82,708.95 526.94,708.99 527.06,709.02 527.18,709.05 527.3,709.07 527.42,709.09 527.54,709.1 527.66,709.1 527.78,709.1 527.9,709.1 528.02,709.08 528.14,709.07 528.26,709.05 528.38,709.02 528.5,708.99 528.62,708.96 528.74,708.93 528.86,708.9 528.98,708.87 529.1,708.84 529.22,708.82 529.34,708.8 529.46,708.78 529.58,708.76 529.7,708.75 529.82,708.75 529.94,708.75 530.06,708.75 530.18,708.76 530.3,708.77 530.42,708.78 530.54,708.8 530.66,708.82 530.78,708.84 530.9,708.86 531.02,708.88 531.14,708.9 531.26,708.92 531.38,708.94 531.5,708.95 531.62,708.96 531.74,708.97 531.86,708.98 531.98,708.98 532.1,708.98 532.22,708.98 532.34,708.98 532.46,708.97 532.58,708.96 532.7,708.95 532.82,708.94 532.94,708.93 533.06,708.92 533.18,708.91 533.3,708.9 533.42,708.89 533.54,708.88 533.66,708.88 533.78,708.87 533.9,708.87 534.02,708.87 534.14,708.87 534.26,708.87 534.38,708.87 534.5,708.88 534.62,708.88 534.74,708.89 534.86,708.89 534.98,708.89 535.1,708.9 535.22,708.9 535.34,708.9 535.46,708.9 535.58,708.9 535.7,708.9 535.82,708.9 535.94,708.9 536.06,708.9 536.18,708.9 536.3,708.9 536.42,708.9 536.54,708.9 536.66,708.9 536.78,708.9 536.9,708.9 537.02,708.9 537.14,708.9 537.26,708.9 537.38,708.9 537.5,708.9 537.62,708.9 537.74,708.9 537.86,708.9 537.98,708.9 538.1,708.9 538.22,708.9 538.34,708.9 538.46,708.9 538.58,708.9 538.7,708.9 538.82,708.9 538.94,708.9 539.06,708.9 539.18,708.9 539.3,708.9 539.42,708.9 539.54,708.9 539.66,708.9 539.78,708.9 539.9,708.9 540.02,708.9 540.14,708.9 540.26,708.9 540.38,708.9 540.5,708.9 540.62,708.9 540.74,708.9 540.86,708.9 540.98,708.9 541.1,708.9 541.22,708.9 541.34,708.9 541.46,708.9 541.58,708.9 541.7,708.9 541.82,708.9 541.94,708.9 542.06,708.9 542.18,708.9 542.3,708.9 542.42,708.9 542.54,708.9 542.66,708.9 542.78,708.9 542.9,708.9 543.02,708.9 543.14,708.9 543.26,708.9 543.38,708.9 543.5,708.9 543.62,708.9 543.74,708.9 543.86,708.9 543.98,708.9 544.1,708.9 544.22,708.9 544.34,708.9 544.46,708.9 544.58,708.9 544.7,708.9 544.82,708.9 544.94,708.9 545.06,708.9 545.18,708.9 545.3,708.9 545.42,708.9 545.54,708.9 545.66,708.9 545.78,708.9 545.9,708.9 546.02,708.9 546.14,708.9 546.26,708.9 546.38,708.9 546.5,708.9 546.62,708.9 546.74,708.9 546.86,708.9 546.98,708.9 547.1,708.9 547.22,708.9 547.34,708.9 547.46,708.9 547.58,708.9 547.7,708.9 547.82,708.9 547.94,708.9 548.06,708.9 548.18,708.9 548.3,708.9 548.42,708.9 548.54,708.9 548.66,708.9 548.78,708.9 548.9,708.9 549.02,708.9 549.14,708.9 549.26,708.9 549.38,708.9 549.5,708.9 549.62,708.9 549.74,708.9 549.86,708.9 549.98,708.9 550.1,708.9 550.22,708.9 550.34,708.9 550.46,708.9 550.58,708.9 550.7,708.9 550.82,708.9 550.94,708.9 551.06,708.9 551.18,708.9 551.3,708.9 551.42,708.9 551.54,708.9 551.66,708.9 551.78,708.9 551.9,708.9 552.02,708.9 552.14,708.9 552.26,708.9 552.38,708.9 552.5,708.9 552.62,708.9 552.74,708.9 552.86,708.9 552.98,708.9 553.1,708.9 553.22,708.9 553.34,708.9 553.46,708.9 553.58,708.9 553.7,708.9 553.82,708.9 553.94,708.9 554.06,708.9 554.18,708.9 554.3,708.9 554.42,708.9 554.54,708.9 554.66,708.9 554.78,708.9 554.9,708.9 555.02,708.9 555.14,708.9 555.26,708.9 555.38,708.9 555.5,708.9 555.62,708.9 555.74,708.9 555.86,708.9 555.98,708.9 556.1,708.9 556.22,708.9 556.34,708.9 556.46,708.9 556.58,708.9 556.7,708.9 556.82,708.9 556.94,708.9 557.06,708.9 557.18,708.9 557.3,708.9 557.42,708.9 557.54,708.9 557.66,708.9 557.78,708.9 557.9,708.9 558.02,708.9 558.14,708.9 558.26,708.9 558.38,708.9 558.5,708.9 558.62,708.9 558.74,708.9 558.86,708.9 558.98,708.9 559.1,708.9 559.22,708.9 559.34,708.9 559.46,708.9 559.58,708.9 559.7,708.9 559.82,708.9 559.94,708.9 560.06,708.9 560.18,708.9 560.3,708.9 560.42,708.9 560.54,708.9 560.66,708.9 560.78,708.9 560.9,708.9 561.02,708.9 561.14,708.9 561.26,708.9 561.38,708.9 561.5,708.9 561.62,708.9 561.74,708.9 561.86,708.9 561.98,708.9 562.1,708.9 562.22,708.9 562.34,708.9 562.46,708.9 562.58,708.9 562.7,708.9 562.82,708.9 562.94,708.9 563.06,708.9 563.18,708.9 563.3,708.9 563.42,708.9 563.54,708.9 563.66,708.9 563.78,708.9 563.9,708.9 564.02,708.9 564.14,708.9 564.26,708.9 564.38,708.9 564.5,708.9 564.62,708.9 564.74,708.9 564.86,708.9 564.98,708.9 565.1,708.9 565.22,708.9 565.34,708.9 565.46,708.9 565.58,708.9 565.7,708.9 565.82,708.9 565.94,708.9 566.06,708.9 566.18,708.9 566.3,708.9 566.42,708.9 566.54,708.9 566.66,708.9 566.78,708.9 566.9,708.9 567.02,708.9 567.14,708.9 567.26,708.9 567.38,708.9 567.5,708.9 567.62,708.9 567.74,708.9 567.86,708.9 567.98,708.9 568.1,708.9 568.22,708.9 568.34,708.9 568.46,708.9 568.58,708.9 568.7,708.9 568.82,708.9 568.94,708.9 569.06,708.9 569.18,708.9 569.3,708.9 569.42,708.9 569.54,708.9 569.66,708.9 569.78,708.9 569.9,708.9 570.02,708.9 570.14,708.9 570.26,708.9 570.38,708.9 570.5,708.9 570.62,708.9 570.74,708.9 570.86,708.9 570.98,708.9 571.1,708.9 571.22,708.9 571.34,708.9 571.46,708.9 571.58,708.9 571.7,708.9 571.82,708.9 571.94,708.9 572.06,708.9 572.18,708.9 572.3,708.9 572.42,708.9 572.54,708.9 572.66,708.9 572.78,708.9 572.9,708.9 573.02,708.9 573.14,708.9 573.26,708.9 573.38,708.9 573.5,708.9 573.62,708.9 573.74,708.9 573.86,708.9 573.98,708.9 574.1,708.9 574.22,708.9 574.34,708.9 574.46,708.9 574.58,708.9" fill="none" stroke="#1f7fc6" stroke-width="0.9" stroke-linejoin="round"/>
<rect x="65.5" y="547.3" width="378.1" height="183" fill="none" stroke="#454545" stroke-width="1"/>
<path d="M119,730.3v-4M119,547.3v4M190.85,730.3v-4M190.85,547.3v4M262.7,730.3v-4M262.7,547.3v4M334.55,730.3v-4M334.55,547.3v4M406.4,730.3v-4M406.4,547.3v4M65.5,730.3h4M443.6,730.3h-4M65.5,690.9h4M443.6,690.9h-4M65.5,651.5h4M443.6,651.5h-4M65.5,612.1h4M443.6,612.1h-4M65.5,572.7h4M443.6,572.7h-4" stroke="#454545" stroke-width="0.9" fill="none"/>
<text transform="translate(118.3,750.5) scale(0.93,1)" text-anchor="middle" font-size="15.3">0.4</text>
<text transform="translate(190.15,750.5) scale(0.93,1)" text-anchor="middle" font-size="15.3">0.41</text>
<text transform="translate(262,750.5) scale(0.93,1)" text-anchor="middle" font-size="15.3">0.42</text>
<text transform="translate(333.85,750.5) scale(0.93,1)" text-anchor="middle" font-size="15.3">0.43</text>
<text transform="translate(405.7,750.5) scale(0.93,1)" text-anchor="middle" font-size="15.3">0.44</text>
<text transform="translate(58.8,735.7) scale(0.93,1)" text-anchor="end" font-size="15.3">0</text>
<text transform="translate(58.8,696.3) scale(0.93,1)" text-anchor="end" font-size="15.3">500</text>
<text transform="translate(58.8,656.9) scale(0.93,1)" text-anchor="end" font-size="15.3">1000</text>
<text transform="translate(58.8,617.5) scale(0.93,1)" text-anchor="end" font-size="15.3">1500</text>
<text transform="translate(58.8,578.1) scale(0.93,1)" text-anchor="end" font-size="15.3">2000</text>
<text x="253.7" y="768.8" text-anchor="middle" font-size="14.5">Time (s)</text>
<text transform="translate(22.5,638.8) rotate(-90)" text-anchor="middle" font-size="14.45">Contact force (N)</text>
<line x1="204.38" y1="620.5" x2="287.62" y2="620.5" stroke="#222" stroke-width="1.0"/>
<polygon points="198.8,620.5 208.1,624.1 205.5,620.5 208.1,616.9" fill="#000"/>
<polygon points="293.2,620.5 283.9,616.9 286.5,620.5 283.9,624.1" fill="#000"/>
<text x="208.4" y="604.4" font-size="15.9" textLength="12.7" lengthAdjust="spacingAndGlyphs">Δ</text>
<text x="221.2" y="604.4" font-size="14.2" font-style="italic">t</text>
<text x="226.9" y="604.4" font-size="14.2">=0.0130</text>
<text x="279.01" y="604.4" font-size="14.2">s</text>
<ellipse cx="304.8" cy="649.5" rx="30.5" ry="85.8" fill="none" stroke="#000" stroke-width="3.5"/>
<polyline clip-path="url(#cc2)" points="501.7,726.9 534.2,726.9 534.4,700 535.5,568.3 554.7,570.4 555,600 555.1,672.4 555.1,672.4 555.54,672.41 555.99,672.43 556.43,672.46 556.87,672.52 557.32,672.92 557.76,673.75 558.21,674.85 558.65,676.09 559.09,677.37 559.54,678.93 559.98,680.78 560.42,682.87 560.87,685.15 561.31,687.6 561.75,690.49 562.2,693.72 562.64,697.12 563.08,700.53 563.53,703.91 563.97,707.43 564.42,711.01 564.86,714.54 565.3,717.89 565.75,721.1 566.19,724.28 566.63,727.34 567.08,730.16 567.52,732.6 567.96,734.82 568.41,736.92 568.85,738.78 569.29,740.31 569.74,741.41 570.18,742.36 570.63,743.26 571.07,744.03 571.51,744.65 571.96,745.05 572.4,745.2 580.4,745.2 580.9,744.57 581.39,743.78 581.89,742.86 582.38,741.82 582.88,740.69 583.38,739.47 583.87,738.16 584.37,736.63 584.86,734.89 585.36,733.01 585.85,731.01 586.35,728.96 586.85,726.91 587.34,724.71 587.84,722.32 588.33,719.84 588.83,717.37 589.33,714.99 589.82,712.82 590.32,710.87 590.81,709 591.31,707.2 591.81,705.5 592.3,703.92 592.8,702.47 593.29,701.17 593.79,699.91 594.28,698.69 594.78,697.6 595.28,696.72 595.77,696.12 596.27,695.73 596.76,695.39 597.26,695.13 597.76,695.01 598.25,695.08 598.75,695.43 599.24,696 599.74,696.72 600.24,697.5 600.73,698.45 601.23,699.78 601.72,701.38 602.22,703.16 602.72,705.01 603.21,706.93 603.71,709.13 604.2,711.54 604.7,714.04 605.19,716.54 605.69,718.91 606.19,721.06 606.68,723.11 607.18,725.15 607.67,727.11 608.17,728.96 608.67,730.65 609.16,732.13 609.66,733.41 610.15,734.61 610.65,735.72 611.15,736.74 611.64,737.64 612.14,738.42 612.63,739.06 613.13,739.65 613.62,740.2 614.12,740.69 614.62,741.11 615.11,741.45 615.61,741.67 616.1,741.81 616.6,741.94 617.1,742.03 617.59,742.09 618.09,742.09 618.58,741.99 619.08,741.78 619.58,741.5 620.07,741.17 620.57,740.8 621.06,740.43 621.56,740.02 622.05,739.54 622.55,738.98 623.05,738.35 623.54,737.66 624.04,736.91 624.53,736.11 625.03,735.26 625.53,734.36 626.02,733.31 626.52,732.09 627.01,730.74 627.51,729.29 628.01,727.78 628.5,726.24 629,724.71 629.49,723.21 629.99,721.73 630.48,720.15 630.98,718.52 631.48,716.92 631.97,715.4 632.47,714.02 632.96,712.82 633.46,711.67 633.96,710.57 634.45,709.59 634.95,708.8 635.44,708.26 635.94,707.86 636.44,707.5 636.93,707.22 637.43,707.04 637.92,707.01 638.42,707.15 638.92,707.45 639.41,707.87 639.91,708.37 640.4,708.9 640.9,709.61 641.39,710.6 641.89,711.8 642.39,713.12 642.88,714.49 643.38,715.83 643.87,717.11 644.37,718.48 644.87,719.94 645.36,721.43 645.86,722.92 646.35,724.37 646.85,725.75 647.35,726.99 647.84,728.08 648.34,729.04 648.83,729.96 649.33,730.84 649.82,731.67 650.32,732.44 650.82,733.14 651.31,733.77 651.81,734.32 652.3,734.79 652.8,735.22 653.3,735.64 653.79,736.01 654.29,736.33 654.78,736.59 655.28,736.77 655.78,736.89 656.27,736.99 656.77,737.08 657.26,737.15 657.76,737.19 658.25,737.2 658.75,737.13 659.25,737 659.74,736.81 660.24,736.57 660.73,736.31 661.23,736.03 661.73,735.74 662.22,735.44 662.72,735.07 663.21,734.64 663.71,734.17 664.21,733.66 664.7,733.1 665.2,732.52 665.69,731.91 666.19,731.29 666.68,730.58 667.18,729.79 667.68,728.93 668.17,728.03 668.67,727.09 669.16,726.15 669.66,725.22 670.16,724.32 670.65,723.46 671.15,722.57 671.64,721.65 672.14,720.72 672.64,719.82 673.13,718.95 673.63,718.16 674.12,717.46 674.62,716.88 675.12,716.37 675.61,715.88 676.11,715.44 676.6,715.04 677.1,714.7 677.59,714.43 678.09,714.23 678.59,714.05 679.08,713.93 679.58,713.91 680.07,714.04 680.57,714.28 681.07,714.61 681.56,714.98 682.06,715.37 682.55,715.79 683.05,716.32 683.55,716.93 684.04,717.61 684.54,718.32 685.03,719.05 685.53,719.79 686.02,720.56 686.52,721.37 687.02,722.22 687.51,723.11 688.01,724.04 688.5,725 689,726" fill="none" stroke="#1f7fc6" stroke-width="0.95" stroke-linejoin="round"/>
<path d="M534.4,726.9L535.1,568.2" stroke="#1068ba" stroke-width="1.8" fill="none"/>
<rect x="501.7" y="547" width="186.3" height="198" fill="none" stroke="#454545" stroke-width="1"/>
<path d="M506,745v-2.4M506,547v2.4M569.2,745v-2.4M569.2,547v2.4M632.4,745v-2.4M632.4,547v2.4M501.7,745h2.4M688,745h-2.4M501.7,710.15h2.4M688,710.15h-2.4M501.7,675.3h2.4M688,675.3h-2.4M501.7,640.45h2.4M688,640.45h-2.4M501.7,605.6h2.4M688,605.6h-2.4M501.7,570.75h2.4M688,570.75h-2.4" stroke="#454545" stroke-width="0.9" fill="none"/>
<text transform="translate(505.3,765.8) scale(0.93,1)" text-anchor="middle" font-size="15.3">0.437</text>
<text transform="translate(568.5,765.8) scale(0.93,1)" text-anchor="middle" font-size="15.3">0.438</text>
<text transform="translate(631.7,765.8) scale(0.93,1)" text-anchor="middle" font-size="15.3">0.439</text>
<text transform="translate(495.8,750.7) scale(0.93,1)" text-anchor="end" font-size="15.3">0</text>
<text transform="translate(495.8,715.85) scale(0.93,1)" text-anchor="end" font-size="15.3">500</text>
<text transform="translate(495.8,681) scale(0.93,1)" text-anchor="end" font-size="15.3">1000</text>
<text transform="translate(495.8,646.15) scale(0.93,1)" text-anchor="end" font-size="15.3">1500</text>
<text transform="translate(495.8,611.3) scale(0.93,1)" text-anchor="end" font-size="15.3">2000</text>
<text transform="translate(495.8,576.45) scale(0.93,1)" text-anchor="end" font-size="15.3">2500</text>
<line x1="527" y1="637" x2="596" y2="637" stroke="#222" stroke-width="1"/>
<polygon points="532.6,637 522.7,633.4 525.47,637 522.7,640.6" fill="#000"/>
<polygon points="553.8,637 563,640.6 560.42,637 563,633.4" fill="#000"/>
<line x1="600.6" y1="587" x2="578.35" y2="630.24" stroke="#222" stroke-width="0.9"/>
<polygon points="575.8,635.2 583.26,628.58 578.86,629.25 576.85,625.28" fill="#000"/>
<text x="565.3" y="583.4" font-size="15.9" textLength="12.7" lengthAdjust="spacingAndGlyphs">Δ</text>
<text x="578.1" y="583.4" font-size="14.2" font-style="italic">t</text>
<text x="583.8" y="583.4" font-size="14.2">=3×10</text>
<text x="621.92" y="576.5" font-size="12">-4</text>
<text x="636.56" y="583.4" font-size="14.2">s</text>
<path fill="#b02327" d="M321.2,26.6 C331,17 348,9.5 377,7.3 C398,6.5 418,9.5 434.1,16 L440,1.7 L462.5,33 L424.9,43.2 L429.9,28 C416,22 400,17 383,14.2 C362,12.5 340,17 321.2,26.6Z"/>
<path fill="#b02327" d="M291,303.9 C303,290 325,281 352,277.8 C378,276.3 405,276.4 429.3,278.9 L431.4,264.7 L467.1,292.4 L423.6,307.6 L426.4,293.3 C408,287.3 388,285 366,285.2 C340,285.6 313,291 291,303.9Z"/>
<path fill="#b02327" d="M322.9,564.6 C336,551 356,543 383,539.4 C410,536 438,536.6 461.1,539.8 L463.4,525.9 L499.4,553.9 L455.4,568.7 L458.3,553.3 C436,547.2 412,545 388,546.4 C362,548 340,554 322.9,564.6Z"/>
<text x="172.2" y="255.7" font-size="16.55" textLength="368.6">(a) Contact force under the condition of outer-ring fault</text>
<text x="172.2" y="525.8" font-size="16.55" textLength="369">(b) Contact force under the condition of inner-ring fault</text>
<text x="153.9" y="794.8" font-size="16.55" textLength="404.6">(c) Contact force under the condition of rolling-element fault</text>
</svg></body></html>
